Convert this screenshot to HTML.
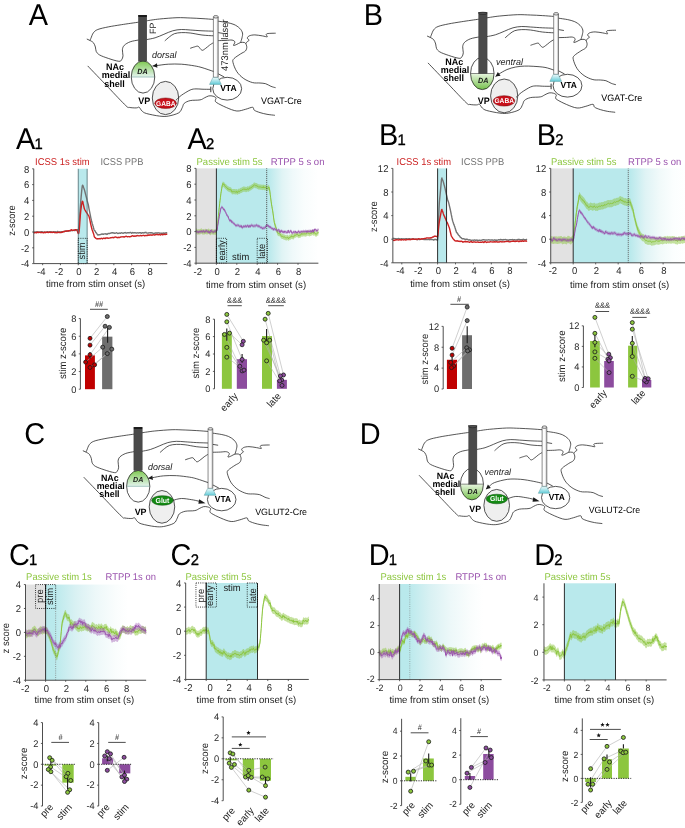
<!DOCTYPE html>
<html><head><meta charset="utf-8"><style>
html,body{margin:0;padding:0;background:#fff;}
svg{display:block;will-change:transform;}
text{font-family:"Liberation Sans", sans-serif;text-rendering:geometricPrecision;}
</style></head><body>
<svg width="685" height="828" viewBox="0 0 685 828" font-family='"Liberation Sans", sans-serif'>
<defs><g id="brainlines" fill="none" stroke="#1a1a1a" stroke-width="0.75"><path d="M86.8,39.0 L90.1,40.5"/><path d="M90.1,40.5 C90.2,40.1 90.4,39.6 90.9,38.3 C91.5,37.0 92.2,34.3 93.4,32.8 C94.6,31.3 95.3,30.5 97.8,29.5 C100.3,28.5 104.4,27.7 108.3,26.9 C112.2,26.1 116.4,25.5 121.4,24.7 C126.4,23.9 135.7,22.6 138.5,22.2"/><path d="M146.6,20.8 C148.8,20.5 154.4,19.5 159.5,19.0 C164.6,18.5 171.9,17.9 177.0,17.7 C182.1,17.5 186.0,17.9 190.2,18.0 C194.4,18.1 198.1,18.4 202.0,18.6 C205.9,18.8 211.5,19.3 213.4,19.4"/><path d="M218.2,21.2 C219.7,21.4 224.7,22.1 227.3,22.6 C229.9,23.2 231.9,23.6 234.0,24.5 C236.1,25.4 238.3,26.9 239.7,28.3 C241.1,29.7 242.1,31.4 242.5,33.0 C242.9,34.6 242.3,36.2 242.0,37.8 C241.7,39.4 240.8,41.7 240.6,42.5"/><path d="M90.1,40.5 C90.6,40.9 92.5,41.6 93.4,42.7 C94.3,43.8 94.9,45.5 95.4,47.0 C95.9,48.5 95.5,50.1 96.2,51.4 C96.9,52.7 97.5,53.7 99.5,54.9 C101.5,56.1 105.1,57.3 108.3,58.4 C111.5,59.5 116.6,61.1 118.8,61.3 C121.0,61.5 120.9,60.7 121.6,59.8 C122.3,58.9 122.9,57.5 123.0,55.8 C123.1,54.1 122.2,51.5 122.4,49.7 C122.6,48.0 123.0,46.6 124.3,45.3 C125.6,44.0 127.8,42.7 130.2,41.8 C132.6,40.9 137.1,40.3 138.5,40.0"/><path d="M146.6,39.6 C148.0,39.3 152.2,38.7 155.1,37.8 C158.0,36.9 161.0,35.5 163.9,34.3 C166.8,33.1 169.8,31.6 172.7,30.8 C175.6,30.0 178.5,29.6 181.4,29.5 C184.3,29.4 186.8,29.8 190.2,30.0 C193.6,30.2 198.1,30.6 202.0,30.8 C205.9,31.0 211.5,31.1 213.4,31.2"/><path d="M164.8,40.9 C165.6,40.2 167.9,38.0 169.5,36.8 C171.1,35.6 172.4,34.4 174.4,33.7 C176.4,33.0 178.8,32.7 181.4,32.6 C184.0,32.5 186.8,32.6 190.2,33.0 C193.6,33.4 198.1,34.5 202.0,35.0 C205.9,35.5 211.5,35.7 213.4,35.8"/><path d="M218.2,32.6 L223.6,33.5"/><path d="M190.2,48.3 C190.9,48.1 193.2,47.2 194.5,46.9 C195.8,46.5 197.1,45.9 198.0,46.2 C198.9,46.5 199.5,47.9 200.2,48.6 C200.9,49.3 201.5,50.3 202.3,50.3 C203.2,50.3 204.1,49.5 205.3,48.6 C206.5,47.8 208.2,46.2 209.5,45.2 C210.8,44.2 212.8,43.1 213.4,42.7"/><path d="M218.2,40.6 C219.5,40.6 223.7,40.5 226.0,40.4 C228.3,40.3 230.6,39.8 232.1,40.1 C233.6,40.4 234.7,41.1 234.9,42.0 C235.1,42.9 233.2,45.0 233.5,45.4 C233.8,45.8 235.6,44.9 236.8,44.4 C238.0,43.9 239.3,42.8 240.6,42.5 C241.9,42.2 243.5,42.3 244.4,42.5 C245.3,42.7 245.6,43.3 245.8,43.5"/><path d="M245.8,43.5 C246.1,43.2 246.7,42.2 247.3,41.6 C247.9,41.0 249.2,40.7 249.2,40.1 C249.2,39.5 247.3,38.9 247.3,38.2 C247.3,37.5 247.9,36.5 249.2,35.9 C250.4,35.3 252.6,34.9 254.8,34.9 C257.0,34.9 260.3,35.6 262.4,35.9 C264.5,36.2 266.6,37.0 267.2,36.8 C267.8,36.6 266.0,35.0 266.2,34.5 C266.4,34.0 266.5,33.7 268.1,33.5 C269.7,33.3 274.4,33.2 275.7,33.2"/><path d="M245.8,43.5 C246.0,44.1 246.9,46.0 246.8,47.3 C246.7,48.5 246.4,49.9 245.4,51.0 C244.4,52.1 242.5,52.6 240.6,53.9 C238.7,55.2 235.3,57.2 234.0,58.6 C232.7,60.0 232.5,60.3 233.0,62.5 C233.5,64.7 235.0,68.9 236.8,71.6 C238.6,74.3 241.2,76.8 243.8,78.6 C246.4,80.4 249.9,81.9 252.6,82.6 C255.3,83.3 257.8,82.8 260.0,83.0 C262.2,83.2 263.8,83.2 265.6,83.7 C267.4,84.2 269.2,85.6 270.9,86.3 C272.6,87.0 274.8,87.5 275.6,87.7"/><path d="M218.2,73.8 L224.3,77.0"/><path d="M87.7,65.9 C91.1,69.5 102.0,80.8 108.3,87.4 C114.6,94.0 122.3,102.3 125.8,105.6 C129.3,108.9 127.6,107.0 129.3,107.4 C131.1,107.8 134.7,108.0 136.3,107.9 C137.9,107.9 138.2,106.9 138.9,107.1 C139.6,107.3 140.2,108.6 140.7,109.3 C141.2,110.0 141.1,110.3 142.0,111.0 C142.9,111.7 143.5,112.7 146.4,113.5 C149.3,114.3 155.8,115.7 159.5,116.1 C163.2,116.5 165.1,116.6 168.3,116.1 C171.5,115.5 176.5,114.2 178.8,112.8 C181.1,111.4 181.4,109.1 182.3,107.5 C183.2,105.9 182.9,104.6 184.2,103.4 C185.5,102.2 187.6,101.2 190.2,100.6 C192.8,100.0 197.6,100.4 200.0,99.9 C202.4,99.5 202.9,98.6 204.4,97.9 C205.9,97.2 207.4,96.2 208.8,95.9 C210.2,95.6 211.9,95.9 213.1,96.2 C214.3,96.5 215.6,97.2 216.0,97.9 C216.4,98.6 215.2,99.7 215.3,100.5 C215.4,101.3 215.0,101.5 216.8,102.7 C218.6,103.9 223.0,106.1 226.3,107.5 C229.6,108.9 233.6,110.7 236.8,111.0 C240.0,111.3 242.9,109.9 245.5,109.3 C248.1,108.7 251.1,107.1 252.6,107.3 C254.1,107.5 253.1,109.3 254.3,110.2 C255.5,111.1 257.9,111.9 260.0,112.6 C262.1,113.3 264.5,113.8 267.0,114.3 C269.5,114.8 273.6,115.1 274.9,115.3"/></g><linearGradient id="cone" x1="0" y1="0" x2="0" y2="1"><stop offset="0" stop-color="#eefafb"/><stop offset="1" stop-color="#62ccd8"/></linearGradient><linearGradient id="lfib" x1="0" y1="0" x2="1" y2="0"><stop offset="0" stop-color="#ffffff"/><stop offset="0.62" stop-color="#fbfbfb"/><stop offset="0.8" stop-color="#d4d4d4"/><stop offset="1" stop-color="#c4c4c4"/></linearGradient><linearGradient id="gtop" x1="0" y1="0" x2="0" y2="1"><stop offset="0" stop-color="#7ec850"/><stop offset="1" stop-color="#e4f4ee"/></linearGradient><linearGradient id="gbot" x1="0" y1="0" x2="0" y2="1"><stop offset="0" stop-color="#e8f6e0"/><stop offset="1" stop-color="#74c04a"/></linearGradient><linearGradient id="gA2" x1="0" y1="0" x2="1" y2="0"><stop offset="0" stop-color="#b9e9ec" stop-opacity="1"/><stop offset="0.03" stop-color="#b9e9ec" stop-opacity="1"/><stop offset="0.3" stop-color="#e0f4f5" stop-opacity="1"/><stop offset="0.5" stop-color="#eff9fa" stop-opacity="1"/><stop offset="0.72" stop-color="#f9fdfd" stop-opacity="1"/><stop offset="1" stop-color="#ffffff" stop-opacity="1"/></linearGradient><linearGradient id="gB2" x1="0" y1="0" x2="1" y2="0"><stop offset="0" stop-color="#b9e9ec" stop-opacity="1"/><stop offset="0.03" stop-color="#b9e9ec" stop-opacity="1"/><stop offset="0.3" stop-color="#dff3f5" stop-opacity="1"/><stop offset="0.55" stop-color="#f1fafa" stop-opacity="1"/><stop offset="0.78" stop-color="#fbfefe" stop-opacity="1"/><stop offset="1" stop-color="#ffffff" stop-opacity="1"/></linearGradient><linearGradient id="gC1" x1="0" y1="0" x2="1" y2="0"><stop offset="0" stop-color="#b9e9ec" stop-opacity="1"/><stop offset="0.08" stop-color="#b9e9ec" stop-opacity="1"/><stop offset="0.3" stop-color="#d9f1f3" stop-opacity="1"/><stop offset="0.5" stop-color="#edf8f9" stop-opacity="1"/><stop offset="0.7" stop-color="#fafdfd" stop-opacity="1"/><stop offset="0.82" stop-color="#ffffff" stop-opacity="1"/></linearGradient><linearGradient id="gD1" x1="0" y1="0" x2="1" y2="0"><stop offset="0" stop-color="#b9e9ec" stop-opacity="1"/><stop offset="0.08" stop-color="#b9e9ec" stop-opacity="1"/><stop offset="0.3" stop-color="#d9f1f3" stop-opacity="1"/><stop offset="0.5" stop-color="#edf8f9" stop-opacity="1"/><stop offset="0.7" stop-color="#fafdfd" stop-opacity="1"/><stop offset="0.82" stop-color="#ffffff" stop-opacity="1"/></linearGradient></defs>
<rect width="685" height="828" fill="#fff"/>
<g transform="translate(0,0)">
<use href="#brainlines"/>
<clipPath id="nacclip0_0"><ellipse cx="143.0" cy="77.0" rx="11.75" ry="16.1"/></clipPath>
<ellipse cx="143.0" cy="77.0" rx="11.75" ry="16.1" fill="#fff"/>
<rect x="131.25" y="60.9" width="23.5" height="16.1" fill="url(#gtop)" clip-path="url(#nacclip0_0)"/>
<line x1="131.25" y1="77.0" x2="154.75" y2="77.0" stroke="#8fb8b0" stroke-width="0.8"/>
<ellipse cx="143.0" cy="77.0" rx="11.75" ry="16.1" fill="none" stroke="#1a1a1a" stroke-width="0.75"/>
<text x="142.5" y="73.6" font-size="7.2" font-weight="bold" font-style="italic" text-anchor="middle" fill="#1a1a1a" transform="translate(142.50 73.60) scale(1 1.038) translate(-142.50 -73.60)">DA</text>
<rect x="138.4" y="15.2" width="8.4" height="45.9" fill="#4a4a4a" stroke="#333" stroke-width="0.4"/>
<rect x="138.4" y="15.0" width="8.4" height="2.0" fill="#1a1a1a"/>
<ellipse cx="165.5" cy="98.0" rx="13.2" ry="16.6" fill="#efefef" stroke="#1a1a1a" stroke-width="0.75"/>
<ellipse cx="165.6" cy="103.2" rx="10.8" ry="5.2" fill="#c8101a" stroke="#6a0000" stroke-width="0.5"/>
<text x="165.79999999999998" y="105.7" font-size="6.6" font-weight="bold" text-anchor="middle" fill="#fff" transform="translate(165.80 105.70) scale(1 1.038) translate(-165.80 -105.70)">GABA</text>
<ellipse cx="227.2" cy="88.7" rx="14.45" ry="11.4" fill="#fff" stroke="#1a1a1a" stroke-width="0.75"/>
<text x="228.4" y="91.2" font-size="8.5" font-weight="bold" text-anchor="middle" transform="translate(228.40 91.20) scale(1 1.038) translate(-228.40 -91.20)">VTA</text>
<path d="M213.4,17 L213.4,77.3 L218.2,77.3 L218.2,17 Z" fill="url(#lfib)" stroke="#3a3a3a" stroke-width="0.6"/>
<ellipse cx="215.8" cy="16.8" rx="2.4" ry="1.3" fill="#ddd" stroke="#3a3a3a" stroke-width="0.6"/>
<path d="M212.9,77.5 L218.1,77.5 L221.3,84.4 L209.5,84.4 Z" fill="url(#cone)" stroke="#4a8a90" stroke-width="0.4"/>
<path d="M175.9,100.3 C176.8,99.5 179.0,97.0 181.4,95.3 C183.8,93.6 187.8,91.1 190.2,90.0 C192.6,88.9 194.0,89.0 196.0,88.9 C198.0,88.8 199.6,89.1 202.0,89.2 C204.4,89.3 209.1,89.3 210.5,89.3" fill="none" stroke="#1a1a1a" stroke-width="0.75"/>
<line x1="210.8" y1="86.6" x2="210.8" y2="92.2" stroke="#1a1a1a" stroke-width="0.9"/>
<path d="M152.6,65.9 C153.2,65.9 153.9,65.9 156.5,65.6 C159.1,65.3 164.2,64.4 168.3,64.2 C172.5,64.0 177.0,63.9 181.4,64.2 C185.8,64.5 191.2,65.3 194.6,65.9 C198.0,66.5 198.9,66.7 202.0,67.6 C205.1,68.5 211.5,70.8 213.4,71.4" fill="none" stroke="#1a1a1a" stroke-width="0.75"/>
<path d="M152.60,65.90 L157.36,67.84 L157.01,63.25 Z" fill="#1a1a1a"/>
<text x="115" y="70.3" font-size="9" font-weight="bold" text-anchor="middle" transform="translate(115.00 70.30) scale(1 1.038) translate(-115.00 -70.30)">NAc</text>
<text x="115.9" y="78.2" font-size="9" font-weight="bold" text-anchor="middle" transform="translate(115.90 78.20) scale(1 1.038) translate(-115.90 -78.20)">medial</text>
<text x="114.6" y="86.5" font-size="9" font-weight="bold" text-anchor="middle" transform="translate(114.60 86.50) scale(1 1.038) translate(-114.60 -86.50)">shell</text>
<text x="144.2" y="103.6" font-size="9" font-weight="bold" text-anchor="middle" transform="translate(144.20 103.60) scale(1 1.038) translate(-144.20 -103.60)">VP</text>
<text x="261" y="104.3" font-size="9" transform="translate(261.00 104.30) scale(1 1.038) translate(-261.00 -104.30)">VGAT-Cre</text>
<text x="152.1" y="58.4" font-size="9" font-style="italic" fill="#222" transform="translate(152.10 58.40) scale(1 1.038) translate(-152.10 -58.40)">dorsal</text>
<text x="156.2" y="33.9" font-size="8.8" fill="#222" transform="translate(156.20 33.90) rotate(-90) scale(1 1.038) translate(-156.20 -33.90)">FP</text>
<text x="228" y="70.9" font-size="9.3" fill="#222" textLength="51.5" lengthAdjust="spacingAndGlyphs" transform="translate(228.00 70.90) rotate(-90) scale(1 1.038) translate(-228.00 -70.90)">473nm laser</text>
</g>
<g transform="translate(340.3,-3)">
<use href="#brainlines"/>
<clipPath id="nacclip340_-3"><ellipse cx="142.0" cy="76.5" rx="11.75" ry="16.1"/></clipPath>
<ellipse cx="142.0" cy="76.5" rx="11.75" ry="16.1" fill="#fff"/>
<rect x="130.25" y="76.5" width="23.5" height="16.1" fill="url(#gbot)" clip-path="url(#nacclip340_-3)"/>
<line x1="130.25" y1="76.5" x2="153.75" y2="76.5" stroke="#3a3a3a" stroke-width="0.6"/>
<ellipse cx="142.0" cy="76.5" rx="11.75" ry="16.1" fill="none" stroke="#1a1a1a" stroke-width="0.75"/>
<text x="142.95" y="86.0" font-size="7.2" font-weight="bold" font-style="italic" text-anchor="middle" fill="#1a1a1a" transform="translate(142.95 86.00) scale(1 1.038) translate(-142.95 -86.00)">DA</text>
<rect x="138.4" y="15.2" width="8.4" height="61.3" fill="#4a4a4a" stroke="#333" stroke-width="0.4"/>
<ellipse cx="142.6" cy="16.3" rx="4.2" ry="1.1" fill="#555" stroke="#1a1a1a" stroke-width="0.6"/>
<ellipse cx="163.9" cy="98.9" rx="13.6" ry="16.9" fill="#efefef" stroke="#1a1a1a" stroke-width="0.75"/>
<ellipse cx="163.7" cy="103.9" rx="10.8" ry="5.2" fill="#c8101a" stroke="#6a0000" stroke-width="0.5"/>
<text x="163.89999999999998" y="106.4" font-size="6.6" font-weight="bold" text-anchor="middle" fill="#fff" transform="translate(163.90 106.40) scale(1 1.038) translate(-163.90 -106.40)">GABA</text>
<ellipse cx="227.2" cy="88.7" rx="14.45" ry="11.4" fill="#fff" stroke="#1a1a1a" stroke-width="0.75"/>
<text x="228.4" y="91.2" font-size="8.5" font-weight="bold" text-anchor="middle" transform="translate(228.40 91.20) scale(1 1.038) translate(-228.40 -91.20)">VTA</text>
<path d="M213.4,17 L213.4,77.3 L218.2,77.3 L218.2,17 Z" fill="url(#lfib)" stroke="#3a3a3a" stroke-width="0.6"/>
<ellipse cx="215.8" cy="16.8" rx="2.4" ry="1.3" fill="#ddd" stroke="#3a3a3a" stroke-width="0.6"/>
<path d="M212.9,77.5 L218.1,77.5 L221.3,84.4 L209.5,84.4 Z" fill="url(#cone)" stroke="#4a8a90" stroke-width="0.4"/>
<path d="M175.9,100.3 C176.8,99.5 179.0,97.0 181.4,95.3 C183.8,93.6 187.8,91.1 190.2,90.0 C192.6,88.9 194.0,89.0 196.0,88.9 C198.0,88.8 199.6,89.1 202.0,89.2 C204.4,89.3 209.1,89.3 210.5,89.3" fill="none" stroke="#1a1a1a" stroke-width="0.75"/>
<line x1="210.8" y1="86.6" x2="210.8" y2="92.2" stroke="#1a1a1a" stroke-width="0.9"/>
<path d="M155.2,79.6 C155.8,79.2 156.8,78.2 158.7,77.0 C160.6,75.8 163.8,73.8 166.6,72.6 C169.4,71.4 172.5,70.6 175.4,70.0 C178.3,69.4 181.2,69.2 184.1,69.1 C187.0,69.0 189.5,69.1 192.9,69.3 C196.3,69.5 201.3,69.8 204.7,70.4 C208.1,71.0 211.9,72.6 213.4,73.0" fill="none" stroke="#1a1a1a" stroke-width="0.75"/>
<path d="M155.20,79.60 L160.26,78.70 L157.52,75.01 Z" fill="#1a1a1a"/>
<text x="113.9" y="68.1" font-size="9" font-weight="bold" text-anchor="middle" transform="translate(113.90 68.10) scale(1 1.038) translate(-113.90 -68.10)">NAc</text>
<text x="114.80000000000001" y="76.0" font-size="9" font-weight="bold" text-anchor="middle" transform="translate(114.80 76.00) scale(1 1.038) translate(-114.80 -76.00)">medial</text>
<text x="113.5" y="84.3" font-size="9" font-weight="bold" text-anchor="middle" transform="translate(113.50 84.30) scale(1 1.038) translate(-113.50 -84.30)">shell</text>
<text x="143.45" y="107.0" font-size="9" font-weight="bold" text-anchor="middle" transform="translate(143.45 107.00) scale(1 1.038) translate(-143.45 -107.00)">VP</text>
<text x="261" y="104.3" font-size="9" transform="translate(261.00 104.30) scale(1 1.038) translate(-261.00 -104.30)">VGAT-Cre</text>
<text x="155.7" y="68.3" font-size="9" font-style="italic" fill="#222" transform="translate(155.70 68.30) scale(1 1.038) translate(-155.70 -68.30)">ventral</text>
</g>
<g transform="translate(-3.0,412.3) scale(0.989,0.984)">
<use href="#brainlines"/>
<clipPath id="nacclip-3_412"><ellipse cx="142.8" cy="75.2" rx="11.75" ry="16.1"/></clipPath>
<ellipse cx="142.8" cy="75.2" rx="11.75" ry="16.1" fill="#fff"/>
<rect x="131.05" y="59.1" width="23.5" height="16.1" fill="url(#gtop)" clip-path="url(#nacclip-3_412)"/>
<line x1="131.05" y1="75.2" x2="154.55" y2="75.2" stroke="#8fb8b0" stroke-width="0.8"/>
<ellipse cx="142.8" cy="75.2" rx="11.75" ry="16.1" fill="none" stroke="#1a1a1a" stroke-width="0.75"/>
<text x="142.8" y="71.3" font-size="7.2" font-weight="bold" font-style="italic" text-anchor="middle" fill="#1a1a1a" transform="translate(142.80 71.30) scale(1 1.038) translate(-142.80 -71.30)">DA</text>
<rect x="138.4" y="15.2" width="8.4" height="44.1" fill="#4a4a4a" stroke="#333" stroke-width="0.4"/>
<rect x="138.4" y="15.0" width="8.4" height="2.0" fill="#1a1a1a"/>
<ellipse cx="166.8" cy="96.1" rx="12.9" ry="16.6" fill="#efefef" stroke="#1a1a1a" stroke-width="0.75"/>
<ellipse cx="167.3" cy="89.6" rx="10.9" ry="4.9" fill="#138a13" stroke="#0a4a0a" stroke-width="0.5"/>
<text x="167.3" y="92.0" font-size="7.0" font-weight="bold" text-anchor="middle" fill="#fff" transform="translate(167.30 92.00) scale(1 1.038) translate(-167.30 -92.00)">Glut</text>
<ellipse cx="227.2" cy="88.7" rx="14.45" ry="11.4" fill="#fff" stroke="#1a1a1a" stroke-width="0.75"/>
<text x="228.4" y="91.2" font-size="8.5" font-weight="bold" text-anchor="middle" transform="translate(228.40 91.20) scale(1 1.038) translate(-228.40 -91.20)">VTA</text>
<path d="M213.4,17 L213.4,77.3 L218.2,77.3 L218.2,17 Z" fill="url(#lfib)" stroke="#3a3a3a" stroke-width="0.6"/>
<ellipse cx="215.8" cy="16.8" rx="2.4" ry="1.3" fill="#ddd" stroke="#3a3a3a" stroke-width="0.6"/>
<path d="M212.9,77.5 L218.1,77.5 L221.3,84.4 L209.5,84.4 Z" fill="url(#cone)" stroke="#4a8a90" stroke-width="0.4"/>
<path d="M178.1,89.4 C179.5,89.1 183.4,87.7 186.5,87.6 C189.6,87.5 194.0,88.4 196.8,88.8 C199.6,89.2 201.7,89.8 203.5,90.2 C205.3,90.7 206.8,91.3 207.5,91.5" fill="none" stroke="#1a1a1a" stroke-width="0.75"/>
<path d="M210.8,92.4 L204.4,88.3 L203.6,92.9 Z" fill="#1a1a1a"/>
<path d="M152.8,67.1 C153.5,67.0 154.4,66.9 157.0,66.5 C159.6,66.1 164.2,64.9 168.3,64.6 C172.4,64.2 177.0,64.2 181.4,64.4 C185.8,64.6 191.2,65.4 194.6,65.9 C198.0,66.4 198.9,66.7 202.0,67.6 C205.1,68.5 211.5,70.8 213.4,71.4" fill="none" stroke="#1a1a1a" stroke-width="0.75"/>
<path d="M152.80,67.10 L157.68,68.73 L157.03,64.17 Z" fill="#1a1a1a"/>
<text x="114.1" y="70.3" font-size="9" font-weight="bold" text-anchor="middle" transform="translate(114.10 70.30) scale(1 1.038) translate(-114.10 -70.30)">NAc</text>
<text x="115.0" y="78.2" font-size="9" font-weight="bold" text-anchor="middle" transform="translate(115.00 78.20) scale(1 1.038) translate(-115.00 -78.20)">medial</text>
<text x="113.69999999999999" y="86.5" font-size="9" font-weight="bold" text-anchor="middle" transform="translate(113.70 86.50) scale(1 1.038) translate(-113.70 -86.50)">shell</text>
<text x="145.2" y="103.9" font-size="9" font-weight="bold" text-anchor="middle" transform="translate(145.20 103.90) scale(1 1.038) translate(-145.20 -103.90)">VP</text>
<text x="261" y="104.3" font-size="9" transform="translate(261.00 104.30) scale(1 1.038) translate(-261.00 -104.30)">VGLUT2-Cre</text>
<text x="152.7" y="58.5" font-size="9" font-style="italic" fill="#222" transform="translate(152.70 58.50) scale(1 1.038) translate(-152.70 -58.50)">dorsal</text>
</g>
<g transform="translate(333.2,410.7) scale(0.979,0.979)">
<use href="#brainlines"/>
<clipPath id="nacclip333_410"><ellipse cx="141.7" cy="75.0" rx="11.75" ry="16.1"/></clipPath>
<ellipse cx="141.7" cy="75.0" rx="11.75" ry="16.1" fill="#fff"/>
<rect x="129.95" y="75.0" width="23.5" height="16.1" fill="url(#gbot)" clip-path="url(#nacclip333_410)"/>
<line x1="129.95" y1="75.0" x2="153.45" y2="75.0" stroke="#3a3a3a" stroke-width="0.6"/>
<ellipse cx="141.7" cy="75.0" rx="11.75" ry="16.1" fill="none" stroke="#1a1a1a" stroke-width="0.75"/>
<text x="142.5" y="84.8" font-size="7.2" font-weight="bold" font-style="italic" text-anchor="middle" fill="#1a1a1a" transform="translate(142.50 84.80) scale(1 1.038) translate(-142.50 -84.80)">DA</text>
<rect x="138.4" y="15.2" width="8.4" height="59.8" fill="#4a4a4a" stroke="#333" stroke-width="0.4"/>
<ellipse cx="142.6" cy="16.3" rx="4.2" ry="1.1" fill="#555" stroke="#1a1a1a" stroke-width="0.6"/>
<ellipse cx="167.0" cy="96.7" rx="13.1" ry="16.3" fill="#efefef" stroke="#1a1a1a" stroke-width="0.75"/>
<ellipse cx="167.1" cy="90.2" rx="10.9" ry="4.9" fill="#138a13" stroke="#0a4a0a" stroke-width="0.5"/>
<text x="167.1" y="92.60000000000001" font-size="7.0" font-weight="bold" text-anchor="middle" fill="#fff" transform="translate(167.10 92.60) scale(1 1.038) translate(-167.10 -92.60)">Glut</text>
<ellipse cx="227.2" cy="88.7" rx="14.45" ry="11.4" fill="#fff" stroke="#1a1a1a" stroke-width="0.75"/>
<text x="228.4" y="91.2" font-size="8.5" font-weight="bold" text-anchor="middle" transform="translate(228.40 91.20) scale(1 1.038) translate(-228.40 -91.20)">VTA</text>
<path d="M213.4,17 L213.4,77.3 L218.2,77.3 L218.2,17 Z" fill="url(#lfib)" stroke="#3a3a3a" stroke-width="0.6"/>
<ellipse cx="215.8" cy="16.8" rx="2.4" ry="1.3" fill="#ddd" stroke="#3a3a3a" stroke-width="0.6"/>
<path d="M212.9,77.5 L218.1,77.5 L221.3,84.4 L209.5,84.4 Z" fill="url(#cone)" stroke="#4a8a90" stroke-width="0.4"/>
<path d="M177.9,90.0 C179.3,89.6 183.3,87.8 186.5,87.6 C189.7,87.4 194.0,88.4 196.8,88.8 C199.6,89.2 201.7,89.8 203.5,90.2 C205.3,90.7 206.8,91.3 207.5,91.5" fill="none" stroke="#1a1a1a" stroke-width="0.75"/>
<path d="M210.8,92.4 L204.4,88.3 L203.6,92.9 Z" fill="#1a1a1a"/>
<path d="M156.0,80.2 C156.6,79.7 158.1,78.3 159.5,77.2 C160.9,76.1 161.5,74.7 164.6,73.5 C167.7,72.3 173.6,70.7 178.1,70.1 C182.6,69.5 187.0,69.8 191.5,70.1 C196.0,70.4 201.2,71.5 204.9,72.2 C208.6,72.9 212.0,73.8 213.4,74.1" fill="none" stroke="#1a1a1a" stroke-width="0.75"/>
<path d="M156.00,80.20 L160.99,78.95 L158.00,75.46 Z" fill="#1a1a1a"/>
<text x="114.7" y="70.2" font-size="9" font-weight="bold" text-anchor="middle" transform="translate(114.70 70.20) scale(1 1.038) translate(-114.70 -70.20)">NAc</text>
<text x="115.60000000000001" y="78.10000000000001" font-size="9" font-weight="bold" text-anchor="middle" transform="translate(115.60 78.10) scale(1 1.038) translate(-115.60 -78.10)">medial</text>
<text x="114.3" y="86.4" font-size="9" font-weight="bold" text-anchor="middle" transform="translate(114.30 86.40) scale(1 1.038) translate(-114.30 -86.40)">shell</text>
<text x="145.1" y="103.6" font-size="9" font-weight="bold" text-anchor="middle" transform="translate(145.10 103.60) scale(1 1.038) translate(-145.10 -103.60)">VP</text>
<text x="261" y="104.3" font-size="9" transform="translate(261.00 104.30) scale(1 1.038) translate(-261.00 -104.30)">VGLUT2-Cre</text>
<text x="154.6" y="66.1" font-size="9" font-style="italic" fill="#222" transform="translate(154.60 66.10) scale(1 1.038) translate(-154.60 -66.10)">ventral</text>
</g>
<text x="28.80" y="24.80" font-size="28.9" transform="translate(28.80 24.80) scale(1 1.038) translate(-28.80 -24.80)">A</text>
<text x="363.80" y="24.80" font-size="28.9" transform="translate(363.80 24.80) scale(1 1.038) translate(-363.80 -24.80)">B</text>
<text x="24.20" y="443.60" font-size="28.9" transform="translate(24.20 443.60) scale(1 1.038) translate(-24.20 -443.60)">C</text>
<text x="359.80" y="443.70" font-size="28.9" transform="translate(359.80 443.70) scale(1 1.038) translate(-359.80 -443.70)">D</text>
<text x="16.10" y="148.70" font-size="28.9" transform="translate(16.10 148.70) scale(1 1.038) translate(-16.10 -148.70)">A</text>
<text x="34.58" y="148.70" font-size="14.8" stroke="#000" stroke-width="0.35" transform="translate(34.58 148.70) scale(1 1.038) translate(-34.58 -148.70)">1</text>
<rect x="78.25" y="168.80" width="8.90" height="94.80" fill="#b9e9ec"/>
<polyline points="33.75,231.65 34.11,231.94 34.46,232.29 34.82,232.10 35.17,232.33 35.53,231.96 35.89,232.17 36.24,231.83 36.60,232.09 36.95,231.80 37.31,232.11 37.67,232.12 38.02,232.36 38.38,231.94 38.73,232.05 39.09,232.02 39.45,232.28 39.80,232.13 40.16,232.03 40.51,232.06 40.87,231.92 41.23,231.88 41.58,231.66 41.94,231.70 42.29,231.91 42.65,231.99 43.01,232.23 43.36,232.17 43.72,232.09 44.07,232.06 44.43,232.07 44.79,232.23 45.14,232.25 45.50,232.29 45.85,232.20 46.21,232.24 46.57,232.12 46.92,231.90 47.28,231.65 47.63,231.71 47.99,232.04 48.35,232.24 48.70,231.99 49.06,231.87 49.41,231.85 49.77,232.05 50.13,231.78 50.48,231.68 50.84,231.63 51.19,231.86 51.55,231.93 51.91,232.16 52.26,232.24 52.62,232.22 52.97,232.00 53.33,231.84 53.69,231.69 54.04,231.73 54.40,231.72 54.75,231.95 55.11,231.82 55.47,231.87 55.82,231.81 56.18,231.91 56.53,231.98 56.89,231.80 57.25,231.66 57.60,231.36 57.96,231.70 58.31,232.09 58.67,232.44 59.03,232.24 59.38,231.93 59.74,231.82 60.09,232.11 60.45,232.25 60.81,232.15 61.16,231.81 61.52,231.62 61.87,231.72 62.23,231.73 62.59,231.76 62.94,231.63 63.30,231.53 63.65,231.50 64.01,231.60 64.37,231.53 64.72,231.48 65.08,231.20 65.43,231.05 65.79,230.99 66.15,231.14 66.50,231.34 66.86,231.27 67.21,231.16 67.57,231.08 67.93,231.08 68.28,231.13 68.64,230.95 68.99,230.97 69.35,230.68 69.71,230.67 70.06,230.49 70.42,230.75 70.77,230.73 71.13,230.67 71.49,230.61 71.84,230.62 72.20,230.67 72.55,230.68 72.91,230.56 73.27,230.42 73.62,230.32 73.98,230.28 74.33,230.53 74.69,230.39 75.05,230.62 75.40,230.27 75.76,230.18 76.11,229.94 76.47,230.16 76.83,230.01 77.18,229.74 77.54,229.92 77.89,230.01 78.25,230.16 78.61,228.64 78.96,225.97 79.32,221.30 79.67,216.15 80.03,210.86 80.39,206.24 80.74,201.69 81.10,197.49 81.45,193.50 81.81,189.59 82.17,186.76 82.52,185.14 82.88,185.43 83.23,186.36 83.59,187.53 83.95,188.47 84.30,189.46 84.66,190.59 85.01,192.01 85.37,193.48 85.73,194.84 86.08,196.21 86.44,197.50 86.79,199.00 87.15,200.73 87.51,202.06 87.86,203.20 88.22,204.40 88.57,206.24 88.93,208.28 89.29,210.08 89.64,211.81 90.00,213.68 90.35,215.47 90.71,217.34 91.07,218.89 91.42,220.52 91.78,221.79 92.13,223.15 92.49,224.19 92.85,225.44 93.20,226.34 93.56,227.93 93.91,229.26 94.27,230.39 94.63,230.51 94.98,230.92 95.34,231.49 95.69,232.31 96.05,232.56 96.41,233.06 96.76,233.40 97.12,234.08 97.47,234.66 97.83,235.00 98.19,235.01 98.54,234.63 98.90,234.63 99.25,234.73 99.61,234.78 99.97,234.69 100.32,234.52 100.68,234.56 101.03,234.39 101.39,234.33 101.75,234.02 102.10,233.97 102.46,233.89 102.81,234.30 103.17,234.32 103.53,234.31 103.88,233.94 104.24,233.83 104.59,233.89 104.95,233.84 105.31,234.00 105.66,233.64 106.02,233.88 106.37,233.99 106.73,234.42 107.09,234.31 107.44,234.18 107.80,233.65 108.15,233.53 108.51,233.51 108.87,233.57 109.22,233.56 109.58,233.50 109.93,233.48 110.29,233.27 110.65,233.12 111.00,233.01 111.36,233.04 111.71,232.76 112.07,232.87 112.43,232.68 112.78,232.87 113.14,233.09 113.49,232.96 113.85,233.04 114.21,232.90 114.56,233.31 114.92,233.26 115.27,233.19 115.63,233.07 115.99,232.95 116.34,232.74 116.70,232.77 117.05,233.01 117.41,233.40 117.77,233.46 118.12,233.51 118.48,233.24 118.83,233.21 119.19,233.03 119.55,233.13 119.90,233.24 120.26,233.31 120.61,233.21 120.97,232.94 121.33,232.88 121.68,232.72 122.04,232.97 122.39,232.95 122.75,233.21 123.11,233.40 123.46,233.09 123.82,233.01 124.17,232.77 124.53,232.75 124.89,232.71 125.24,232.51 125.60,232.85 125.95,232.91 126.31,233.16 126.67,232.97 127.02,233.02 127.38,232.80 127.73,232.74 128.09,232.65 128.45,232.62 128.80,232.74 129.16,232.86 129.51,232.78 129.87,232.61 130.23,232.40 130.58,232.39 130.94,232.70 131.29,232.91 131.65,233.21 132.01,232.93 132.36,232.86 132.72,232.49 133.07,232.75 133.43,232.78 133.79,232.96 134.14,232.74 134.50,232.67 134.85,232.66 135.21,232.78 135.57,232.77 135.92,232.95 136.28,232.94 136.63,233.00 136.99,232.86 137.35,232.81 137.70,232.88 138.06,232.88 138.41,232.99 138.77,232.85 139.13,232.74 139.48,232.83 139.84,232.81 140.19,232.64 140.55,232.71 140.91,232.90 141.26,233.29 141.62,233.14 141.97,232.82 142.33,232.71 142.69,232.76 143.04,232.90 143.40,232.98 143.75,232.75 144.11,232.79 144.47,232.53 144.82,232.77 145.18,232.42 145.53,232.49 145.89,232.32 146.25,232.73 146.60,232.94 146.96,233.14 147.31,233.16 147.67,233.17 148.03,233.02 148.38,233.12 148.74,232.93 149.09,232.85 149.45,232.83 149.81,232.76 150.16,232.92 150.52,232.68 150.87,232.78 151.23,232.61 151.59,232.89 151.94,232.97 152.30,232.93 152.65,232.88 153.01,233.14 153.37,233.59 153.72,233.84 154.08,233.85 154.43,233.65 154.79,233.16 155.15,232.94 155.50,232.85 155.86,233.03 156.21,232.98 156.57,233.05 156.93,233.06 157.28,233.00 157.64,233.14 157.99,232.98 158.35,232.93 158.71,232.80 159.06,232.83 159.42,233.05 159.77,233.10 160.13,233.19 160.49,233.12 160.84,233.11 161.20,233.22 161.55,233.28 161.91,233.10 162.27,233.27 162.62,233.15 162.98,233.31 163.33,232.96 163.69,232.94 164.05,233.28 164.40,233.30 164.76,233.33 165.11,232.96 165.47,233.11 165.83,233.04 166.18,233.10 166.54,232.80 166.89,232.84 167.25,232.71" fill="none" stroke="#737373" stroke-width="1.4" stroke-linejoin="round"/>
<polyline points="33.75,232.51 34.11,232.74 34.46,232.47 34.82,232.70 35.17,232.53 35.53,232.68 35.89,232.60 36.24,232.63 36.60,232.82 36.95,232.58 37.31,232.14 37.67,232.02 38.02,232.23 38.38,232.47 38.73,232.55 39.09,232.41 39.45,232.32 39.80,232.34 40.16,232.34 40.51,232.61 40.87,232.53 41.23,232.50 41.58,232.51 41.94,232.54 42.29,232.60 42.65,232.55 43.01,232.67 43.36,232.82 43.72,232.76 44.07,232.64 44.43,232.16 44.79,232.46 45.14,232.41 45.50,232.65 45.85,232.15 46.21,232.10 46.57,232.26 46.92,232.44 47.28,232.43 47.63,232.36 47.99,232.26 48.35,232.58 48.70,232.31 49.06,232.22 49.41,232.02 49.77,232.17 50.13,232.35 50.48,232.42 50.84,232.49 51.19,232.36 51.55,232.30 51.91,232.36 52.26,232.50 52.62,232.40 52.97,232.18 53.33,232.25 53.69,232.24 54.04,232.38 54.40,232.54 54.75,232.67 55.11,232.71 55.47,232.47 55.82,232.37 56.18,232.63 56.53,232.61 56.89,232.75 57.25,232.67 57.60,232.60 57.96,232.42 58.31,232.32 58.67,232.27 59.03,232.42 59.38,232.33 59.74,232.58 60.09,232.32 60.45,232.66 60.81,232.48 61.16,232.53 61.52,232.38 61.87,232.33 62.23,232.36 62.59,231.92 62.94,231.66 63.30,231.63 63.65,231.86 64.01,231.77 64.37,231.49 64.72,231.30 65.08,231.37 65.43,231.41 65.79,231.21 66.15,231.16 66.50,230.96 66.86,231.19 67.21,231.02 67.57,231.08 67.93,230.81 68.28,230.73 68.64,231.02 68.99,230.77 69.35,230.81 69.71,230.58 70.06,230.61 70.42,230.63 70.77,230.07 71.13,229.82 71.49,229.66 71.84,230.02 72.20,230.27 72.55,230.31 72.91,230.23 73.27,230.23 73.62,230.23 73.98,230.15 74.33,230.07 74.69,230.05 75.05,230.10 75.40,229.66 75.76,229.72 76.11,229.70 76.47,229.95 76.83,230.08 77.18,230.62 77.54,231.72 77.89,232.78 78.25,233.37 78.61,233.60 78.96,232.18 79.32,229.46 79.67,224.68 80.03,219.41 80.39,214.62 80.74,210.88 81.10,208.23 81.45,205.61 81.81,203.53 82.17,201.69 82.52,201.32 82.88,201.96 83.23,203.74 83.59,205.32 83.95,207.02 84.30,208.59 84.66,209.52 85.01,210.24 85.37,210.44 85.73,211.38 86.08,211.87 86.44,212.46 86.79,212.78 87.15,213.32 87.51,213.89 87.86,214.73 88.22,215.19 88.57,215.70 88.93,216.22 89.29,217.58 89.64,218.96 90.00,220.71 90.35,222.39 90.71,224.04 91.07,225.59 91.42,227.09 91.78,228.58 92.13,229.69 92.49,230.72 92.85,231.89 93.20,232.67 93.56,233.82 93.91,234.90 94.27,236.61 94.63,237.26 94.98,237.64 95.34,237.70 95.69,238.13 96.05,238.46 96.41,238.72 96.76,238.91 97.12,238.93 97.47,238.73 97.83,238.58 98.19,238.76 98.54,238.83 98.90,238.73 99.25,238.55 99.61,238.78 99.97,238.90 100.32,238.90 100.68,238.59 101.03,238.39 101.39,238.30 101.75,238.50 102.10,238.69 102.46,238.91 102.81,238.49 103.17,238.34 103.53,238.08 103.88,238.14 104.24,238.18 104.59,238.37 104.95,238.53 105.31,238.47 105.66,238.09 106.02,237.88 106.37,237.97 106.73,238.05 107.09,238.03 107.44,238.00 107.80,238.06 108.15,238.37 108.51,238.15 108.87,238.15 109.22,238.05 109.58,238.15 109.93,238.04 110.29,237.91 110.65,237.74 111.00,237.67 111.36,237.67 111.71,237.73 112.07,237.49 112.43,237.34 112.78,237.38 113.14,237.63 113.49,237.80 113.85,237.51 114.21,237.44 114.56,237.10 114.92,237.10 115.27,237.07 115.63,237.06 115.99,237.13 116.34,237.24 116.70,237.48 117.05,237.53 117.41,237.75 117.77,237.35 118.12,237.49 118.48,237.14 118.83,237.53 119.19,237.55 119.55,237.52 119.90,237.36 120.26,237.09 120.61,236.98 120.97,236.99 121.33,236.90 121.68,236.88 122.04,236.81 122.39,236.87 122.75,236.84 123.11,236.76 123.46,236.68 123.82,237.04 124.17,237.01 124.53,236.96 124.89,236.63 125.24,236.57 125.60,236.34 125.95,236.29 126.31,236.22 126.67,236.56 127.02,236.65 127.38,236.78 127.73,236.77 128.09,236.64 128.45,236.67 128.80,236.53 129.16,236.69 129.51,236.76 129.87,236.80 130.23,236.73 130.58,236.57 130.94,236.53 131.29,236.41 131.65,236.16 132.01,235.88 132.36,235.71 132.72,235.87 133.07,235.82 133.43,236.09 133.79,236.29 134.14,236.42 134.50,236.19 134.85,235.92 135.21,235.92 135.57,236.11 135.92,236.22 136.28,236.04 136.63,235.66 136.99,235.58 137.35,235.46 137.70,235.71 138.06,235.67 138.41,235.87 138.77,235.87 139.13,235.84 139.48,235.88 139.84,235.76 140.19,235.57 140.55,235.45 140.91,235.53 141.26,235.71 141.62,235.75 141.97,235.60 142.33,235.60 142.69,235.55 143.04,235.42 143.40,235.38 143.75,235.32 144.11,235.62 144.47,235.73 144.82,235.76 145.18,235.64 145.53,235.54 145.89,235.62 146.25,235.59 146.60,235.39 146.96,235.54 147.31,235.48 147.67,235.09 148.03,234.87 148.38,235.05 148.74,235.37 149.09,235.30 149.45,234.85 149.81,234.89 150.16,235.04 150.52,235.02 150.87,234.93 151.23,235.06 151.59,235.13 151.94,235.24 152.30,234.84 152.65,234.97 153.01,234.82 153.37,234.92 153.72,234.78 154.08,234.87 154.43,234.94 154.79,234.99 155.15,234.89 155.50,234.76 155.86,234.54 156.21,234.55 156.57,234.51 156.93,234.43 157.28,234.46 157.64,234.45 157.99,234.79 158.35,234.78 158.71,234.62 159.06,234.48 159.42,234.28 159.77,234.62 160.13,234.83 160.49,234.96 160.84,234.99 161.20,234.43 161.55,234.29 161.91,234.26 162.27,234.62 162.62,234.84 162.98,234.61 163.33,234.58 163.69,234.36 164.05,234.21 164.40,234.21 164.76,234.47 165.11,234.58 165.47,234.55 165.83,234.23 166.18,234.31 166.54,234.16 166.89,234.25 167.25,234.18" fill="none" stroke="#cc2222" stroke-width="1.4" stroke-linejoin="round"/>
<line x1="78.25" y1="263.60" x2="78.25" y2="168.80" stroke="#4a6a70" stroke-width="0.8"/>
<line x1="87.15" y1="263.60" x2="87.15" y2="168.80" stroke="#4a6a70" stroke-width="0.8"/>
<rect x="78.25" y="238.32" width="8.90" height="25.28" fill="none" stroke="#000" stroke-width="0.85" stroke-dasharray="0.9,1.3"/>
<text x="85.20" y="259.50" font-size="9.4" fill="#1a1a1a" text-anchor="start" transform="translate(85.20 259.50) rotate(-90) scale(1 1.038) translate(-85.20 -259.50)">stim</text>
<path d="M33.75,168.80 L33.75,263.60 L167.25,263.60" fill="none" stroke="#3a3a3a" stroke-width="0.9"/>
<line x1="42.65" y1="263.60" x2="42.65" y2="265.20" stroke="#3a3a3a" stroke-width="0.8"/>
<line x1="60.45" y1="263.60" x2="60.45" y2="265.20" stroke="#3a3a3a" stroke-width="0.8"/>
<line x1="78.25" y1="263.60" x2="78.25" y2="265.20" stroke="#3a3a3a" stroke-width="0.8"/>
<line x1="96.05" y1="263.60" x2="96.05" y2="265.20" stroke="#3a3a3a" stroke-width="0.8"/>
<line x1="113.85" y1="263.60" x2="113.85" y2="265.20" stroke="#3a3a3a" stroke-width="0.8"/>
<line x1="131.65" y1="263.60" x2="131.65" y2="265.20" stroke="#3a3a3a" stroke-width="0.8"/>
<line x1="149.45" y1="263.60" x2="149.45" y2="265.20" stroke="#3a3a3a" stroke-width="0.8"/>
<line x1="32.15" y1="263.60" x2="33.75" y2="263.60" stroke="#3a3a3a" stroke-width="0.8"/>
<line x1="32.15" y1="247.80" x2="33.75" y2="247.80" stroke="#3a3a3a" stroke-width="0.8"/>
<line x1="32.15" y1="232.00" x2="33.75" y2="232.00" stroke="#3a3a3a" stroke-width="0.8"/>
<line x1="32.15" y1="216.20" x2="33.75" y2="216.20" stroke="#3a3a3a" stroke-width="0.8"/>
<line x1="32.15" y1="200.40" x2="33.75" y2="200.40" stroke="#3a3a3a" stroke-width="0.8"/>
<line x1="32.15" y1="184.60" x2="33.75" y2="184.60" stroke="#3a3a3a" stroke-width="0.8"/>
<line x1="32.15" y1="168.80" x2="33.75" y2="168.80" stroke="#3a3a3a" stroke-width="0.8"/>
<text x="41.25" y="274.90" font-size="9.5" text-anchor="middle" fill="#2a2a2a" transform="translate(41.25 274.90) scale(1 1.038) translate(-41.25 -274.90)">-4</text>
<text x="59.05" y="274.90" font-size="9.5" text-anchor="middle" fill="#2a2a2a" transform="translate(59.05 274.90) scale(1 1.038) translate(-59.05 -274.90)">-2</text>
<text x="78.95" y="274.90" font-size="9.5" text-anchor="middle" fill="#2a2a2a" transform="translate(78.95 274.90) scale(1 1.038) translate(-78.95 -274.90)">0</text>
<text x="96.75" y="274.90" font-size="9.5" text-anchor="middle" fill="#2a2a2a" transform="translate(96.75 274.90) scale(1 1.038) translate(-96.75 -274.90)">2</text>
<text x="114.55" y="274.90" font-size="9.5" text-anchor="middle" fill="#2a2a2a" transform="translate(114.55 274.90) scale(1 1.038) translate(-114.55 -274.90)">4</text>
<text x="132.35" y="274.90" font-size="9.5" text-anchor="middle" fill="#2a2a2a" transform="translate(132.35 274.90) scale(1 1.038) translate(-132.35 -274.90)">6</text>
<text x="150.15" y="274.90" font-size="9.5" text-anchor="middle" fill="#2a2a2a" transform="translate(150.15 274.90) scale(1 1.038) translate(-150.15 -274.90)">8</text>
<text x="29.35" y="267.42" font-size="9.5" text-anchor="end" fill="#2a2a2a" transform="translate(29.35 267.42) scale(1 1.038) translate(-29.35 -267.42)">-4</text>
<text x="29.35" y="251.62" font-size="9.5" text-anchor="end" fill="#2a2a2a" transform="translate(29.35 251.62) scale(1 1.038) translate(-29.35 -251.62)">-2</text>
<text x="29.35" y="235.82" font-size="9.5" text-anchor="end" fill="#2a2a2a" transform="translate(29.35 235.82) scale(1 1.038) translate(-29.35 -235.82)">0</text>
<text x="29.35" y="220.02" font-size="9.5" text-anchor="end" fill="#2a2a2a" transform="translate(29.35 220.02) scale(1 1.038) translate(-29.35 -220.02)">2</text>
<text x="29.35" y="204.22" font-size="9.5" text-anchor="end" fill="#2a2a2a" transform="translate(29.35 204.22) scale(1 1.038) translate(-29.35 -204.22)">4</text>
<text x="29.35" y="188.42" font-size="9.5" text-anchor="end" fill="#2a2a2a" transform="translate(29.35 188.42) scale(1 1.038) translate(-29.35 -188.42)">6</text>
<text x="29.35" y="172.62" font-size="9.5" text-anchor="end" fill="#2a2a2a" transform="translate(29.35 172.62) scale(1 1.038) translate(-29.35 -172.62)">8</text>
<text x="35.10" y="164.70" font-size="9.5" fill="#cc2222" textLength="54.6" lengthAdjust="spacingAndGlyphs" transform="translate(35.10 164.70) scale(1 1.038) translate(-35.10 -164.70)">ICSS 1s stim</text>
<text x="100.50" y="164.70" font-size="9.5" fill="#737373" textLength="42.9" lengthAdjust="spacingAndGlyphs" transform="translate(100.50 164.70) scale(1 1.038) translate(-100.50 -164.70)">ICSS PPB</text>
<text x="15.00" y="220.60" font-size="9.5" text-anchor="middle" fill="#1a1a1a" textLength="30.4" lengthAdjust="spacingAndGlyphs" transform="translate(15.00 220.60) rotate(-90) scale(1 1.038) translate(-15.00 -220.60)">z-score</text>
<text x="95.65" y="287.40" font-size="9.5" text-anchor="middle" fill="#1a1a1a" textLength="99.3" lengthAdjust="spacingAndGlyphs" transform="translate(95.65 287.40) scale(1 1.038) translate(-95.65 -287.40)">time from stim onset (s)</text>
<text x="187.40" y="149.40" font-size="28.9" transform="translate(187.40 149.40) scale(1 1.038) translate(-187.40 -149.40)">A</text>
<text x="205.88" y="149.40" font-size="14.8" stroke="#000" stroke-width="0.35" transform="translate(205.88 149.40) scale(1 1.038) translate(-205.88 -149.40)">2</text>
<rect x="196.00" y="168.40" width="20.40" height="94.80" fill="#e2e2e2"/>
<rect x="216.40" y="168.40" width="50.29" height="94.80" fill="#b9e9ec"/>
<rect x="266.69" y="168.40" width="51.71" height="94.80" fill="url(#gA2)"/>
<polygon points="196.00,227.88 196.41,228.24 196.82,228.88 197.22,229.39 197.63,229.53 198.04,229.37 198.45,229.20 198.86,229.21 199.26,229.22 199.67,229.35 200.08,229.32 200.49,229.05 200.90,228.53 201.30,228.27 201.71,228.52 202.12,228.94 202.53,229.40 202.94,229.42 203.34,229.32 203.75,229.34 204.16,229.44 204.57,229.28 204.98,228.80 205.38,228.73 205.79,229.09 206.20,229.30 206.61,229.15 207.02,229.06 207.42,229.17 207.83,229.16 208.24,228.73 208.65,228.52 209.06,228.81 209.46,229.30 209.87,229.77 210.28,229.94 210.69,230.00 211.10,229.61 211.50,229.09 211.91,229.07 212.32,229.20 212.73,229.28 213.14,229.32 213.54,229.48 213.95,229.66 214.36,229.58 214.77,229.41 215.18,229.53 215.58,229.63 215.99,229.28 216.40,228.43 216.81,226.88 217.22,224.50 217.62,220.97 218.03,216.92 218.44,212.83 218.85,208.87 219.26,204.90 219.66,201.22 220.07,197.84 220.48,194.43 220.89,191.38 221.30,188.47 221.70,186.01 222.11,183.72 222.52,182.04 222.93,181.49 223.34,181.64 223.74,181.93 224.15,182.25 224.56,182.72 224.97,183.45 225.38,183.90 225.78,184.12 226.19,184.49 226.60,184.84 227.01,185.23 227.42,185.70 227.82,186.05 228.23,186.36 228.64,186.55 229.05,186.65 229.46,186.88 229.86,187.03 230.27,187.17 230.68,187.21 231.09,187.43 231.50,188.23 231.90,188.99 232.31,189.22 232.72,189.04 233.13,188.90 233.54,188.92 233.94,188.95 234.35,189.00 234.76,189.00 235.17,189.14 235.58,189.34 235.98,189.33 236.39,189.09 236.80,189.11 237.21,189.51 237.62,189.72 238.02,189.27 238.43,188.73 238.84,188.62 239.25,188.77 239.66,188.73 240.06,188.35 240.47,188.01 240.88,187.87 241.29,187.84 241.70,187.57 242.10,187.27 242.51,187.05 242.92,186.81 243.33,186.59 243.74,186.56 244.14,186.61 244.55,186.64 244.96,186.58 245.37,186.63 245.78,186.96 246.18,187.06 246.59,186.91 247.00,186.54 247.41,186.29 247.82,186.35 248.22,186.49 248.63,186.57 249.04,186.27 249.45,185.72 249.86,185.44 250.26,185.39 250.67,185.34 251.08,185.08 251.49,184.64 251.90,184.20 252.30,183.95 252.71,183.90 253.12,183.65 253.53,183.10 253.94,182.54 254.34,182.45 254.75,182.61 255.16,182.77 255.57,182.93 255.98,182.98 256.38,183.10 256.79,183.31 257.20,183.50 257.61,183.81 258.02,184.04 258.42,184.19 258.83,184.25 259.24,184.24 259.65,184.41 260.06,184.53 260.46,184.44 260.87,184.38 261.28,184.49 261.69,184.66 262.10,184.92 262.50,184.71 262.91,184.43 263.32,184.48 263.73,184.70 264.14,185.01 264.54,184.96 264.95,184.85 265.36,184.91 265.77,185.01 266.18,185.31 266.58,185.47 266.99,185.57 267.40,185.78 267.81,185.80 268.22,185.39 268.62,184.86 269.03,185.02 269.44,186.39 269.85,188.95 270.26,192.04 270.66,195.32 271.07,198.43 271.48,201.32 271.89,203.87 272.30,206.12 272.70,208.58 273.11,211.33 273.52,214.40 273.93,217.31 274.34,219.64 274.74,221.33 275.15,222.74 275.56,223.96 275.97,225.01 276.38,226.18 276.78,227.70 277.19,229.28 277.60,230.19 278.01,230.57 278.42,230.76 278.82,230.94 279.23,231.05 279.64,231.15 280.05,231.52 280.46,232.08 280.86,232.73 281.27,233.31 281.68,233.53 282.09,233.71 282.50,233.72 282.90,233.91 283.31,234.23 283.72,234.33 284.13,234.45 284.54,234.46 284.94,234.66 285.35,234.94 285.76,235.13 286.17,235.31 286.58,235.17 286.98,234.99 287.39,234.77 287.80,235.06 288.21,235.57 288.62,235.64 289.02,235.40 289.43,234.86 289.84,234.61 290.25,234.47 290.66,234.43 291.06,234.13 291.47,233.69 291.88,233.52 292.29,233.80 292.70,234.08 293.10,234.16 293.51,234.20 293.92,233.78 294.33,233.10 294.74,232.60 295.14,232.54 295.55,232.49 295.96,232.27 296.37,232.04 296.78,231.91 297.18,231.94 297.59,231.94 298.00,232.31 298.41,232.73 298.82,232.92 299.22,232.85 299.63,232.56 300.04,232.54 300.45,232.55 300.86,232.11 301.26,231.55 301.67,231.25 302.08,231.28 302.49,231.47 302.90,231.40 303.30,231.33 303.71,231.15 304.12,231.13 304.53,231.28 304.94,231.34 305.34,231.42 305.75,231.28 306.16,231.29 306.57,231.01 306.98,230.68 307.38,230.49 307.79,230.41 308.20,230.49 308.61,230.72 309.02,231.00 309.42,231.18 309.83,231.09 310.24,230.84 310.65,230.70 311.06,230.68 311.46,230.58 311.87,230.14 312.28,229.86 312.69,229.99 313.10,230.44 313.50,230.50 313.91,230.09 314.32,230.03 314.73,230.42 315.14,230.99 315.54,231.32 315.95,231.42 316.36,231.36 316.77,231.19 317.18,230.81 317.58,230.36 317.99,230.27 318.40,230.32 318.40,235.54 317.99,235.49 317.58,235.58 317.18,236.02 316.77,236.40 316.36,236.57 315.95,236.63 315.54,236.53 315.14,236.20 314.73,235.64 314.32,235.25 313.91,235.30 313.50,235.71 313.10,235.66 312.69,235.21 312.28,235.07 311.87,235.36 311.46,235.79 311.06,235.89 310.65,235.92 310.24,236.06 309.83,236.31 309.42,236.39 309.02,236.22 308.61,235.93 308.20,235.71 307.79,235.63 307.38,235.70 306.98,235.89 306.57,236.22 306.16,236.51 305.75,236.50 305.34,236.63 304.94,236.56 304.53,236.50 304.12,236.35 303.71,236.36 303.30,236.54 302.90,236.61 302.49,236.69 302.08,236.49 301.67,236.47 301.26,236.76 300.86,237.32 300.45,237.76 300.04,237.76 299.63,237.77 299.22,238.06 298.82,238.13 298.41,237.94 298.00,237.52 297.59,237.15 297.18,237.15 296.78,237.12 296.37,237.26 295.96,237.49 295.55,237.70 295.14,237.76 294.74,237.82 294.33,238.32 293.92,238.99 293.51,239.42 293.10,239.38 292.70,239.30 292.29,239.02 291.88,238.74 291.47,238.90 291.06,239.34 290.66,239.64 290.25,239.69 289.84,239.82 289.43,240.08 289.02,240.61 288.62,240.85 288.21,240.78 287.80,240.27 287.39,239.99 286.98,240.20 286.58,240.39 286.17,240.53 285.76,240.35 285.35,240.16 284.94,239.88 284.54,239.67 284.13,239.67 283.72,239.54 283.31,239.44 282.90,239.12 282.50,238.93 282.09,238.92 281.68,238.75 281.27,238.52 280.86,237.94 280.46,237.30 280.05,236.73 279.64,236.36 279.23,236.26 278.82,236.15 278.42,235.97 278.01,235.79 277.60,235.40 277.19,234.49 276.78,232.92 276.38,231.40 275.97,230.22 275.56,229.17 275.15,227.95 274.74,226.54 274.34,224.85 273.93,222.52 273.52,219.61 273.11,216.55 272.70,213.79 272.30,211.33 271.89,209.09 271.48,206.53 271.07,203.64 270.66,200.53 270.26,197.25 269.85,194.16 269.44,191.61 269.03,190.24 268.62,190.08 268.22,190.60 267.81,191.01 267.40,191.00 266.99,190.79 266.58,190.68 266.18,190.53 265.77,190.22 265.36,190.13 264.95,190.07 264.54,190.17 264.14,190.23 263.73,189.91 263.32,189.69 262.91,189.64 262.50,189.93 262.10,190.13 261.69,189.87 261.28,189.70 260.87,189.59 260.46,189.66 260.06,189.75 259.65,189.62 259.24,189.46 258.83,189.46 258.42,189.41 258.02,189.25 257.61,189.03 257.20,188.72 256.79,188.52 256.38,188.31 255.98,188.20 255.57,188.14 255.16,187.98 254.75,187.82 254.34,187.66 253.94,187.75 253.53,188.31 253.12,188.87 252.71,189.11 252.30,189.16 251.90,189.42 251.49,189.85 251.08,190.30 250.67,190.55 250.26,190.60 249.86,190.65 249.45,190.93 249.04,191.48 248.63,191.78 248.22,191.70 247.82,191.56 247.41,191.50 247.00,191.75 246.59,192.12 246.18,192.27 245.78,192.17 245.37,191.84 244.96,191.79 244.55,191.85 244.14,191.82 243.74,191.77 243.33,191.80 242.92,192.03 242.51,192.26 242.10,192.49 241.70,192.78 241.29,193.06 240.88,193.09 240.47,193.23 240.06,193.57 239.66,193.94 239.25,193.98 238.84,193.83 238.43,193.94 238.02,194.49 237.62,194.93 237.21,194.73 236.80,194.32 236.39,194.30 235.98,194.54 235.58,194.55 235.17,194.36 234.76,194.22 234.35,194.21 233.94,194.17 233.54,194.13 233.13,194.11 232.72,194.26 232.31,194.43 231.90,194.21 231.50,193.44 231.09,192.65 230.68,192.42 230.27,192.38 229.86,192.24 229.46,192.09 229.05,191.86 228.64,191.77 228.23,191.57 227.82,191.27 227.42,190.91 227.01,190.44 226.60,190.05 226.19,189.71 225.78,189.33 225.38,189.11 224.97,188.66 224.56,187.94 224.15,187.46 223.74,187.15 223.34,186.86 222.93,186.71 222.52,187.25 222.11,188.93 221.70,191.22 221.30,193.69 220.89,196.59 220.48,199.64 220.07,203.06 219.66,206.43 219.26,210.11 218.85,214.09 218.44,218.05 218.03,222.14 217.62,226.18 217.22,229.72 216.81,232.09 216.40,233.64 215.99,234.50 215.58,234.84 215.18,234.74 214.77,234.62 214.36,234.80 213.95,234.87 213.54,234.70 213.14,234.54 212.73,234.50 212.32,234.41 211.91,234.29 211.50,234.31 211.10,234.82 210.69,235.22 210.28,235.15 209.87,234.98 209.46,234.51 209.06,234.02 208.65,233.74 208.24,233.94 207.83,234.37 207.42,234.38 207.02,234.27 206.61,234.37 206.20,234.52 205.79,234.30 205.38,233.94 204.98,234.02 204.57,234.49 204.16,234.66 203.75,234.56 203.34,234.54 202.94,234.63 202.53,234.61 202.12,234.15 201.71,233.73 201.30,233.48 200.90,233.74 200.49,234.26 200.08,234.53 199.67,234.56 199.26,234.43 198.86,234.42 198.45,234.42 198.04,234.59 197.63,234.74 197.22,234.61 196.82,234.09 196.41,233.46 196.00,233.10" fill="rgba(140,198,62,0.5)" stroke="none"/>
<polyline points="196.00,230.33 196.41,230.81 196.82,231.41 197.22,232.23 197.63,232.36 198.04,231.82 198.45,231.76 198.86,231.85 199.26,231.84 199.67,231.79 200.08,232.24 200.49,231.75 200.90,230.97 201.30,230.68 201.71,230.97 202.12,231.73 202.53,231.94 202.94,232.34 203.34,231.80 203.75,231.64 204.16,232.41 204.57,232.09 204.98,231.14 205.38,230.99 205.79,231.88 206.20,232.22 206.61,231.63 207.02,231.43 207.42,231.93 207.83,231.96 208.24,231.42 208.65,230.63 209.06,231.34 209.46,232.26 209.87,232.11 210.28,232.75 210.69,232.79 211.10,232.29 211.50,231.56 211.91,231.25 212.32,232.22 212.73,231.95 213.14,231.50 213.54,232.35 213.95,232.43 214.36,232.02 214.77,232.12 215.18,231.90 215.58,232.39 215.99,232.42 216.40,230.86 216.81,229.83 217.22,227.76 217.62,223.74 218.03,219.22 218.44,215.63 218.85,211.47 219.26,207.35 219.66,203.69 220.07,200.43 220.48,197.23 220.89,193.45 221.30,191.28 221.70,188.50 222.11,186.05 222.52,184.41 222.93,183.46 223.34,184.43 223.74,184.86 224.15,184.33 224.56,185.38 224.97,186.28 225.38,186.50 225.78,186.73 226.19,186.95 226.60,187.62 227.01,187.76 227.42,188.11 227.82,189.04 228.23,188.83 228.64,189.02 229.05,189.63 229.46,189.12 229.86,189.70 230.27,190.07 230.68,189.56 231.09,189.81 231.50,190.75 231.90,191.94 232.31,192.11 232.72,191.43 233.13,191.41 233.54,191.68 233.94,191.50 234.35,191.50 234.76,191.82 235.17,191.51 235.58,191.92 235.98,192.41 236.39,191.47 236.80,191.20 237.21,192.48 237.62,192.69 238.02,191.81 238.43,191.13 238.84,191.07 239.25,191.48 239.66,191.58 240.06,190.94 240.47,190.36 240.88,190.56 241.29,190.52 241.70,190.27 242.10,189.73 242.51,189.63 242.92,189.61 243.33,189.01 243.74,188.96 244.14,189.51 244.55,189.16 244.96,189.06 245.37,189.34 245.78,189.31 246.18,190.04 246.59,189.64 247.00,188.87 247.41,188.93 247.82,188.89 248.22,189.04 248.63,189.35 249.04,189.13 249.45,188.14 249.86,187.70 250.26,188.30 250.67,187.98 251.08,187.56 251.49,187.52 251.90,186.64 252.30,186.26 252.71,186.76 253.12,186.49 253.53,185.53 253.94,185.09 254.34,184.82 254.75,185.25 255.16,185.57 255.57,185.30 255.98,185.74 256.38,185.73 256.79,185.64 257.20,186.38 257.61,186.31 258.02,186.57 258.42,187.06 258.83,186.76 259.24,186.74 259.65,187.05 260.06,187.26 260.46,187.10 260.87,186.78 261.28,187.06 261.69,187.44 262.10,187.30 262.50,187.83 262.91,186.83 263.32,186.45 263.73,187.97 264.14,187.49 264.54,187.39 264.95,187.81 265.36,187.17 265.77,187.58 266.18,188.09 266.58,188.10 266.99,188.04 267.40,188.41 267.81,188.72 268.22,188.09 268.62,187.17 269.03,187.15 269.44,188.57 269.85,191.28 270.26,194.82 270.66,197.84 271.07,201.11 271.48,204.15 271.89,206.51 272.30,208.78 272.70,210.89 273.11,213.89 273.52,217.03 273.93,220.09 274.34,222.63 274.74,224.01 275.15,225.16 275.56,226.87 275.97,227.67 276.38,228.31 276.78,230.40 277.19,232.23 277.60,233.03 278.01,233.13 278.42,233.37 278.82,233.60 279.23,233.66 279.64,233.70 280.05,233.91 280.46,234.78 280.86,235.39 281.27,235.83 281.68,236.53 282.09,236.06 282.50,236.36 282.90,236.57 283.31,236.63 283.72,237.31 284.13,236.86 284.54,237.01 284.94,237.32 285.35,237.48 285.76,237.85 286.17,237.89 286.58,238.02 286.98,237.44 287.39,237.33 287.80,237.37 288.21,238.30 288.62,238.86 289.02,237.58 289.43,237.57 289.84,237.26 290.25,236.81 290.66,237.18 291.06,237.13 291.47,235.91 291.88,235.85 292.29,236.63 292.70,236.75 293.10,236.69 293.51,236.87 293.92,236.87 294.33,235.42 294.74,234.84 295.14,235.37 295.55,235.24 295.96,234.67 296.37,234.73 296.78,234.55 297.18,234.26 297.59,234.84 298.00,234.54 298.41,235.36 298.82,236.11 299.22,235.10 299.63,235.15 300.04,235.23 300.45,235.06 300.86,235.17 301.26,233.91 301.67,233.38 302.08,234.29 302.49,233.98 302.90,233.97 303.30,234.05 303.71,233.77 304.12,233.44 304.53,234.00 304.94,234.23 305.34,233.62 305.75,234.23 306.16,233.82 306.57,233.65 306.98,233.38 307.38,232.82 307.79,233.08 308.20,233.17 308.61,233.06 309.02,233.74 309.42,234.03 309.83,233.58 310.24,233.50 310.65,233.28 311.06,233.15 311.46,233.42 311.87,232.98 312.28,231.85 312.69,232.57 313.10,233.39 313.50,233.20 313.91,232.74 314.32,232.15 314.73,233.02 315.14,233.91 315.54,233.85 315.95,234.01 316.36,234.21 316.77,233.68 317.18,233.50 317.58,233.08 317.99,232.34 318.40,233.23" fill="none" stroke="#8cc63e" stroke-width="1.0" stroke-linejoin="round"/>
<polygon points="196.00,229.90 196.41,230.00 196.82,230.06 197.22,230.10 197.63,230.34 198.04,230.65 198.45,230.70 198.86,230.23 199.26,230.01 199.67,230.09 200.08,230.15 200.49,229.97 200.90,229.76 201.30,229.98 201.71,230.16 202.12,230.32 202.53,230.04 202.94,229.55 203.34,229.39 203.75,229.69 204.16,230.19 204.57,230.28 204.98,230.30 205.38,229.99 205.79,229.61 206.20,229.12 206.61,229.19 207.02,229.52 207.42,229.80 207.83,230.21 208.24,230.31 208.65,230.26 209.06,230.31 209.46,230.84 209.87,230.97 210.28,230.15 210.69,229.13 211.10,228.98 211.50,229.36 211.91,229.89 212.32,230.09 212.73,230.31 213.14,230.47 213.54,230.39 213.95,230.15 214.36,229.86 214.77,229.69 215.18,229.64 215.58,229.59 215.99,229.32 216.40,229.28 216.81,228.83 217.22,227.53 217.62,225.21 218.03,222.28 218.44,219.76 218.85,217.34 219.26,215.00 219.66,212.87 220.07,210.58 220.48,208.60 220.89,206.96 221.30,206.00 221.70,205.62 222.11,205.71 222.52,206.07 222.93,206.63 223.34,207.32 223.74,207.75 224.15,208.08 224.56,208.50 224.97,209.29 225.38,210.27 225.78,211.04 226.19,211.82 226.60,212.82 227.01,213.66 227.42,214.21 227.82,214.63 228.23,215.43 228.64,216.54 229.05,217.74 229.46,218.61 229.86,219.19 230.27,219.07 230.68,218.80 231.09,219.27 231.50,219.94 231.90,220.47 232.31,220.57 232.72,220.83 233.13,221.29 233.54,221.70 233.94,222.06 234.35,222.30 234.76,222.68 235.17,223.23 235.58,223.90 235.98,224.16 236.39,224.00 236.80,223.70 237.21,223.50 237.62,223.69 238.02,223.78 238.43,223.87 238.84,224.07 239.25,224.45 239.66,224.81 240.06,224.91 240.47,224.68 240.88,224.36 241.29,224.63 241.70,225.35 242.10,226.13 242.51,226.07 242.92,225.39 243.33,224.90 243.74,224.73 244.14,224.95 244.55,225.00 244.96,224.62 245.37,224.40 245.78,224.61 246.18,224.96 246.59,224.92 247.00,224.41 247.41,224.00 247.82,224.07 248.22,224.61 248.63,224.96 249.04,224.84 249.45,224.61 249.86,224.77 250.26,224.81 250.67,224.28 251.08,223.76 251.49,223.51 251.90,223.62 252.30,223.91 252.71,224.34 253.12,224.62 253.53,224.54 253.94,224.45 254.34,224.37 254.75,224.34 255.16,224.37 255.57,224.26 255.98,223.99 256.38,223.55 256.79,223.50 257.20,223.89 257.61,224.53 258.02,224.84 258.42,224.61 258.83,224.53 259.24,224.70 259.65,225.16 260.06,225.51 260.46,225.65 260.87,225.88 261.28,225.84 261.69,226.06 262.10,226.49 262.50,226.77 262.91,226.86 263.32,226.53 263.73,226.44 264.14,226.36 264.54,226.33 264.95,226.27 265.36,225.84 265.77,225.06 266.18,224.16 266.58,223.66 266.99,223.68 267.40,223.72 267.81,223.75 268.22,224.07 268.62,224.75 269.03,225.39 269.44,225.31 269.85,225.21 270.26,225.40 270.66,225.94 271.07,226.34 271.48,226.53 271.89,226.91 272.30,226.99 272.70,227.14 273.11,227.49 273.52,227.79 273.93,227.66 274.34,227.24 274.74,227.38 275.15,227.79 275.56,228.10 275.97,228.08 276.38,228.14 276.78,228.50 277.19,228.98 277.60,229.26 278.01,228.97 278.42,228.45 278.82,228.36 279.23,229.02 279.64,230.07 280.05,230.30 280.46,229.88 280.86,229.55 281.27,229.37 281.68,229.50 282.09,229.68 282.50,230.21 282.90,230.70 283.31,230.64 283.72,230.26 284.13,230.15 284.54,230.28 284.94,230.49 285.35,230.40 285.76,230.23 286.17,230.56 286.58,230.84 286.98,231.14 287.39,230.85 287.80,229.98 288.21,229.44 288.62,229.80 289.02,230.48 289.43,230.72 289.84,230.33 290.25,229.77 290.66,229.38 291.06,229.46 291.47,230.29 291.88,231.14 292.29,231.46 292.70,231.38 293.10,231.04 293.51,230.60 293.92,230.32 294.33,230.40 294.74,230.63 295.14,230.38 295.55,230.37 295.96,230.65 296.37,230.95 296.78,231.00 297.18,230.88 297.59,230.87 298.00,230.36 298.41,229.86 298.82,229.86 299.22,230.41 299.63,230.76 300.04,230.67 300.45,230.51 300.86,230.32 301.26,230.18 301.67,230.06 302.08,230.22 302.49,230.20 302.90,229.98 303.30,229.83 303.71,229.81 304.12,229.91 304.53,229.92 304.94,229.99 305.34,229.84 305.75,229.55 306.16,229.73 306.57,230.15 306.98,230.24 307.38,229.88 307.79,229.64 308.20,229.67 308.61,229.80 309.02,229.84 309.42,229.80 309.83,229.53 310.24,229.37 310.65,229.81 311.06,229.97 311.46,229.81 311.87,229.56 312.28,229.20 312.69,228.98 313.10,229.24 313.50,229.49 313.91,229.17 314.32,228.51 314.73,228.08 315.14,228.23 315.54,228.20 315.95,228.44 316.36,228.89 316.77,229.02 317.18,228.99 317.58,228.58 317.99,228.22 318.40,228.05 318.40,231.21 317.99,231.38 317.58,231.74 317.18,232.15 316.77,232.18 316.36,232.05 315.95,231.60 315.54,231.36 315.14,231.39 314.73,231.24 314.32,231.67 313.91,232.33 313.50,232.65 313.10,232.40 312.69,232.14 312.28,232.36 311.87,232.72 311.46,232.97 311.06,233.13 310.65,232.97 310.24,232.53 309.83,232.69 309.42,232.96 309.02,233.00 308.61,232.96 308.20,232.83 307.79,232.80 307.38,233.04 306.98,233.40 306.57,233.31 306.16,232.89 305.75,232.71 305.34,233.00 304.94,233.15 304.53,233.08 304.12,233.07 303.71,232.97 303.30,232.99 302.90,233.14 302.49,233.36 302.08,233.38 301.67,233.22 301.26,233.34 300.86,233.48 300.45,233.67 300.04,233.83 299.63,233.92 299.22,233.57 298.82,233.02 298.41,233.02 298.00,233.52 297.59,234.03 297.18,234.04 296.78,234.16 296.37,234.11 295.96,233.81 295.55,233.53 295.14,233.54 294.74,233.79 294.33,233.56 293.92,233.48 293.51,233.76 293.10,234.20 292.70,234.54 292.29,234.62 291.88,234.30 291.47,233.45 291.06,232.62 290.66,232.54 290.25,232.93 289.84,233.49 289.43,233.88 289.02,233.64 288.62,232.96 288.21,232.60 287.80,233.14 287.39,234.01 286.98,234.30 286.58,234.00 286.17,233.72 285.76,233.39 285.35,233.56 284.94,233.65 284.54,233.44 284.13,233.31 283.72,233.42 283.31,233.80 282.90,233.86 282.50,233.37 282.09,232.84 281.68,232.66 281.27,232.53 280.86,232.71 280.46,233.04 280.05,233.46 279.64,233.23 279.23,232.18 278.82,231.52 278.42,231.61 278.01,232.13 277.60,232.42 277.19,232.14 276.78,231.66 276.38,231.30 275.97,231.24 275.56,231.26 275.15,230.95 274.74,230.54 274.34,230.40 273.93,230.82 273.52,230.95 273.11,230.65 272.70,230.30 272.30,230.15 271.89,230.07 271.48,229.69 271.07,229.50 270.66,229.10 270.26,228.56 269.85,228.37 269.44,228.47 269.03,228.55 268.62,227.91 268.22,227.23 267.81,226.91 267.40,226.88 266.99,226.84 266.58,226.82 266.18,227.32 265.77,228.22 265.36,229.00 264.95,229.43 264.54,229.49 264.14,229.52 263.73,229.60 263.32,229.69 262.91,230.02 262.50,229.93 262.10,229.65 261.69,229.22 261.28,229.00 260.87,229.04 260.46,228.81 260.06,228.67 259.65,228.32 259.24,227.86 258.83,227.69 258.42,227.77 258.02,228.00 257.61,227.69 257.20,227.05 256.79,226.66 256.38,226.71 255.98,227.15 255.57,227.42 255.16,227.53 254.75,227.50 254.34,227.53 253.94,227.61 253.53,227.70 253.12,227.78 252.71,227.50 252.30,227.07 251.90,226.78 251.49,226.67 251.08,226.92 250.67,227.44 250.26,227.97 249.86,227.93 249.45,227.77 249.04,228.00 248.63,228.12 248.22,227.77 247.82,227.23 247.41,227.16 247.00,227.57 246.59,228.08 246.18,228.12 245.78,227.77 245.37,227.56 244.96,227.78 244.55,228.16 244.14,228.11 243.74,227.89 243.33,228.06 242.92,228.55 242.51,229.23 242.10,229.29 241.70,228.51 241.29,227.79 240.88,227.52 240.47,227.84 240.06,228.07 239.66,227.97 239.25,227.61 238.84,227.23 238.43,227.03 238.02,226.94 237.62,226.85 237.21,226.66 236.80,226.86 236.39,227.16 235.98,227.32 235.58,227.06 235.17,226.39 234.76,225.84 234.35,225.46 233.94,225.22 233.54,224.86 233.13,224.45 232.72,223.99 232.31,223.73 231.90,223.63 231.50,223.10 231.09,222.43 230.68,221.96 230.27,222.23 229.86,222.35 229.46,221.77 229.05,220.90 228.64,219.70 228.23,218.59 227.82,217.79 227.42,217.37 227.01,216.82 226.60,215.98 226.19,214.98 225.78,214.20 225.38,213.43 224.97,212.45 224.56,211.66 224.15,211.24 223.74,210.91 223.34,210.48 222.93,209.79 222.52,209.23 222.11,208.87 221.70,208.78 221.30,209.16 220.89,210.12 220.48,211.76 220.07,213.74 219.66,216.03 219.26,218.16 218.85,220.50 218.44,222.92 218.03,225.44 217.62,228.37 217.22,230.69 216.81,231.99 216.40,232.44 215.99,232.48 215.58,232.75 215.18,232.80 214.77,232.85 214.36,233.02 213.95,233.31 213.54,233.55 213.14,233.63 212.73,233.47 212.32,233.25 211.91,233.05 211.50,232.52 211.10,232.14 210.69,232.29 210.28,233.31 209.87,234.13 209.46,234.00 209.06,233.47 208.65,233.42 208.24,233.47 207.83,233.37 207.42,232.96 207.02,232.68 206.61,232.35 206.20,232.28 205.79,232.77 205.38,233.15 204.98,233.46 204.57,233.44 204.16,233.35 203.75,232.85 203.34,232.55 202.94,232.71 202.53,233.20 202.12,233.48 201.71,233.32 201.30,233.14 200.90,232.92 200.49,233.13 200.08,233.31 199.67,233.25 199.26,233.17 198.86,233.39 198.45,233.86 198.04,233.81 197.63,233.50 197.22,233.26 196.82,233.22 196.41,233.16 196.00,233.06" fill="rgba(154,82,173,0.42)" stroke="none"/>
<polyline points="196.00,231.55 196.41,231.34 196.82,231.84 197.22,231.74 197.63,231.47 198.04,232.55 198.45,232.66 198.86,231.62 199.26,231.16 199.67,231.99 200.08,231.85 200.49,231.35 200.90,231.44 201.30,231.24 201.71,231.99 202.12,231.98 202.53,231.72 202.94,231.15 203.34,230.52 203.75,231.24 204.16,232.04 204.57,232.04 204.98,231.50 205.38,232.10 205.79,231.12 206.20,230.36 206.61,230.61 207.02,231.33 207.42,231.35 207.83,231.47 208.24,232.55 208.65,231.65 209.06,231.32 209.46,232.69 209.87,233.24 210.28,231.73 210.69,230.21 211.10,230.18 211.50,231.30 211.91,231.35 212.32,231.76 212.73,231.90 213.14,232.00 213.54,232.24 213.95,231.67 214.36,231.28 214.77,231.36 215.18,231.17 215.58,231.12 215.99,231.22 216.40,230.36 216.81,230.99 217.22,229.89 217.62,226.45 218.03,224.01 218.44,221.12 218.85,218.90 219.26,216.73 219.66,214.10 220.07,212.52 220.48,209.88 220.89,208.15 221.30,207.59 221.70,207.00 222.11,207.01 222.52,207.84 222.93,208.10 223.34,208.68 223.74,209.93 224.15,209.40 224.56,209.64 224.97,211.19 225.38,211.79 225.78,212.58 226.19,213.51 226.60,214.12 227.01,215.57 227.42,216.02 227.82,215.79 228.23,216.81 228.64,218.42 229.05,219.15 229.46,220.40 229.86,221.03 230.27,220.88 230.68,220.04 231.09,220.21 231.50,222.31 231.90,222.04 232.31,221.80 232.72,222.60 233.13,222.84 233.54,223.17 233.94,223.85 234.35,223.90 234.76,223.89 235.17,224.98 235.58,225.57 235.98,225.88 236.39,225.77 236.80,225.08 237.21,225.00 237.62,225.16 238.02,225.63 238.43,225.28 238.84,225.42 239.25,226.26 239.66,226.42 240.06,226.50 240.47,226.56 240.88,225.73 241.29,225.52 241.70,227.38 242.10,227.89 242.51,227.85 242.92,227.22 243.33,225.83 243.74,226.40 244.14,226.69 244.55,226.51 244.96,226.54 245.37,225.55 245.78,225.84 246.18,227.18 246.59,226.61 247.00,225.71 247.41,225.66 247.82,225.35 248.22,225.93 248.63,227.28 249.04,226.40 249.45,225.59 249.86,226.59 250.26,226.88 250.67,225.71 251.08,225.00 251.49,225.33 251.90,224.94 252.30,225.34 252.71,226.21 253.12,226.22 253.53,226.17 253.94,225.95 254.34,225.97 254.75,225.94 255.16,225.86 255.57,226.04 255.98,225.63 256.38,225.04 256.79,224.73 257.20,225.47 257.61,226.22 258.02,226.64 258.42,226.38 258.83,225.54 259.24,226.42 259.65,226.90 260.06,226.90 260.46,227.46 260.87,227.34 261.28,227.57 261.69,227.35 262.10,227.99 262.50,228.87 262.91,228.21 263.32,228.24 263.73,227.87 264.14,227.96 264.54,227.97 264.95,227.80 265.36,227.76 265.77,226.71 266.18,225.46 266.58,225.05 266.99,225.20 267.40,225.54 267.81,225.17 268.22,225.27 268.62,226.51 269.03,227.21 269.44,227.19 269.85,226.28 270.26,226.90 270.66,227.78 271.07,227.90 271.48,228.09 271.89,228.35 272.30,229.04 272.70,228.31 273.11,228.81 273.52,230.11 273.93,229.19 274.34,228.43 274.74,228.84 275.15,229.61 275.56,229.65 275.97,229.79 276.38,229.56 276.78,229.82 277.19,230.86 277.60,231.01 278.01,230.65 278.42,230.00 278.82,229.44 279.23,230.37 279.64,231.98 280.05,232.60 280.46,231.05 280.86,230.73 281.27,231.60 281.68,230.53 282.09,231.10 282.50,232.14 282.90,232.12 283.31,232.58 283.72,231.96 284.13,230.97 284.54,232.27 284.94,232.34 285.35,231.60 285.76,232.01 286.17,231.83 286.58,232.57 286.98,232.85 287.39,232.73 287.80,231.71 288.21,230.23 288.62,231.13 289.02,232.76 289.43,232.28 289.84,231.85 290.25,231.60 290.66,230.61 291.06,230.68 291.47,231.83 291.88,233.11 292.29,233.23 292.70,232.77 293.10,232.87 293.51,232.23 293.92,231.45 294.33,232.01 294.74,232.48 295.14,232.13 295.55,231.26 295.96,232.45 296.37,232.97 296.78,232.17 297.18,232.61 297.59,232.60 298.00,232.15 298.41,231.08 298.82,231.09 299.22,232.15 299.63,232.73 300.04,232.13 300.45,231.88 300.86,232.27 301.26,231.55 301.67,231.44 302.08,231.94 302.49,232.02 302.90,231.38 303.30,231.28 303.71,231.56 304.12,231.33 304.53,231.57 304.94,231.59 305.34,231.54 305.75,231.13 306.16,230.74 306.57,232.07 306.98,232.38 307.38,231.01 307.79,230.98 308.20,231.68 308.61,231.09 309.02,231.37 309.42,231.79 309.83,230.97 310.24,230.57 310.65,231.32 311.06,232.28 311.46,231.06 311.87,230.81 312.28,231.54 312.69,229.99 313.10,230.14 313.50,232.31 313.91,230.75 314.32,229.20 314.73,230.32 315.14,229.46 315.54,229.64 315.95,230.25 316.36,230.18 316.77,230.97 317.18,230.65 317.58,230.08 317.99,229.74 318.40,229.57" fill="none" stroke="#9a52ad" stroke-width="1.0" stroke-linejoin="round"/>
<line x1="216.40" y1="263.20" x2="216.40" y2="168.40" stroke="#1a1a1a" stroke-width="0.9"/>
<line x1="266.69" y1="263.20" x2="266.69" y2="168.40" stroke="#1a1a1a" stroke-width="0.8" stroke-dasharray="1,1"/>
<rect x="216.40" y="238.31" width="10.20" height="24.88" fill="none" stroke="#000" stroke-width="0.85" stroke-dasharray="0.9,1.3"/>
<rect x="257.20" y="238.31" width="10.20" height="24.88" fill="none" stroke="#000" stroke-width="0.85" stroke-dasharray="0.9,1.3"/>
<text x="225.30" y="260.60" font-size="9.4" fill="#1a1a1a" text-anchor="start" transform="translate(225.30 260.60) rotate(-90) scale(1 1.038) translate(-225.30 -260.60)">early</text>
<text x="265.00" y="258.80" font-size="9.4" fill="#1a1a1a" text-anchor="start" transform="translate(265.00 258.80) rotate(-90) scale(1 1.038) translate(-265.00 -258.80)">late</text>
<text x="232.00" y="260.40" font-size="9.4" fill="#1a1a1a" transform="translate(232.00 260.40) scale(1 1.038) translate(-232.00 -260.40)">stim</text>
<path d="M196.00,168.40 L196.00,263.20 L318.40,263.20" fill="none" stroke="#3a3a3a" stroke-width="0.9"/>
<line x1="196.00" y1="263.20" x2="196.00" y2="264.80" stroke="#3a3a3a" stroke-width="0.8"/>
<line x1="216.40" y1="263.20" x2="216.40" y2="264.80" stroke="#3a3a3a" stroke-width="0.8"/>
<line x1="236.80" y1="263.20" x2="236.80" y2="264.80" stroke="#3a3a3a" stroke-width="0.8"/>
<line x1="257.20" y1="263.20" x2="257.20" y2="264.80" stroke="#3a3a3a" stroke-width="0.8"/>
<line x1="277.60" y1="263.20" x2="277.60" y2="264.80" stroke="#3a3a3a" stroke-width="0.8"/>
<line x1="298.00" y1="263.20" x2="298.00" y2="264.80" stroke="#3a3a3a" stroke-width="0.8"/>
<line x1="194.40" y1="263.20" x2="196.00" y2="263.20" stroke="#3a3a3a" stroke-width="0.8"/>
<line x1="194.40" y1="247.40" x2="196.00" y2="247.40" stroke="#3a3a3a" stroke-width="0.8"/>
<line x1="194.40" y1="231.60" x2="196.00" y2="231.60" stroke="#3a3a3a" stroke-width="0.8"/>
<line x1="194.40" y1="215.80" x2="196.00" y2="215.80" stroke="#3a3a3a" stroke-width="0.8"/>
<line x1="194.40" y1="200.00" x2="196.00" y2="200.00" stroke="#3a3a3a" stroke-width="0.8"/>
<line x1="194.40" y1="184.20" x2="196.00" y2="184.20" stroke="#3a3a3a" stroke-width="0.8"/>
<line x1="194.40" y1="168.40" x2="196.00" y2="168.40" stroke="#3a3a3a" stroke-width="0.8"/>
<text x="197.80" y="274.50" font-size="9.5" text-anchor="middle" fill="#2a2a2a" transform="translate(197.80 274.50) scale(1 1.038) translate(-197.80 -274.50)">-2</text>
<text x="217.10" y="274.50" font-size="9.5" text-anchor="middle" fill="#2a2a2a" transform="translate(217.10 274.50) scale(1 1.038) translate(-217.10 -274.50)">0</text>
<text x="237.50" y="274.50" font-size="9.5" text-anchor="middle" fill="#2a2a2a" transform="translate(237.50 274.50) scale(1 1.038) translate(-237.50 -274.50)">2</text>
<text x="257.90" y="274.50" font-size="9.5" text-anchor="middle" fill="#2a2a2a" transform="translate(257.90 274.50) scale(1 1.038) translate(-257.90 -274.50)">4</text>
<text x="278.30" y="274.50" font-size="9.5" text-anchor="middle" fill="#2a2a2a" transform="translate(278.30 274.50) scale(1 1.038) translate(-278.30 -274.50)">6</text>
<text x="298.70" y="274.50" font-size="9.5" text-anchor="middle" fill="#2a2a2a" transform="translate(298.70 274.50) scale(1 1.038) translate(-298.70 -274.50)">8</text>
<text x="191.60" y="267.02" font-size="9.5" text-anchor="end" fill="#2a2a2a" transform="translate(191.60 267.02) scale(1 1.038) translate(-191.60 -267.02)">-4</text>
<text x="191.60" y="251.22" font-size="9.5" text-anchor="end" fill="#2a2a2a" transform="translate(191.60 251.22) scale(1 1.038) translate(-191.60 -251.22)">-2</text>
<text x="191.60" y="235.42" font-size="9.5" text-anchor="end" fill="#2a2a2a" transform="translate(191.60 235.42) scale(1 1.038) translate(-191.60 -235.42)">0</text>
<text x="191.60" y="219.62" font-size="9.5" text-anchor="end" fill="#2a2a2a" transform="translate(191.60 219.62) scale(1 1.038) translate(-191.60 -219.62)">2</text>
<text x="191.60" y="203.82" font-size="9.5" text-anchor="end" fill="#2a2a2a" transform="translate(191.60 203.82) scale(1 1.038) translate(-191.60 -203.82)">4</text>
<text x="191.60" y="188.02" font-size="9.5" text-anchor="end" fill="#2a2a2a" transform="translate(191.60 188.02) scale(1 1.038) translate(-191.60 -188.02)">6</text>
<text x="191.60" y="172.22" font-size="9.5" text-anchor="end" fill="#2a2a2a" transform="translate(191.60 172.22) scale(1 1.038) translate(-191.60 -172.22)">8</text>
<text x="196.50" y="165.30" font-size="9.5" fill="#8cc63e" textLength="66.1" lengthAdjust="spacingAndGlyphs" transform="translate(196.50 165.30) scale(1 1.038) translate(-196.50 -165.30)">Passive stim 5s</text>
<text x="270.70" y="165.30" font-size="9.5" fill="#9a52ad" textLength="53.8" lengthAdjust="spacingAndGlyphs" transform="translate(270.70 165.30) scale(1 1.038) translate(-270.70 -165.30)">RTPP 5 s on</text>
<text x="256.00" y="287.50" font-size="9.5" text-anchor="middle" fill="#1a1a1a" textLength="100.2" lengthAdjust="spacingAndGlyphs" transform="translate(256.00 287.50) scale(1 1.038) translate(-256.00 -287.50)">time from stim onset (s)</text>
<text x="379.00" y="145.00" font-size="28.9" transform="translate(379.00 145.00) scale(1 1.038) translate(-379.00 -145.00)">B</text>
<text x="397.48" y="145.00" font-size="14.8" stroke="#000" stroke-width="0.35" transform="translate(397.48 145.00) scale(1 1.038) translate(-397.48 -145.00)">1</text>
<rect x="437.60" y="168.40" width="8.95" height="94.40" fill="#b9e9ec"/>
<polyline points="392.85,238.54 393.21,238.31 393.57,238.41 393.92,238.36 394.28,238.47 394.64,238.56 395.00,238.65 395.36,238.83 395.71,238.77 396.07,238.85 396.43,238.90 396.79,238.92 397.15,238.71 397.50,238.90 397.86,238.95 398.22,238.89 398.58,238.48 398.94,238.59 399.29,238.66 399.65,239.00 400.01,238.93 400.37,239.12 400.73,239.07 401.08,238.86 401.44,238.68 401.80,238.63 402.16,238.80 402.52,238.90 402.87,238.92 403.23,238.80 403.59,238.88 403.95,238.88 404.31,238.99 404.66,238.94 405.02,238.91 405.38,238.89 405.74,238.73 406.10,238.78 406.45,238.63 406.81,238.84 407.17,238.89 407.53,239.07 407.89,239.00 408.24,238.93 408.60,238.79 408.96,238.71 409.32,238.69 409.68,238.90 410.03,239.05 410.39,238.95 410.75,238.90 411.11,239.05 411.47,239.31 411.82,239.41 412.18,239.13 412.54,239.07 412.90,238.74 413.26,238.81 413.61,238.79 413.97,239.12 414.33,239.09 414.69,239.15 415.05,239.20 415.40,239.26 415.76,239.24 416.12,239.01 416.48,239.10 416.84,239.44 417.19,239.50 417.55,239.72 417.91,239.21 418.27,239.10 418.63,238.94 418.98,239.27 419.34,239.66 419.70,239.51 420.06,239.41 420.42,239.32 420.77,239.46 421.13,239.20 421.49,239.10 421.85,238.99 422.21,239.16 422.56,239.09 422.92,239.06 423.28,239.25 423.64,239.40 424.00,239.63 424.35,239.64 424.71,239.48 425.07,239.46 425.43,239.40 425.79,239.62 426.14,239.64 426.50,239.55 426.86,239.53 427.22,239.53 427.58,239.57 427.93,239.47 428.29,239.33 428.65,239.38 429.01,239.65 429.37,239.68 429.72,239.65 430.08,239.33 430.44,239.52 430.80,239.29 431.16,239.56 431.51,239.38 431.87,239.67 432.23,239.58 432.59,239.57 432.95,239.61 433.30,239.83 433.66,240.06 434.02,239.97 434.38,239.43 434.74,239.47 435.09,239.53 435.45,239.62 435.81,239.37 436.17,239.41 436.53,239.75 436.88,240.04 437.24,240.08 437.60,239.95 437.96,235.53 438.32,226.69 438.67,217.66 439.03,208.49 439.39,202.05 439.75,198.42 440.11,194.76 440.46,190.85 440.82,186.90 441.18,182.86 441.54,179.17 441.90,177.93 442.25,179.03 442.61,179.93 442.97,180.87 443.33,181.92 443.69,183.22 444.04,184.61 444.40,185.81 444.76,187.21 445.12,188.63 445.48,190.44 445.83,192.18 446.19,193.61 446.55,195.05 446.91,196.63 447.27,198.30 447.62,199.67 447.98,200.68 448.34,201.66 448.70,202.90 449.06,204.32 449.41,205.84 449.77,207.44 450.13,208.96 450.49,210.67 450.85,212.28 451.20,214.15 451.56,215.85 451.92,217.68 452.28,219.29 452.64,220.77 452.99,221.90 453.35,222.97 453.71,224.08 454.07,224.84 454.43,225.90 454.78,226.83 455.14,228.05 455.50,229.17 455.86,230.57 456.22,231.50 456.57,232.49 456.93,232.69 457.29,233.34 457.65,233.70 458.01,234.27 458.36,234.75 458.72,235.19 459.08,235.54 459.44,235.91 459.80,236.47 460.15,237.03 460.51,237.38 460.87,237.53 461.23,237.80 461.59,238.19 461.94,238.64 462.30,238.68 462.66,238.77 463.02,238.74 463.38,238.79 463.73,238.78 464.09,238.75 464.45,239.05 464.81,239.25 465.17,239.56 465.52,239.46 465.88,239.44 466.24,239.19 466.60,239.24 466.96,239.34 467.31,239.26 467.67,239.46 468.03,239.63 468.39,240.01 468.75,239.88 469.10,239.82 469.46,239.86 469.82,240.11 470.18,239.95 470.54,240.03 470.89,240.08 471.25,240.32 471.61,240.40 471.97,240.33 472.33,240.16 472.68,240.12 473.04,240.09 473.40,240.29 473.76,240.25 474.12,240.15 474.47,240.04 474.83,240.05 475.19,240.26 475.55,240.33 475.91,240.19 476.26,240.08 476.62,240.07 476.98,240.38 477.34,240.26 477.70,240.41 478.05,240.35 478.41,240.50 478.77,240.32 479.13,240.16 479.49,240.20 479.84,240.24 480.20,240.31 480.56,240.43 480.92,240.42 481.28,240.43 481.63,240.16 481.99,240.14 482.35,239.95 482.71,239.91 483.07,239.78 483.42,239.75 483.78,239.75 484.14,239.87 484.50,239.85 484.86,240.03 485.21,240.02 485.57,240.07 485.93,239.99 486.29,239.90 486.65,240.09 487.00,240.12 487.36,240.13 487.72,239.95 488.08,239.74 488.44,239.81 488.79,239.85 489.15,239.92 489.51,239.85 489.87,240.04 490.23,240.17 490.58,240.05 490.94,240.04 491.30,239.90 491.66,240.12 492.02,239.85 492.37,240.01 492.73,239.95 493.09,240.30 493.45,240.21 493.81,240.09 494.16,240.02 494.52,239.87 494.88,240.08 495.24,239.90 495.60,240.37 495.95,240.15 496.31,240.25 496.67,239.98 497.03,240.25 497.39,240.26 497.74,240.06 498.10,239.97 498.46,239.74 498.82,239.89 499.18,239.79 499.53,239.95 499.89,239.87 500.25,239.60 500.61,239.46 500.97,239.45 501.32,239.81 501.68,239.76 502.04,239.66 502.40,239.80 502.76,240.08 503.11,239.99 503.47,239.73 503.83,239.55 504.19,239.73 504.55,239.64 504.90,239.56 505.26,239.65 505.62,239.53 505.98,239.62 506.34,239.69 506.69,240.00 507.05,240.01 507.41,239.95 507.77,239.90 508.13,239.85 508.48,240.19 508.84,240.25 509.20,240.17 509.56,239.72 509.92,239.70 510.27,239.88 510.63,239.81 510.99,239.75 511.35,239.74 511.71,239.65 512.06,239.66 512.42,239.52 512.78,239.74 513.14,239.68 513.50,239.87 513.85,239.96 514.21,239.81 514.57,239.83 514.93,239.70 515.29,239.98 515.64,239.87 516.00,239.91 516.36,239.95 516.72,239.79 517.08,239.80 517.43,239.46 517.79,239.70 518.15,239.57 518.51,239.43 518.87,239.29 519.22,239.47 519.58,239.69 519.94,239.69 520.30,239.64 520.66,239.71 521.01,239.79 521.37,239.71 521.73,239.74 522.09,239.77 522.45,239.72 522.80,239.69 523.16,239.27 523.52,239.39 523.88,239.45 524.24,239.82 524.59,239.75 524.95,239.74 525.31,239.82 525.67,239.67 526.03,239.73 526.38,239.40 526.74,239.57 527.10,239.40" fill="none" stroke="#737373" stroke-width="1.4" stroke-linejoin="round"/>
<polyline points="392.85,240.19 393.21,240.12 393.57,240.17 393.92,240.54 394.28,240.44 394.64,240.19 395.00,240.06 395.36,239.96 395.71,240.13 396.07,239.62 396.43,239.73 396.79,239.70 397.15,239.85 397.50,239.89 397.86,239.82 398.22,239.95 398.58,239.96 398.94,239.89 399.29,239.79 399.65,239.71 400.01,239.56 400.37,239.80 400.73,239.88 401.08,239.98 401.44,239.94 401.80,239.69 402.16,239.69 402.52,239.55 402.87,239.66 403.23,239.80 403.59,239.94 403.95,239.88 404.31,239.69 404.66,239.48 405.02,239.57 405.38,239.92 405.74,240.02 406.10,240.05 406.45,239.76 406.81,239.48 407.17,239.47 407.53,239.58 407.89,239.61 408.24,239.55 408.60,239.61 408.96,239.56 409.32,239.63 409.68,239.52 410.03,239.77 410.39,239.61 410.75,239.40 411.11,239.31 411.47,239.29 411.82,239.46 412.18,239.12 412.54,238.98 412.90,238.98 413.26,239.18 413.61,239.23 413.97,239.09 414.33,239.23 414.69,239.34 415.05,239.29 415.40,239.14 415.76,239.20 416.12,239.22 416.48,239.38 416.84,239.51 417.19,239.53 417.55,239.28 417.91,238.96 418.27,238.80 418.63,238.69 418.98,238.68 419.34,238.92 419.70,239.11 420.06,239.31 420.42,239.22 420.77,239.21 421.13,238.98 421.49,238.80 421.85,238.99 422.21,238.87 422.56,239.01 422.92,238.62 423.28,238.64 423.64,238.65 424.00,238.59 424.35,238.64 424.71,238.41 425.07,238.53 425.43,238.45 425.79,238.45 426.14,238.11 426.50,237.92 426.86,237.89 427.22,237.87 427.58,237.89 427.93,237.88 428.29,238.14 428.65,238.07 429.01,237.97 429.37,237.89 429.72,238.09 430.08,238.07 430.44,237.92 430.80,237.69 431.16,237.71 431.51,237.74 431.87,237.63 432.23,237.23 432.59,236.96 432.95,236.98 433.30,236.94 433.66,236.89 434.02,236.30 434.38,236.29 434.74,236.12 435.09,236.25 435.45,236.09 435.81,236.12 436.17,236.28 436.53,236.48 436.88,236.70 437.24,236.89 437.60,236.30 437.96,233.88 438.32,230.65 438.67,227.30 439.03,224.02 439.39,221.38 439.75,219.37 440.11,217.45 440.46,215.51 440.82,213.63 441.18,211.73 441.54,209.85 441.90,209.37 442.25,210.50 442.61,211.37 442.97,212.44 443.33,213.64 443.69,214.62 444.04,215.68 444.40,216.08 444.76,217.14 445.12,217.88 445.48,218.77 445.83,219.60 446.19,220.55 446.55,221.50 446.91,222.11 447.27,222.72 447.62,223.40 447.98,224.38 448.34,225.32 448.70,226.23 449.06,227.07 449.41,228.16 449.77,229.44 450.13,231.04 450.49,232.51 450.85,234.05 451.20,235.47 451.56,236.37 451.92,236.95 452.28,237.46 452.64,238.04 452.99,238.62 453.35,239.08 453.71,239.39 454.07,239.75 454.43,240.23 454.78,240.67 455.14,240.84 455.50,240.87 455.86,241.06 456.22,240.97 456.57,241.03 456.93,240.82 457.29,240.83 457.65,240.82 458.01,241.07 458.36,241.38 458.72,241.37 459.08,241.20 459.44,241.27 459.80,241.53 460.15,241.55 460.51,241.43 460.87,241.13 461.23,241.25 461.59,241.19 461.94,241.47 462.30,241.59 462.66,241.89 463.02,242.21 463.38,242.04 463.73,241.78 464.09,241.54 464.45,241.56 464.81,241.84 465.17,241.60 465.52,241.68 465.88,241.32 466.24,241.72 466.60,241.62 466.96,241.72 467.31,241.50 467.67,241.78 468.03,241.86 468.39,241.88 468.75,241.86 469.10,242.08 469.46,242.25 469.82,242.25 470.18,241.97 470.54,241.71 470.89,241.46 471.25,241.55 471.61,241.88 471.97,242.17 472.33,242.38 472.68,242.25 473.04,242.02 473.40,241.91 473.76,241.95 474.12,242.06 474.47,241.96 474.83,241.81 475.19,242.00 475.55,242.20 475.91,242.38 476.26,242.19 476.62,242.08 476.98,242.15 477.34,242.03 477.70,242.13 478.05,242.04 478.41,242.29 478.77,242.33 479.13,242.33 479.49,242.33 479.84,242.21 480.20,242.18 480.56,242.27 480.92,242.42 481.28,242.34 481.63,242.31 481.99,242.09 482.35,242.16 482.71,241.81 483.07,241.94 483.42,242.18 483.78,242.52 484.14,242.36 484.50,241.93 484.86,241.68 485.21,241.73 485.57,241.75 485.93,242.07 486.29,242.20 486.65,242.49 487.00,242.29 487.36,242.05 487.72,241.93 488.08,241.94 488.44,242.13 488.79,242.17 489.15,242.20 489.51,241.95 489.87,241.84 490.23,241.78 490.58,241.83 490.94,241.80 491.30,241.93 491.66,241.84 492.02,241.92 492.37,241.83 492.73,242.03 493.09,241.93 493.45,241.95 493.81,241.89 494.16,241.75 494.52,241.80 494.88,242.06 495.24,242.10 495.60,241.96 495.95,241.66 496.31,241.71 496.67,241.78 497.03,241.83 497.39,242.10 497.74,242.06 498.10,242.06 498.46,241.99 498.82,242.05 499.18,242.07 499.53,241.88 499.89,241.81 500.25,241.62 500.61,241.56 500.97,241.44 501.32,241.80 501.68,241.92 502.04,241.99 502.40,241.81 502.76,241.73 503.11,241.81 503.47,241.85 503.83,241.88 504.19,241.79 504.55,241.71 504.90,241.70 505.26,241.59 505.62,241.48 505.98,241.37 506.34,241.40 506.69,241.44 507.05,241.56 507.41,241.41 507.77,241.39 508.13,241.25 508.48,241.53 508.84,241.70 509.20,241.92 509.56,241.88 509.92,241.84 510.27,241.59 510.63,241.59 510.99,241.49 511.35,241.39 511.71,241.37 512.06,241.36 512.42,241.22 512.78,241.12 513.14,241.04 513.50,241.40 513.85,241.29 514.21,241.15 514.57,241.37 514.93,241.51 515.29,241.61 515.64,241.25 516.00,241.39 516.36,241.41 516.72,241.26 517.08,240.97 517.43,241.07 517.79,241.22 518.15,241.43 518.51,241.21 518.87,241.58 519.22,241.37 519.58,241.43 519.94,240.95 520.30,241.18 520.66,241.23 521.01,241.47 521.37,241.27 521.73,241.20 522.09,240.83 522.45,240.78 522.80,241.06 523.16,241.24 523.52,241.30 523.88,240.91 524.24,240.86 524.59,240.95 524.95,241.10 525.31,241.04 525.67,241.02 526.03,240.96 526.38,241.20 526.74,240.97 527.10,240.85" fill="none" stroke="#cc2222" stroke-width="1.4" stroke-linejoin="round"/>
<line x1="437.60" y1="262.80" x2="437.60" y2="168.40" stroke="#1a1a1a" stroke-width="0.9"/>
<line x1="446.55" y1="262.80" x2="446.55" y2="168.40" stroke="#1a1a1a" stroke-width="0.9"/>
<path d="M392.85,168.40 L392.85,262.80 L527.10,262.80" fill="none" stroke="#3a3a3a" stroke-width="0.9"/>
<line x1="401.80" y1="262.80" x2="401.80" y2="264.40" stroke="#3a3a3a" stroke-width="0.8"/>
<line x1="419.70" y1="262.80" x2="419.70" y2="264.40" stroke="#3a3a3a" stroke-width="0.8"/>
<line x1="437.60" y1="262.80" x2="437.60" y2="264.40" stroke="#3a3a3a" stroke-width="0.8"/>
<line x1="455.50" y1="262.80" x2="455.50" y2="264.40" stroke="#3a3a3a" stroke-width="0.8"/>
<line x1="473.40" y1="262.80" x2="473.40" y2="264.40" stroke="#3a3a3a" stroke-width="0.8"/>
<line x1="491.30" y1="262.80" x2="491.30" y2="264.40" stroke="#3a3a3a" stroke-width="0.8"/>
<line x1="509.20" y1="262.80" x2="509.20" y2="264.40" stroke="#3a3a3a" stroke-width="0.8"/>
<line x1="391.25" y1="262.80" x2="392.85" y2="262.80" stroke="#3a3a3a" stroke-width="0.8"/>
<line x1="391.25" y1="239.20" x2="392.85" y2="239.20" stroke="#3a3a3a" stroke-width="0.8"/>
<line x1="391.25" y1="215.60" x2="392.85" y2="215.60" stroke="#3a3a3a" stroke-width="0.8"/>
<line x1="391.25" y1="192.00" x2="392.85" y2="192.00" stroke="#3a3a3a" stroke-width="0.8"/>
<line x1="391.25" y1="168.40" x2="392.85" y2="168.40" stroke="#3a3a3a" stroke-width="0.8"/>
<text x="400.40" y="274.10" font-size="9.5" text-anchor="middle" fill="#2a2a2a" transform="translate(400.40 274.10) scale(1 1.038) translate(-400.40 -274.10)">-4</text>
<text x="418.30" y="274.10" font-size="9.5" text-anchor="middle" fill="#2a2a2a" transform="translate(418.30 274.10) scale(1 1.038) translate(-418.30 -274.10)">-2</text>
<text x="438.30" y="274.10" font-size="9.5" text-anchor="middle" fill="#2a2a2a" transform="translate(438.30 274.10) scale(1 1.038) translate(-438.30 -274.10)">0</text>
<text x="456.20" y="274.10" font-size="9.5" text-anchor="middle" fill="#2a2a2a" transform="translate(456.20 274.10) scale(1 1.038) translate(-456.20 -274.10)">2</text>
<text x="474.10" y="274.10" font-size="9.5" text-anchor="middle" fill="#2a2a2a" transform="translate(474.10 274.10) scale(1 1.038) translate(-474.10 -274.10)">4</text>
<text x="492.00" y="274.10" font-size="9.5" text-anchor="middle" fill="#2a2a2a" transform="translate(492.00 274.10) scale(1 1.038) translate(-492.00 -274.10)">6</text>
<text x="509.90" y="274.10" font-size="9.5" text-anchor="middle" fill="#2a2a2a" transform="translate(509.90 274.10) scale(1 1.038) translate(-509.90 -274.10)">8</text>
<text x="388.45" y="266.62" font-size="9.5" text-anchor="end" fill="#2a2a2a" transform="translate(388.45 266.62) scale(1 1.038) translate(-388.45 -266.62)">-4</text>
<text x="388.45" y="243.02" font-size="9.5" text-anchor="end" fill="#2a2a2a" transform="translate(388.45 243.02) scale(1 1.038) translate(-388.45 -243.02)">0</text>
<text x="388.45" y="219.42" font-size="9.5" text-anchor="end" fill="#2a2a2a" transform="translate(388.45 219.42) scale(1 1.038) translate(-388.45 -219.42)">4</text>
<text x="388.45" y="195.82" font-size="9.5" text-anchor="end" fill="#2a2a2a" transform="translate(388.45 195.82) scale(1 1.038) translate(-388.45 -195.82)">8</text>
<text x="388.45" y="172.22" font-size="9.5" text-anchor="end" fill="#2a2a2a" transform="translate(388.45 172.22) scale(1 1.038) translate(-388.45 -172.22)">12</text>
<text x="396.60" y="164.70" font-size="9.5" fill="#cc2222" textLength="54.4" lengthAdjust="spacingAndGlyphs" transform="translate(396.60 164.70) scale(1 1.038) translate(-396.60 -164.70)">ICSS 1s stim</text>
<text x="461.10" y="164.70" font-size="9.5" fill="#737373" textLength="43.2" lengthAdjust="spacingAndGlyphs" transform="translate(461.10 164.70) scale(1 1.038) translate(-461.10 -164.70)">ICSS PPB</text>
<text x="377.10" y="216.70" font-size="9.5" text-anchor="middle" fill="#1a1a1a" textLength="30.6" lengthAdjust="spacingAndGlyphs" transform="translate(377.10 216.70) rotate(-90) scale(1 1.038) translate(-377.10 -216.70)">z-score</text>
<text x="460.10" y="286.80" font-size="9.5" text-anchor="middle" fill="#1a1a1a" textLength="99.8" lengthAdjust="spacingAndGlyphs" transform="translate(460.10 286.80) scale(1 1.038) translate(-460.10 -286.80)">time from stim onset (s)</text>
<text x="536.80" y="144.70" font-size="28.9" transform="translate(536.80 144.70) scale(1 1.038) translate(-536.80 -144.70)">B</text>
<text x="555.28" y="144.70" font-size="14.8" stroke="#000" stroke-width="0.35" transform="translate(555.28 144.70) scale(1 1.038) translate(-555.28 -144.70)">2</text>
<rect x="550.72" y="168.40" width="22.48" height="94.40" fill="#e2e2e2"/>
<rect x="573.20" y="168.40" width="55.08" height="94.40" fill="#b9e9ec"/>
<rect x="628.28" y="168.40" width="57.32" height="94.40" fill="url(#gB2)"/>
<polygon points="550.72,235.43 551.17,235.88 551.62,236.22 552.07,236.41 552.52,236.45 552.97,236.51 553.42,236.67 553.87,236.66 554.32,236.47 554.77,236.27 555.22,236.27 555.67,236.43 556.12,236.39 556.56,236.36 557.01,236.60 557.46,236.73 557.91,236.59 558.36,236.35 558.81,236.39 559.26,236.45 559.71,236.29 560.16,236.17 560.61,235.99 561.06,235.97 561.51,236.12 561.96,236.53 562.41,237.08 562.86,237.05 563.31,236.76 563.76,236.58 564.21,236.39 564.66,236.53 565.11,236.53 565.56,236.75 566.01,237.00 566.46,237.09 566.91,236.88 567.36,236.18 567.80,235.79 568.25,235.76 568.70,236.06 569.15,236.18 569.60,236.27 570.05,236.63 570.50,237.09 570.95,237.24 571.40,236.64 571.85,235.93 572.30,235.79 572.75,235.60 573.20,234.31 573.65,231.57 574.10,228.03 574.55,224.26 575.00,220.35 575.45,216.60 575.90,212.88 576.35,209.34 576.80,206.00 577.25,203.07 577.70,200.72 578.15,198.42 578.60,195.67 579.04,193.14 579.49,192.06 579.94,192.62 580.39,193.73 580.84,194.43 581.29,195.04 581.74,195.43 582.19,195.82 582.64,196.34 583.09,196.85 583.54,197.24 583.99,197.61 584.44,198.31 584.89,199.06 585.34,199.68 585.79,200.46 586.24,201.25 586.69,201.66 587.14,201.80 587.59,202.26 588.04,203.01 588.49,203.52 588.94,203.66 589.39,203.41 589.84,202.98 590.28,202.62 590.73,202.59 591.18,202.78 591.63,202.96 592.08,203.12 592.53,203.35 592.98,203.51 593.43,203.24 593.88,202.78 594.33,202.64 594.78,202.99 595.23,203.52 595.68,203.64 596.13,203.45 596.58,203.42 597.03,203.47 597.48,203.57 597.93,203.33 598.38,202.98 598.83,202.64 599.28,202.47 599.73,202.61 600.18,202.69 600.63,202.54 601.08,202.13 601.52,202.07 601.97,202.22 602.42,202.26 602.87,202.09 603.32,201.96 603.77,201.72 604.22,201.37 604.67,201.26 605.12,201.28 605.57,201.21 606.02,200.92 606.47,200.68 606.92,200.49 607.37,200.26 607.82,200.05 608.27,199.91 608.72,199.90 609.17,200.03 609.62,200.13 610.07,199.98 610.52,199.82 610.97,199.91 611.42,199.93 611.87,199.82 612.32,199.72 612.76,199.55 613.21,199.29 613.66,198.78 614.11,198.45 614.56,198.46 615.01,198.56 615.46,198.61 615.91,198.36 616.36,198.06 616.81,197.84 617.26,197.81 617.71,197.71 618.16,197.64 618.61,197.51 619.06,197.12 619.51,196.55 619.96,195.90 620.41,195.97 620.86,196.43 621.31,196.75 621.76,196.73 622.21,196.84 622.66,197.35 623.11,197.56 623.56,197.74 624.00,197.98 624.45,198.17 624.90,198.20 625.35,198.09 625.80,198.33 626.25,198.61 626.70,198.79 627.15,198.80 627.60,198.57 628.05,198.27 628.50,198.20 628.95,198.34 629.40,198.34 629.85,198.33 630.30,198.85 630.75,200.03 631.20,201.47 631.65,202.73 632.10,203.90 632.55,205.08 633.00,206.38 633.45,208.37 633.90,210.88 634.35,213.18 634.80,214.99 635.24,216.58 635.69,218.37 636.14,220.32 636.59,221.92 637.04,223.31 637.49,224.74 637.94,225.93 638.39,227.09 638.84,228.05 639.29,229.01 639.74,229.98 640.19,230.92 640.64,231.84 641.09,232.49 641.54,233.06 641.99,233.59 642.44,233.91 642.89,233.87 643.34,233.95 643.79,234.37 644.24,234.99 644.69,235.69 645.14,236.32 645.59,236.63 646.04,236.80 646.48,236.87 646.93,237.07 647.38,237.34 647.83,237.53 648.28,237.64 648.73,237.56 649.18,237.50 649.63,237.36 650.08,237.33 650.53,237.58 650.98,238.06 651.43,238.46 651.88,238.40 652.33,238.29 652.78,238.23 653.23,238.17 653.68,238.02 654.13,237.93 654.58,237.89 655.03,237.76 655.48,237.55 655.93,237.34 656.38,237.13 656.83,237.02 657.28,237.23 657.72,237.46 658.17,237.46 658.62,237.53 659.07,237.50 659.52,237.29 659.97,236.89 660.42,236.80 660.87,236.86 661.32,236.80 661.77,236.75 662.22,236.87 662.67,237.07 663.12,236.96 663.57,236.76 664.02,236.48 664.47,236.34 664.92,236.16 665.37,236.13 665.82,236.36 666.27,236.60 666.72,236.59 667.17,236.19 667.62,235.83 668.07,236.02 668.52,236.40 668.96,236.43 669.41,236.14 669.86,236.02 670.31,236.27 670.76,236.47 671.21,236.40 671.66,236.30 672.11,236.12 672.56,235.91 673.01,236.01 673.46,236.19 673.91,236.23 674.36,236.16 674.81,236.26 675.26,236.76 675.71,236.97 676.16,236.82 676.61,236.82 677.06,237.11 677.51,237.38 677.96,237.00 678.41,236.46 678.86,236.18 679.31,236.32 679.76,236.69 680.20,236.78 680.65,236.55 681.10,236.20 681.55,236.00 682.00,236.13 682.45,236.34 682.90,236.42 683.35,236.12 683.80,235.74 684.25,235.61 684.70,235.82 685.15,236.07 685.60,236.31 685.60,243.62 685.15,243.39 684.70,243.14 684.25,242.93 683.80,243.06 683.35,243.44 682.90,243.74 682.45,243.66 682.00,243.44 681.55,243.32 681.10,243.52 680.65,243.86 680.20,244.10 679.76,244.00 679.31,243.63 678.86,243.50 678.41,243.78 677.96,244.31 677.51,244.70 677.06,244.43 676.61,244.13 676.16,244.13 675.71,244.29 675.26,244.08 674.81,243.58 674.36,243.47 673.91,243.54 673.46,243.50 673.01,243.32 672.56,243.22 672.11,243.43 671.66,243.62 671.21,243.72 670.76,243.78 670.31,243.58 669.86,243.34 669.41,243.45 668.96,243.74 668.52,243.72 668.07,243.33 667.62,243.15 667.17,243.51 666.72,243.90 666.27,243.92 665.82,243.67 665.37,243.44 664.92,243.47 664.47,243.66 664.02,243.80 663.57,244.07 663.12,244.28 662.67,244.38 662.22,244.19 661.77,244.07 661.32,244.11 660.87,244.18 660.42,244.11 659.97,244.21 659.52,244.61 659.07,244.82 658.62,244.84 658.17,244.78 657.72,244.78 657.28,244.55 656.83,244.33 656.38,244.44 655.93,244.66 655.48,244.87 655.03,245.07 654.58,245.20 654.13,245.25 653.68,245.34 653.23,245.49 652.78,245.55 652.33,245.61 651.88,245.72 651.43,245.77 650.98,245.37 650.53,244.89 650.08,244.65 649.63,244.68 649.18,244.82 648.73,244.87 648.28,244.96 647.83,244.85 647.38,244.66 646.93,244.38 646.48,244.19 646.04,244.12 645.59,243.94 645.14,243.63 644.69,243.00 644.24,242.30 643.79,241.69 643.34,241.27 642.89,241.18 642.44,241.22 641.99,240.91 641.54,240.37 641.09,239.81 640.64,239.16 640.19,238.23 639.74,237.30 639.29,236.32 638.84,235.36 638.39,234.40 637.94,233.24 637.49,232.06 637.04,230.63 636.59,229.23 636.14,227.64 635.69,225.68 635.24,223.89 634.80,222.31 634.35,220.50 633.90,218.19 633.45,215.68 633.00,213.69 632.55,212.40 632.10,211.22 631.65,210.04 631.20,208.78 630.75,207.34 630.30,206.17 629.85,205.65 629.40,205.66 628.95,205.65 628.50,205.51 628.05,205.59 627.60,205.88 627.15,206.12 626.70,206.10 626.25,205.92 625.80,205.65 625.35,205.41 624.90,205.51 624.45,205.48 624.00,205.29 623.56,205.05 623.11,204.88 622.66,204.67 622.21,204.16 621.76,204.04 621.31,204.07 620.86,203.75 620.41,203.29 619.96,203.22 619.51,203.87 619.06,204.44 618.61,204.83 618.16,204.96 617.71,205.03 617.26,205.13 616.81,205.15 616.36,205.38 615.91,205.68 615.46,205.93 615.01,205.88 614.56,205.77 614.11,205.77 613.66,206.10 613.21,206.61 612.76,206.86 612.32,207.03 611.87,207.14 611.42,207.24 610.97,207.22 610.52,207.13 610.07,207.29 609.62,207.45 609.17,207.34 608.72,207.22 608.27,207.23 607.82,207.36 607.37,207.57 606.92,207.80 606.47,208.00 606.02,208.24 605.57,208.53 605.12,208.59 604.67,208.57 604.22,208.69 603.77,209.03 603.32,209.27 602.87,209.41 602.42,209.57 601.97,209.54 601.52,209.39 601.08,209.45 600.63,209.86 600.18,210.01 599.73,209.92 599.28,209.78 598.83,209.96 598.38,210.29 597.93,210.65 597.48,210.89 597.03,210.79 596.58,210.74 596.13,210.77 595.68,210.96 595.23,210.84 594.78,210.31 594.33,209.95 593.88,210.10 593.43,210.56 592.98,210.83 592.53,210.66 592.08,210.43 591.63,210.28 591.18,210.10 590.73,209.91 590.28,209.93 589.84,210.30 589.39,210.72 588.94,210.97 588.49,210.84 588.04,210.33 587.59,209.57 587.14,209.11 586.69,208.97 586.24,208.56 585.79,207.77 585.34,207.00 584.89,206.38 584.44,205.63 583.99,204.93 583.54,204.55 583.09,204.16 582.64,203.66 582.19,203.13 581.74,202.75 581.29,202.36 580.84,201.74 580.39,201.05 579.94,199.94 579.49,199.38 579.04,200.45 578.60,202.98 578.15,205.74 577.70,208.04 577.25,210.39 576.80,213.32 576.35,216.65 575.90,220.20 575.45,223.91 575.00,227.67 574.55,231.58 574.10,235.34 573.65,238.89 573.20,241.63 572.75,242.92 572.30,243.11 571.85,243.24 571.40,243.96 570.95,244.56 570.50,244.41 570.05,243.95 569.60,243.58 569.15,243.50 568.70,243.38 568.25,243.07 567.80,243.10 567.36,243.49 566.91,244.20 566.46,244.41 566.01,244.32 565.56,244.06 565.11,243.84 564.66,243.85 564.21,243.71 563.76,243.89 563.31,244.07 562.86,244.37 562.41,244.40 561.96,243.85 561.51,243.43 561.06,243.28 560.61,243.30 560.16,243.48 559.71,243.60 559.26,243.77 558.81,243.70 558.36,243.66 557.91,243.91 557.46,244.05 557.01,243.91 556.56,243.68 556.12,243.71 555.67,243.74 555.22,243.59 554.77,243.58 554.32,243.79 553.87,243.98 553.42,243.98 552.97,243.82 552.52,243.77 552.07,243.73 551.62,243.54 551.17,243.19 550.72,242.74" fill="rgba(140,198,62,0.5)" stroke="none"/>
<polyline points="550.72,238.83 551.17,239.59 551.62,240.18 552.07,239.87 552.52,240.16 552.97,240.30 553.42,240.03 553.87,240.65 554.32,240.29 554.77,239.45 555.22,240.03 555.67,240.31 556.12,239.91 556.56,239.94 557.01,240.20 557.46,240.63 557.91,240.34 558.36,239.79 558.81,239.88 559.26,240.47 559.71,239.98 560.16,239.39 560.61,240.11 561.06,239.44 561.51,239.32 561.96,240.56 562.41,240.68 562.86,240.98 563.31,240.46 563.76,239.80 564.21,240.44 564.66,239.91 565.11,240.23 565.56,240.42 566.01,240.57 566.46,240.99 566.91,240.69 567.36,239.93 567.80,238.88 568.25,239.52 568.70,239.84 569.15,239.79 569.60,239.89 570.05,240.09 570.50,240.90 570.95,241.27 571.40,240.53 571.85,239.09 572.30,239.13 572.75,240.12 573.20,238.53 573.65,235.26 574.10,231.90 574.55,227.89 575.00,223.97 575.45,220.17 575.90,216.62 576.35,212.84 576.80,209.53 577.25,206.62 577.70,204.05 578.15,202.48 578.60,199.72 579.04,195.78 579.49,194.89 579.94,196.49 580.39,197.47 580.84,198.21 581.29,198.58 581.74,199.32 582.19,199.37 582.64,199.74 583.09,200.90 583.54,200.88 583.99,200.91 584.44,202.03 584.89,202.97 585.34,203.17 585.79,203.88 586.24,205.30 586.69,205.53 587.14,205.11 587.59,205.73 588.04,206.90 588.49,207.38 588.94,207.26 589.39,207.30 589.84,206.63 590.28,205.99 590.73,206.21 591.18,206.55 591.63,206.55 592.08,206.75 592.53,207.02 592.98,207.25 593.43,207.24 593.88,206.21 594.33,205.88 594.78,206.80 595.23,207.27 595.68,207.46 596.13,207.16 596.58,206.71 597.03,207.36 597.48,207.32 597.93,207.02 598.38,206.63 598.83,206.26 599.28,206.02 599.73,206.10 600.18,206.68 600.63,206.27 601.08,205.66 601.52,205.43 601.97,206.11 602.42,206.11 602.87,205.53 603.32,205.61 603.77,205.71 604.22,204.80 604.67,204.58 605.12,205.36 605.57,204.86 606.02,204.38 606.47,204.50 606.92,204.13 607.37,203.80 607.82,203.81 608.27,203.50 608.72,203.39 609.17,203.80 609.62,203.88 610.07,203.69 610.52,203.34 610.97,203.39 611.42,203.96 611.87,203.40 612.32,203.08 612.76,203.65 613.21,202.89 613.66,202.31 614.11,202.11 614.56,201.90 615.01,202.32 615.46,202.43 615.91,202.06 616.36,201.57 616.81,201.53 617.26,201.38 617.71,201.49 618.16,201.23 618.61,201.18 619.06,201.10 619.51,200.07 619.96,199.47 620.41,199.14 620.86,200.29 621.31,200.85 621.76,200.09 622.21,200.22 622.66,201.20 623.11,201.61 623.56,200.84 624.00,201.73 624.45,202.33 624.90,201.41 625.35,201.82 625.80,202.01 626.25,202.14 626.70,202.64 627.15,202.55 627.60,202.19 628.05,201.94 628.50,201.67 628.95,201.97 629.40,202.35 629.85,201.68 630.30,201.93 630.75,203.91 631.20,205.21 631.65,206.25 632.10,207.69 632.55,208.75 633.00,209.79 633.45,211.56 633.90,214.72 634.35,217.32 634.80,218.47 635.24,220.15 635.69,222.08 636.14,223.85 636.59,226.01 637.04,226.87 637.49,228.04 637.94,230.29 638.39,230.42 638.84,231.52 639.29,233.17 639.74,233.31 640.19,234.44 640.64,235.97 641.09,236.08 641.54,236.41 641.99,237.66 642.44,237.69 642.89,237.35 643.34,237.53 643.79,237.94 644.24,238.62 644.69,239.38 645.14,240.04 645.59,240.51 646.04,240.31 646.48,240.56 646.93,240.71 647.38,240.91 647.83,241.39 648.28,241.27 648.73,241.23 649.18,241.14 649.63,241.11 650.08,240.81 650.53,241.05 650.98,241.85 651.43,242.24 651.88,242.26 652.33,241.68 652.78,241.90 653.23,242.09 653.68,241.50 654.13,241.45 654.58,241.82 655.03,241.36 655.48,241.07 655.93,241.20 656.38,240.74 656.83,240.41 657.28,240.87 657.72,241.39 658.17,241.09 658.62,240.88 659.07,241.58 659.52,241.01 659.97,240.26 660.42,240.38 660.87,240.73 661.32,240.46 661.77,240.18 662.22,240.60 662.67,240.81 663.12,240.76 663.57,240.28 664.02,240.21 664.47,239.94 664.92,239.85 665.37,239.66 665.82,239.85 666.27,240.54 666.72,240.39 667.17,239.81 667.62,239.36 668.07,239.30 668.52,240.36 668.96,240.52 669.41,239.38 669.86,239.49 670.31,240.19 670.76,240.10 671.21,240.09 671.66,239.98 672.11,239.80 672.56,239.54 673.01,239.36 673.46,240.11 673.91,240.07 674.36,239.48 674.81,239.90 675.26,240.38 675.71,240.99 676.16,240.52 676.61,239.91 677.06,240.99 677.51,241.40 677.96,240.73 678.41,239.84 678.86,239.79 679.31,239.89 679.76,240.25 680.20,240.89 680.65,240.19 681.10,239.54 681.55,239.86 682.00,239.58 682.45,239.91 682.90,240.51 683.35,239.81 683.80,239.01 684.25,239.37 684.70,239.43 685.15,239.64 685.60,240.12" fill="none" stroke="#8cc63e" stroke-width="1.0" stroke-linejoin="round"/>
<polygon points="550.72,237.63 551.17,237.78 551.62,238.27 552.07,238.95 552.52,238.82 552.97,237.80 553.42,236.76 553.87,236.37 554.32,236.71 554.77,237.29 555.22,237.61 555.67,237.75 556.12,237.97 556.56,238.23 557.01,238.51 557.46,238.26 557.91,238.04 558.36,237.93 558.81,237.98 559.26,237.92 559.71,237.78 560.16,237.86 560.61,237.99 561.06,238.27 561.51,238.47 561.96,238.50 562.41,238.11 562.86,237.64 563.31,237.73 563.76,237.86 564.21,237.89 564.66,237.85 565.11,237.93 565.56,238.09 566.01,238.16 566.46,238.21 566.91,238.33 567.36,238.48 567.80,238.61 568.25,238.70 568.70,238.60 569.15,238.45 569.60,238.24 570.05,238.15 570.50,238.13 570.95,237.86 571.40,237.49 571.85,237.84 572.30,238.43 572.75,238.73 573.20,238.20 573.65,236.67 574.10,234.70 574.55,231.94 575.00,229.17 575.45,226.79 575.90,224.93 576.35,223.19 576.80,220.74 577.25,218.00 577.70,215.33 578.15,212.99 578.60,210.77 579.04,209.24 579.49,208.79 579.94,209.16 580.39,210.20 580.84,210.82 581.29,211.21 581.74,211.61 582.19,212.18 582.64,212.99 583.09,213.61 583.54,214.37 583.99,215.29 584.44,215.90 584.89,216.35 585.34,216.91 585.79,217.53 586.24,218.23 586.69,218.90 587.14,219.67 587.59,220.45 588.04,220.91 588.49,221.24 588.94,221.59 589.39,222.16 589.84,222.88 590.28,223.61 590.73,224.05 591.18,224.46 591.63,225.27 592.08,226.03 592.53,226.08 592.98,225.54 593.43,225.46 593.88,225.81 594.33,226.34 594.78,226.81 595.23,227.25 595.68,227.57 596.13,227.66 596.58,228.00 597.03,228.40 597.48,228.46 597.93,228.59 598.38,228.96 598.83,229.18 599.28,228.78 599.73,228.58 600.18,229.04 600.63,229.46 601.08,229.53 601.52,229.61 601.97,229.95 602.42,230.17 602.87,230.31 603.32,230.63 603.77,231.05 604.22,231.45 604.67,231.50 605.12,230.90 605.57,230.17 606.02,230.05 606.47,230.46 606.92,230.73 607.37,231.06 607.82,231.56 608.27,231.77 608.72,231.56 609.17,231.47 609.62,231.83 610.07,231.96 610.52,231.83 610.97,231.53 611.42,231.29 611.87,231.34 612.32,231.52 612.76,231.83 613.21,231.74 613.66,231.53 614.11,231.33 614.56,231.13 615.01,231.22 615.46,231.60 615.91,232.13 616.36,232.44 616.81,232.46 617.26,232.68 617.71,232.85 618.16,232.82 618.61,232.57 619.06,232.48 619.51,232.75 619.96,232.90 620.41,232.80 620.86,232.88 621.31,233.08 621.76,232.94 622.21,232.66 622.66,232.53 623.11,232.58 623.56,232.05 624.00,231.35 624.45,231.15 624.90,231.52 625.35,231.85 625.80,231.84 626.25,231.98 626.70,232.17 627.15,232.18 627.60,232.11 628.05,232.09 628.50,232.09 628.95,231.89 629.40,231.80 629.85,231.83 630.30,231.80 630.75,231.92 631.20,232.60 631.65,233.43 632.10,233.65 632.55,233.47 633.00,233.29 633.45,233.13 633.90,232.85 634.35,232.59 634.80,232.91 635.24,233.53 635.69,233.73 636.14,233.75 636.59,233.50 637.04,233.68 637.49,234.11 637.94,234.23 638.39,234.48 638.84,234.46 639.29,234.70 639.74,234.99 640.19,235.00 640.64,234.98 641.09,234.63 641.54,234.47 641.99,234.57 642.44,234.89 642.89,235.12 643.34,235.40 643.79,235.50 644.24,235.31 644.69,234.83 645.14,234.24 645.59,234.40 646.04,234.78 646.48,235.24 646.93,235.46 647.38,235.35 647.83,235.20 648.28,234.94 648.73,234.97 649.18,235.17 649.63,235.47 650.08,235.81 650.53,235.87 650.98,235.87 651.43,235.92 651.88,235.95 652.33,235.82 652.78,235.75 653.23,235.89 653.68,235.82 654.13,235.71 654.58,236.04 655.03,236.51 655.48,236.71 655.93,236.59 656.38,236.58 656.83,236.73 657.28,236.75 657.72,236.66 658.17,236.64 658.62,236.58 659.07,236.34 659.52,236.12 659.97,236.17 660.42,236.31 660.87,236.50 661.32,236.89 661.77,237.38 662.22,237.52 662.67,237.17 663.12,236.91 663.57,237.14 664.02,237.38 664.47,237.24 664.92,237.04 665.37,237.04 665.82,237.43 666.27,237.66 666.72,237.81 667.17,237.73 667.62,237.55 668.07,237.56 668.52,237.62 668.96,237.75 669.41,237.76 669.86,237.86 670.31,237.58 670.76,237.34 671.21,237.45 671.66,237.61 672.11,237.65 672.56,237.30 673.01,237.12 673.46,237.15 673.91,237.23 674.36,237.11 674.81,236.97 675.26,237.00 675.71,237.05 676.16,236.99 676.61,237.09 677.06,237.27 677.51,237.13 677.96,237.03 678.41,237.22 678.86,237.24 679.31,237.02 679.76,237.18 680.20,237.65 680.65,237.80 681.10,237.29 681.55,236.90 682.00,236.64 682.45,236.53 682.90,236.59 683.35,236.61 683.80,236.63 684.25,236.89 684.70,237.28 685.15,237.29 685.60,236.83 685.60,240.37 685.15,240.83 684.70,240.82 684.25,240.43 683.80,240.17 683.35,240.15 682.90,240.13 682.45,240.07 682.00,240.18 681.55,240.44 681.10,240.83 680.65,241.34 680.20,241.19 679.76,240.72 679.31,240.56 678.86,240.78 678.41,240.76 677.96,240.57 677.51,240.67 677.06,240.81 676.61,240.63 676.16,240.53 675.71,240.59 675.26,240.54 674.81,240.51 674.36,240.65 673.91,240.77 673.46,240.69 673.01,240.66 672.56,240.84 672.11,241.19 671.66,241.15 671.21,240.99 670.76,240.88 670.31,241.12 669.86,241.40 669.41,241.30 668.96,241.29 668.52,241.16 668.07,241.10 667.62,241.09 667.17,241.27 666.72,241.35 666.27,241.20 665.82,240.97 665.37,240.58 664.92,240.58 664.47,240.78 664.02,240.92 663.57,240.68 663.12,240.45 662.67,240.71 662.22,241.06 661.77,240.92 661.32,240.43 660.87,240.04 660.42,239.85 659.97,239.71 659.52,239.66 659.07,239.88 658.62,240.12 658.17,240.18 657.72,240.20 657.28,240.29 656.83,240.27 656.38,240.12 655.93,240.13 655.48,240.25 655.03,240.05 654.58,239.58 654.13,239.25 653.68,239.36 653.23,239.43 652.78,239.29 652.33,239.36 651.88,239.49 651.43,239.46 650.98,239.41 650.53,239.41 650.08,239.35 649.63,239.01 649.18,238.71 648.73,238.51 648.28,238.48 647.83,238.74 647.38,238.89 646.93,239.00 646.48,238.78 646.04,238.32 645.59,237.94 645.14,237.78 644.69,238.37 644.24,238.85 643.79,239.04 643.34,238.94 642.89,238.66 642.44,238.43 641.99,238.11 641.54,238.01 641.09,238.17 640.64,238.52 640.19,238.54 639.74,238.53 639.29,238.24 638.84,238.00 638.39,238.02 637.94,237.77 637.49,237.65 637.04,237.22 636.59,237.04 636.14,237.29 635.69,237.27 635.24,237.07 634.80,236.45 634.35,236.13 633.90,236.39 633.45,236.67 633.00,236.83 632.55,237.01 632.10,237.19 631.65,236.97 631.20,236.14 630.75,235.46 630.30,235.34 629.85,235.37 629.40,235.34 628.95,235.43 628.50,235.63 628.05,235.63 627.60,235.65 627.15,235.72 626.70,235.71 626.25,235.52 625.80,235.38 625.35,235.39 624.90,235.06 624.45,234.69 624.00,234.89 623.56,235.59 623.11,236.12 622.66,236.07 622.21,236.20 621.76,236.48 621.31,236.62 620.86,236.42 620.41,236.34 619.96,236.44 619.51,236.29 619.06,236.02 618.61,236.11 618.16,236.36 617.71,236.39 617.26,236.22 616.81,236.00 616.36,235.98 615.91,235.67 615.46,235.14 615.01,234.76 614.56,234.67 614.11,234.87 613.66,235.07 613.21,235.28 612.76,235.37 612.32,235.06 611.87,234.88 611.42,234.83 610.97,235.07 610.52,235.37 610.07,235.50 609.62,235.37 609.17,235.01 608.72,235.10 608.27,235.31 607.82,235.10 607.37,234.60 606.92,234.27 606.47,234.00 606.02,233.59 605.57,233.71 605.12,234.44 604.67,235.04 604.22,234.99 603.77,234.59 603.32,234.17 602.87,233.85 602.42,233.71 601.97,233.49 601.52,233.15 601.08,233.07 600.63,233.00 600.18,232.58 599.73,232.12 599.28,232.32 598.83,232.72 598.38,232.50 597.93,232.13 597.48,232.00 597.03,231.94 596.58,231.54 596.13,231.20 595.68,231.11 595.23,230.79 594.78,230.35 594.33,229.88 593.88,229.35 593.43,229.00 592.98,229.08 592.53,229.62 592.08,229.57 591.63,228.81 591.18,228.00 590.73,227.59 590.28,227.15 589.84,226.42 589.39,225.70 588.94,225.13 588.49,224.78 588.04,224.45 587.59,223.99 587.14,223.21 586.69,222.44 586.24,221.77 585.79,221.07 585.34,220.45 584.89,219.89 584.44,219.44 583.99,218.83 583.54,217.91 583.09,217.15 582.64,216.53 582.19,215.72 581.74,215.15 581.29,214.75 580.84,214.36 580.39,213.74 579.94,212.70 579.49,212.33 579.04,212.78 578.60,214.31 578.15,216.53 577.70,218.87 577.25,221.54 576.80,224.28 576.35,226.73 575.90,228.47 575.45,230.33 575.00,232.71 574.55,235.48 574.10,238.24 573.65,240.21 573.20,241.74 572.75,242.27 572.30,241.97 571.85,241.38 571.40,241.03 570.95,241.40 570.50,241.67 570.05,241.69 569.60,241.78 569.15,241.99 568.70,242.14 568.25,242.24 567.80,242.15 567.36,242.02 566.91,241.87 566.46,241.75 566.01,241.70 565.56,241.63 565.11,241.47 564.66,241.39 564.21,241.43 563.76,241.40 563.31,241.27 562.86,241.18 562.41,241.65 561.96,242.04 561.51,242.01 561.06,241.81 560.61,241.53 560.16,241.40 559.71,241.32 559.26,241.46 558.81,241.52 558.36,241.47 557.91,241.58 557.46,241.80 557.01,242.05 556.56,241.77 556.12,241.51 555.67,241.29 555.22,241.15 554.77,240.83 554.32,240.25 553.87,239.91 553.42,240.30 552.97,241.34 552.52,242.36 552.07,242.49 551.62,241.81 551.17,241.32 550.72,241.17" fill="rgba(154,82,173,0.42)" stroke="none"/>
<polyline points="550.72,239.54 551.17,239.13 551.62,239.98 552.07,241.01 552.52,241.16 552.97,239.60 553.42,237.95 553.87,238.04 554.32,238.44 554.77,238.95 555.22,239.78 555.67,239.40 556.12,239.38 556.56,240.46 557.01,240.16 557.46,240.22 557.91,239.71 558.36,239.49 558.81,239.88 559.26,239.88 559.71,239.31 560.16,239.48 560.61,240.12 561.06,239.70 561.51,240.31 561.96,240.70 562.41,239.80 562.86,239.13 563.31,239.29 563.76,240.06 564.21,239.54 564.66,239.36 565.11,239.95 565.56,239.80 566.01,239.84 566.46,240.15 566.91,239.94 567.36,240.20 567.80,240.61 568.25,240.31 568.70,240.50 569.15,240.30 569.60,239.87 570.05,239.88 570.50,240.01 570.95,239.82 571.40,239.06 571.85,238.88 572.30,240.89 572.75,240.84 573.20,239.77 573.65,239.30 574.10,236.25 574.55,233.84 575.00,231.03 575.45,227.95 575.90,226.70 576.35,225.44 576.80,222.75 577.25,219.34 577.70,217.22 578.15,214.73 578.60,212.33 579.04,210.55 579.49,210.14 579.94,211.00 580.39,211.65 580.84,213.27 581.29,212.85 581.74,212.82 582.19,214.48 582.64,214.56 583.09,215.24 583.54,216.34 583.99,216.83 584.44,218.01 584.89,218.18 585.34,218.17 585.79,219.67 586.24,220.06 586.69,220.28 587.14,221.67 587.59,222.38 588.04,222.60 588.49,223.06 588.94,223.36 589.39,223.66 589.84,224.77 590.28,225.51 590.73,225.85 591.18,226.10 591.63,226.73 592.08,228.29 592.53,228.37 592.98,226.87 593.43,226.67 593.88,228.14 594.33,227.94 594.78,228.26 595.23,229.53 595.68,229.27 596.13,229.23 596.58,229.79 597.03,230.28 597.48,230.44 597.93,229.98 598.38,230.67 598.83,231.55 599.28,230.62 599.73,229.47 600.18,230.95 600.63,232.00 601.08,230.74 601.52,231.17 601.97,232.25 602.42,231.76 602.87,231.80 603.32,232.67 603.77,232.73 604.22,233.06 604.67,233.87 605.12,232.88 605.57,231.25 606.02,231.69 606.47,232.53 606.92,232.47 607.37,232.52 607.82,233.50 608.27,233.98 608.72,233.14 609.17,232.86 609.62,233.73 610.07,234.22 610.52,233.24 610.97,233.33 611.42,233.31 611.87,232.54 612.32,233.48 612.76,233.87 613.21,233.44 613.66,233.22 614.11,233.23 614.56,232.85 615.01,232.63 615.46,233.49 615.91,234.00 616.36,234.22 616.81,234.42 617.26,234.07 617.71,234.88 618.16,234.91 618.61,233.99 619.06,234.13 619.51,234.65 619.96,234.79 620.41,234.56 620.86,234.35 621.31,235.04 621.76,235.15 622.21,233.95 622.66,234.18 623.11,234.76 623.56,234.09 624.00,232.61 624.45,232.66 624.90,233.48 625.35,233.72 625.80,233.67 626.25,233.44 626.70,234.15 627.15,234.24 627.60,233.47 628.05,233.92 628.50,234.19 628.95,233.47 629.40,233.31 629.85,233.93 630.30,233.57 630.75,233.22 631.20,234.27 631.65,235.60 632.10,235.72 632.55,234.94 633.00,235.06 633.45,235.19 633.90,234.45 634.35,234.21 634.80,234.42 635.24,235.42 635.69,236.06 636.14,235.03 636.59,235.47 637.04,235.31 637.49,235.58 637.94,236.74 638.39,235.67 638.84,236.35 639.29,236.69 639.74,236.36 640.19,237.22 640.64,236.73 641.09,236.32 641.54,236.15 641.99,236.24 642.44,236.64 642.89,237.11 643.34,236.91 643.79,237.50 644.24,237.40 644.69,236.33 645.14,236.07 645.59,235.62 646.04,236.82 646.48,237.21 646.93,236.99 647.38,237.49 647.83,236.89 648.28,236.53 648.73,236.71 649.18,236.98 649.63,237.13 650.08,237.61 650.53,238.00 650.98,237.33 651.43,237.60 651.88,238.16 652.33,237.41 652.78,237.22 653.23,237.92 653.68,237.84 654.13,237.01 654.58,237.60 655.03,238.82 655.48,238.42 655.93,238.20 656.38,238.45 656.83,238.38 657.28,238.66 657.72,238.50 658.17,238.11 658.62,238.61 659.07,238.33 659.52,237.39 659.97,237.94 660.42,238.48 660.87,237.83 661.32,238.50 661.77,239.63 662.22,239.31 662.67,238.94 663.12,238.59 663.57,238.53 664.02,239.60 664.47,239.32 664.92,238.11 665.37,239.00 665.82,239.33 666.27,239.26 666.72,239.71 667.17,239.79 667.62,239.02 668.07,239.14 668.52,239.82 668.96,239.21 669.41,239.53 669.86,239.85 670.31,239.51 670.76,238.68 671.21,239.14 671.66,239.82 672.11,239.18 672.56,239.27 673.01,238.77 673.46,238.64 673.91,239.36 674.36,239.00 674.81,238.27 675.26,238.94 675.71,239.09 676.16,238.42 676.61,238.77 677.06,239.37 677.51,238.97 677.96,238.35 678.41,239.08 678.86,239.54 679.31,238.40 679.76,238.45 680.20,240.00 680.65,239.83 681.10,238.89 681.55,238.45 682.00,238.66 682.45,238.12 682.90,238.13 683.35,238.84 683.80,238.17 684.25,238.20 684.70,239.63 685.15,239.34 685.60,238.22" fill="none" stroke="#9a52ad" stroke-width="1.0" stroke-linejoin="round"/>
<line x1="573.20" y1="262.80" x2="573.20" y2="168.40" stroke="#1a1a1a" stroke-width="0.9"/>
<line x1="628.28" y1="262.80" x2="628.28" y2="168.40" stroke="#1a1a1a" stroke-width="0.7" stroke-dasharray="1,1"/>
<path d="M550.72,168.40 L550.72,262.80 L685.00,262.80" fill="none" stroke="#3a3a3a" stroke-width="0.9"/>
<line x1="550.72" y1="262.80" x2="550.72" y2="264.40" stroke="#3a3a3a" stroke-width="0.8"/>
<line x1="573.20" y1="262.80" x2="573.20" y2="264.40" stroke="#3a3a3a" stroke-width="0.8"/>
<line x1="595.68" y1="262.80" x2="595.68" y2="264.40" stroke="#3a3a3a" stroke-width="0.8"/>
<line x1="618.16" y1="262.80" x2="618.16" y2="264.40" stroke="#3a3a3a" stroke-width="0.8"/>
<line x1="640.64" y1="262.80" x2="640.64" y2="264.40" stroke="#3a3a3a" stroke-width="0.8"/>
<line x1="663.12" y1="262.80" x2="663.12" y2="264.40" stroke="#3a3a3a" stroke-width="0.8"/>
<line x1="549.12" y1="262.80" x2="550.72" y2="262.80" stroke="#3a3a3a" stroke-width="0.8"/>
<line x1="549.12" y1="239.20" x2="550.72" y2="239.20" stroke="#3a3a3a" stroke-width="0.8"/>
<line x1="549.12" y1="215.60" x2="550.72" y2="215.60" stroke="#3a3a3a" stroke-width="0.8"/>
<line x1="549.12" y1="192.00" x2="550.72" y2="192.00" stroke="#3a3a3a" stroke-width="0.8"/>
<line x1="549.12" y1="168.40" x2="550.72" y2="168.40" stroke="#3a3a3a" stroke-width="0.8"/>
<text x="552.92" y="274.10" font-size="9.5" text-anchor="middle" fill="#2a2a2a" transform="translate(552.92 274.10) scale(1 1.038) translate(-552.92 -274.10)">-2</text>
<text x="574.60" y="274.10" font-size="9.5" text-anchor="middle" fill="#2a2a2a" transform="translate(574.60 274.10) scale(1 1.038) translate(-574.60 -274.10)">0</text>
<text x="596.38" y="274.10" font-size="9.5" text-anchor="middle" fill="#2a2a2a" transform="translate(596.38 274.10) scale(1 1.038) translate(-596.38 -274.10)">2</text>
<text x="618.86" y="274.10" font-size="9.5" text-anchor="middle" fill="#2a2a2a" transform="translate(618.86 274.10) scale(1 1.038) translate(-618.86 -274.10)">4</text>
<text x="641.34" y="274.10" font-size="9.5" text-anchor="middle" fill="#2a2a2a" transform="translate(641.34 274.10) scale(1 1.038) translate(-641.34 -274.10)">6</text>
<text x="663.82" y="274.10" font-size="9.5" text-anchor="middle" fill="#2a2a2a" transform="translate(663.82 274.10) scale(1 1.038) translate(-663.82 -274.10)">8</text>
<text x="546.32" y="266.62" font-size="9.5" text-anchor="end" fill="#2a2a2a" transform="translate(546.32 266.62) scale(1 1.038) translate(-546.32 -266.62)">-4</text>
<text x="546.32" y="243.02" font-size="9.5" text-anchor="end" fill="#2a2a2a" transform="translate(546.32 243.02) scale(1 1.038) translate(-546.32 -243.02)">0</text>
<text x="546.32" y="219.42" font-size="9.5" text-anchor="end" fill="#2a2a2a" transform="translate(546.32 219.42) scale(1 1.038) translate(-546.32 -219.42)">4</text>
<text x="546.32" y="195.82" font-size="9.5" text-anchor="end" fill="#2a2a2a" transform="translate(546.32 195.82) scale(1 1.038) translate(-546.32 -195.82)">8</text>
<text x="546.32" y="172.22" font-size="9.5" text-anchor="end" fill="#2a2a2a" transform="translate(546.32 172.22) scale(1 1.038) translate(-546.32 -172.22)">12</text>
<text x="550.90" y="164.70" font-size="9.5" fill="#8cc63e" textLength="65.6" lengthAdjust="spacingAndGlyphs" transform="translate(550.90 164.70) scale(1 1.038) translate(-550.90 -164.70)">Passive stim 5s</text>
<text x="628.00" y="164.70" font-size="9.5" fill="#9a52ad" textLength="53.2" lengthAdjust="spacingAndGlyphs" transform="translate(628.00 164.70) scale(1 1.038) translate(-628.00 -164.70)">RTPP 5 s on</text>
<text x="619.65" y="287.70" font-size="9.5" text-anchor="middle" fill="#1a1a1a" textLength="99.3" lengthAdjust="spacingAndGlyphs" transform="translate(619.65 287.70) scale(1 1.038) translate(-619.65 -287.70)">time from stim onset (s)</text>
<rect x="85.00" y="355.38" width="9.90" height="33.82" fill="#c00000"/>
<rect x="102.10" y="336.66" width="10.30" height="52.54" fill="#6e6e6e"/>
<line x1="90.00" y1="338.34" x2="107.30" y2="316.53" stroke="#b0b0b0" stroke-width="0.6"/>
<line x1="90.00" y1="345.14" x2="105.10" y2="326.24" stroke="#b0b0b0" stroke-width="0.6"/>
<line x1="90.00" y1="354.76" x2="109.40" y2="327.39" stroke="#b0b0b0" stroke-width="0.6"/>
<line x1="85.60" y1="362.09" x2="102.70" y2="347.17" stroke="#b0b0b0" stroke-width="0.6"/>
<line x1="90.00" y1="367.48" x2="107.30" y2="353.62" stroke="#b0b0b0" stroke-width="0.6"/>
<line x1="94.60" y1="364.83" x2="111.80" y2="349.11" stroke="#b0b0b0" stroke-width="0.6"/>
<line x1="90.00" y1="358.74" x2="90.00" y2="352.11" stroke="#1a1a1a" stroke-width="1.1"/>
<line x1="107.60" y1="342.67" x2="107.60" y2="327.39" stroke="#1a1a1a" stroke-width="1.1"/>
<circle cx="90.00" cy="338.34" r="2.0" fill="#c00000" stroke="#1a1a1a" stroke-width="0.8"/>
<circle cx="90.00" cy="345.14" r="2.0" fill="#c00000" stroke="#1a1a1a" stroke-width="0.8"/>
<circle cx="90.00" cy="354.76" r="2.0" fill="#c00000" stroke="#1a1a1a" stroke-width="0.8"/>
<circle cx="85.60" cy="362.09" r="2.0" fill="#c00000" stroke="#1a1a1a" stroke-width="0.8"/>
<circle cx="90.00" cy="367.48" r="2.0" fill="#c00000" stroke="#1a1a1a" stroke-width="0.8"/>
<circle cx="94.60" cy="364.83" r="2.0" fill="#c00000" stroke="#1a1a1a" stroke-width="0.8"/>
<circle cx="107.30" cy="316.53" r="2.0" fill="#6e6e6e" stroke="#1a1a1a" stroke-width="0.8"/>
<circle cx="105.10" cy="326.24" r="2.0" fill="#6e6e6e" stroke="#1a1a1a" stroke-width="0.8"/>
<circle cx="109.40" cy="327.39" r="2.0" fill="#6e6e6e" stroke="#1a1a1a" stroke-width="0.8"/>
<circle cx="102.70" cy="347.17" r="2.0" fill="#6e6e6e" stroke="#1a1a1a" stroke-width="0.8"/>
<circle cx="107.30" cy="353.62" r="2.0" fill="#6e6e6e" stroke="#1a1a1a" stroke-width="0.8"/>
<circle cx="111.80" cy="349.11" r="2.0" fill="#6e6e6e" stroke="#1a1a1a" stroke-width="0.8"/>
<line x1="80.40" y1="318.56" x2="80.40" y2="389.20" stroke="#3a3a3a" stroke-width="0.9"/>
<line x1="78.80" y1="389.20" x2="80.40" y2="389.20" stroke="#3a3a3a" stroke-width="0.8"/>
<text x="76.40" y="392.55" font-size="9.3" text-anchor="end" fill="#2a2a2a" transform="translate(76.40 392.55) scale(1 1.038) translate(-76.40 -392.55)">0</text>
<line x1="78.80" y1="371.54" x2="80.40" y2="371.54" stroke="#3a3a3a" stroke-width="0.8"/>
<text x="76.40" y="374.89" font-size="9.3" text-anchor="end" fill="#2a2a2a" transform="translate(76.40 374.89) scale(1 1.038) translate(-76.40 -374.89)">2</text>
<line x1="78.80" y1="353.88" x2="80.40" y2="353.88" stroke="#3a3a3a" stroke-width="0.8"/>
<text x="76.40" y="357.23" font-size="9.3" text-anchor="end" fill="#2a2a2a" transform="translate(76.40 357.23) scale(1 1.038) translate(-76.40 -357.23)">4</text>
<line x1="78.80" y1="336.22" x2="80.40" y2="336.22" stroke="#3a3a3a" stroke-width="0.8"/>
<text x="76.40" y="339.57" font-size="9.3" text-anchor="end" fill="#2a2a2a" transform="translate(76.40 339.57) scale(1 1.038) translate(-76.40 -339.57)">6</text>
<line x1="78.80" y1="318.56" x2="80.40" y2="318.56" stroke="#3a3a3a" stroke-width="0.8"/>
<text x="76.40" y="321.91" font-size="9.3" text-anchor="end" fill="#2a2a2a" transform="translate(76.40 321.91) scale(1 1.038) translate(-76.40 -321.91)">8</text>
<line x1="90.00" y1="309.30" x2="107.80" y2="309.30" stroke="#3a3a3a" stroke-width="0.9"/>
<text x="98.90" y="306.60" font-size="8.2" font-style="italic" text-anchor="middle" fill="#1a1a1a" textLength="8.0" lengthAdjust="spacingAndGlyphs" transform="translate(98.90 306.60) scale(1 1.038) translate(-98.90 -306.60)">##</text>
<text x="65.90" y="353.30" font-size="9.5" text-anchor="middle" fill="#1a1a1a" textLength="51.4" lengthAdjust="spacingAndGlyphs" transform="translate(65.90 353.30) rotate(-90) scale(1 1.038) translate(-65.90 -353.30)">stim z-score</text>
<rect x="221.90" y="333.12" width="9.90" height="55.68" fill="#8cc63e"/>
<rect x="236.80" y="359.22" width="10.20" height="29.58" fill="#8c4c9e"/>
<rect x="262.00" y="336.08" width="10.00" height="52.72" fill="#8cc63e"/>
<rect x="276.90" y="379.84" width="10.00" height="8.96" fill="#8c4c9e"/>
<line x1="226.80" y1="314.42" x2="243.30" y2="341.30" stroke="#b0b0b0" stroke-width="0.6"/>
<line x1="226.80" y1="321.81" x2="242.10" y2="359.39" stroke="#b0b0b0" stroke-width="0.6"/>
<line x1="224.50" y1="334.43" x2="239.80" y2="366.27" stroke="#b0b0b0" stroke-width="0.6"/>
<line x1="229.50" y1="333.12" x2="242.10" y2="344.78" stroke="#b0b0b0" stroke-width="0.6"/>
<line x1="226.80" y1="347.39" x2="242.10" y2="370.88" stroke="#b0b0b0" stroke-width="0.6"/>
<line x1="226.80" y1="357.13" x2="244.00" y2="370.10" stroke="#b0b0b0" stroke-width="0.6"/>
<line x1="268.20" y1="313.37" x2="283.50" y2="374.97" stroke="#b0b0b0" stroke-width="0.6"/>
<line x1="265.10" y1="319.20" x2="280.40" y2="375.92" stroke="#b0b0b0" stroke-width="0.6"/>
<line x1="263.60" y1="340.17" x2="281.70" y2="380.01" stroke="#b0b0b0" stroke-width="0.6"/>
<line x1="269.70" y1="340.17" x2="279.70" y2="380.80" stroke="#b0b0b0" stroke-width="0.6"/>
<line x1="266.60" y1="342.78" x2="282.00" y2="385.41" stroke="#b0b0b0" stroke-width="0.6"/>
<line x1="266.60" y1="360.87" x2="282.00" y2="385.41" stroke="#b0b0b0" stroke-width="0.6"/>
<line x1="226.80" y1="340.69" x2="226.80" y2="328.42" stroke="#1a1a1a" stroke-width="1.1"/>
<line x1="242.10" y1="362.70" x2="242.10" y2="354.00" stroke="#1a1a1a" stroke-width="1.1"/>
<line x1="266.60" y1="340.95" x2="266.60" y2="329.12" stroke="#1a1a1a" stroke-width="1.1"/>
<line x1="282.00" y1="381.84" x2="282.00" y2="377.93" stroke="#1a1a1a" stroke-width="1.1"/>
<circle cx="226.80" cy="314.42" r="2.0" fill="#8cc63e" stroke="#1a1a1a" stroke-width="0.8"/>
<circle cx="226.80" cy="321.81" r="2.0" fill="#8cc63e" stroke="#1a1a1a" stroke-width="0.8"/>
<circle cx="224.50" cy="334.43" r="2.0" fill="#8cc63e" stroke="#1a1a1a" stroke-width="0.8"/>
<circle cx="229.50" cy="333.12" r="2.0" fill="#8cc63e" stroke="#1a1a1a" stroke-width="0.8"/>
<circle cx="226.80" cy="347.39" r="2.0" fill="#8cc63e" stroke="#1a1a1a" stroke-width="0.8"/>
<circle cx="226.80" cy="357.13" r="2.0" fill="#8cc63e" stroke="#1a1a1a" stroke-width="0.8"/>
<circle cx="243.30" cy="341.30" r="2.0" fill="#8c4c9e" stroke="#1a1a1a" stroke-width="0.8"/>
<circle cx="242.10" cy="344.78" r="2.0" fill="#8c4c9e" stroke="#1a1a1a" stroke-width="0.8"/>
<circle cx="242.10" cy="359.39" r="2.0" fill="#8c4c9e" stroke="#1a1a1a" stroke-width="0.8"/>
<circle cx="239.80" cy="366.27" r="2.0" fill="#8c4c9e" stroke="#1a1a1a" stroke-width="0.8"/>
<circle cx="242.10" cy="370.88" r="2.0" fill="#8c4c9e" stroke="#1a1a1a" stroke-width="0.8"/>
<circle cx="244.00" cy="370.10" r="2.0" fill="#8c4c9e" stroke="#1a1a1a" stroke-width="0.8"/>
<circle cx="268.20" cy="313.37" r="2.0" fill="#8cc63e" stroke="#1a1a1a" stroke-width="0.8"/>
<circle cx="265.10" cy="319.20" r="2.0" fill="#8cc63e" stroke="#1a1a1a" stroke-width="0.8"/>
<circle cx="263.60" cy="340.17" r="2.0" fill="#8cc63e" stroke="#1a1a1a" stroke-width="0.8"/>
<circle cx="269.70" cy="340.17" r="2.0" fill="#8cc63e" stroke="#1a1a1a" stroke-width="0.8"/>
<circle cx="266.60" cy="342.78" r="2.0" fill="#8cc63e" stroke="#1a1a1a" stroke-width="0.8"/>
<circle cx="266.60" cy="360.87" r="2.0" fill="#8cc63e" stroke="#1a1a1a" stroke-width="0.8"/>
<circle cx="283.50" cy="374.97" r="2.0" fill="#8c4c9e" stroke="#1a1a1a" stroke-width="0.8"/>
<circle cx="280.40" cy="375.92" r="2.0" fill="#8c4c9e" stroke="#1a1a1a" stroke-width="0.8"/>
<circle cx="281.70" cy="380.01" r="2.0" fill="#8c4c9e" stroke="#1a1a1a" stroke-width="0.8"/>
<circle cx="279.70" cy="380.80" r="2.0" fill="#8c4c9e" stroke="#1a1a1a" stroke-width="0.8"/>
<circle cx="282.00" cy="385.41" r="2.0" fill="#8c4c9e" stroke="#1a1a1a" stroke-width="0.8"/>
<line x1="214.50" y1="319.20" x2="214.50" y2="388.80" stroke="#3a3a3a" stroke-width="0.9"/>
<line x1="212.90" y1="388.80" x2="214.50" y2="388.80" stroke="#3a3a3a" stroke-width="0.8"/>
<text x="210.50" y="392.15" font-size="9.3" text-anchor="end" fill="#2a2a2a" transform="translate(210.50 392.15) scale(1 1.038) translate(-210.50 -392.15)">0</text>
<line x1="212.90" y1="371.40" x2="214.50" y2="371.40" stroke="#3a3a3a" stroke-width="0.8"/>
<text x="210.50" y="374.75" font-size="9.3" text-anchor="end" fill="#2a2a2a" transform="translate(210.50 374.75) scale(1 1.038) translate(-210.50 -374.75)">2</text>
<line x1="212.90" y1="354.00" x2="214.50" y2="354.00" stroke="#3a3a3a" stroke-width="0.8"/>
<text x="210.50" y="357.35" font-size="9.3" text-anchor="end" fill="#2a2a2a" transform="translate(210.50 357.35) scale(1 1.038) translate(-210.50 -357.35)">4</text>
<line x1="212.90" y1="336.60" x2="214.50" y2="336.60" stroke="#3a3a3a" stroke-width="0.8"/>
<text x="210.50" y="339.95" font-size="9.3" text-anchor="end" fill="#2a2a2a" transform="translate(210.50 339.95) scale(1 1.038) translate(-210.50 -339.95)">6</text>
<line x1="212.90" y1="319.20" x2="214.50" y2="319.20" stroke="#3a3a3a" stroke-width="0.8"/>
<text x="210.50" y="322.55" font-size="9.3" text-anchor="end" fill="#2a2a2a" transform="translate(210.50 322.55) scale(1 1.038) translate(-210.50 -322.55)">8</text>
<line x1="227.60" y1="305.70" x2="241.80" y2="305.70" stroke="#3a3a3a" stroke-width="0.9"/>
<text x="234.70" y="302.80" font-size="7.6" text-anchor="middle" fill="#1a1a1a" transform="translate(234.70 302.80) scale(1 1.038) translate(-234.70 -302.80)">&amp;&amp;&amp;</text>
<line x1="268.20" y1="305.70" x2="283.80" y2="305.70" stroke="#3a3a3a" stroke-width="0.9"/>
<text x="275.90" y="302.80" font-size="7.6" text-anchor="middle" fill="#1a1a1a" transform="translate(275.90 302.80) scale(1 1.038) translate(-275.90 -302.80)">&amp;&amp;&amp;&amp;</text>
<text x="238.50" y="396.50" font-size="9.6" text-anchor="end" fill="#1a1a1a" transform="translate(238.50 396.50) rotate(-48) scale(1 1.038) translate(-238.50 -396.50)">early</text>
<text x="281.50" y="396.50" font-size="9.6" text-anchor="end" fill="#1a1a1a" transform="translate(281.50 396.50) rotate(-48) scale(1 1.038) translate(-281.50 -396.50)">late</text>
<text x="199.30" y="353.10" font-size="9.5" text-anchor="middle" fill="#1a1a1a" textLength="50.8" lengthAdjust="spacingAndGlyphs" transform="translate(199.30 353.10) rotate(-90) scale(1 1.038) translate(-199.30 -353.10)">stim z-score</text>
<rect x="446.90" y="359.77" width="10.10" height="29.23" fill="#c00000"/>
<rect x="462.10" y="335.23" width="9.90" height="53.77" fill="#6e6e6e"/>
<line x1="452.10" y1="348.28" x2="467.20" y2="307.05" stroke="#b0b0b0" stroke-width="0.6"/>
<line x1="452.10" y1="355.07" x2="467.20" y2="320.62" stroke="#b0b0b0" stroke-width="0.6"/>
<line x1="450.70" y1="362.38" x2="466.70" y2="347.76" stroke="#b0b0b0" stroke-width="0.6"/>
<line x1="453.60" y1="366.03" x2="469.50" y2="349.85" stroke="#b0b0b0" stroke-width="0.6"/>
<line x1="451.50" y1="367.60" x2="467.60" y2="350.89" stroke="#b0b0b0" stroke-width="0.6"/>
<line x1="452.10" y1="362.90" x2="452.10" y2="356.64" stroke="#1a1a1a" stroke-width="1.1"/>
<line x1="467.20" y1="343.32" x2="467.20" y2="326.36" stroke="#1a1a1a" stroke-width="1.1"/>
<circle cx="452.10" cy="348.28" r="2.0" fill="#c00000" stroke="#1a1a1a" stroke-width="0.8"/>
<circle cx="452.10" cy="355.07" r="2.0" fill="#c00000" stroke="#1a1a1a" stroke-width="0.8"/>
<circle cx="450.70" cy="362.38" r="2.0" fill="#c00000" stroke="#1a1a1a" stroke-width="0.8"/>
<circle cx="453.60" cy="366.03" r="2.0" fill="#c00000" stroke="#1a1a1a" stroke-width="0.8"/>
<circle cx="451.50" cy="367.60" r="2.0" fill="#c00000" stroke="#1a1a1a" stroke-width="0.8"/>
<circle cx="467.20" cy="307.05" r="2.0" fill="#6e6e6e" stroke="#1a1a1a" stroke-width="0.8"/>
<circle cx="467.20" cy="320.62" r="2.0" fill="#6e6e6e" stroke="#1a1a1a" stroke-width="0.8"/>
<circle cx="466.70" cy="347.76" r="2.0" fill="#6e6e6e" stroke="#1a1a1a" stroke-width="0.8"/>
<circle cx="469.50" cy="349.85" r="2.0" fill="#6e6e6e" stroke="#1a1a1a" stroke-width="0.8"/>
<circle cx="467.60" cy="350.89" r="2.0" fill="#6e6e6e" stroke="#1a1a1a" stroke-width="0.8"/>
<line x1="443.20" y1="326.36" x2="443.20" y2="389.00" stroke="#3a3a3a" stroke-width="0.9"/>
<line x1="441.60" y1="389.00" x2="443.20" y2="389.00" stroke="#3a3a3a" stroke-width="0.8"/>
<text x="439.20" y="392.35" font-size="9.3" text-anchor="end" fill="#2a2a2a" transform="translate(439.20 392.35) scale(1 1.038) translate(-439.20 -392.35)">0</text>
<line x1="441.60" y1="368.12" x2="443.20" y2="368.12" stroke="#3a3a3a" stroke-width="0.8"/>
<text x="439.20" y="371.47" font-size="9.3" text-anchor="end" fill="#2a2a2a" transform="translate(439.20 371.47) scale(1 1.038) translate(-439.20 -371.47)">4</text>
<line x1="441.60" y1="347.24" x2="443.20" y2="347.24" stroke="#3a3a3a" stroke-width="0.8"/>
<text x="439.20" y="350.59" font-size="9.3" text-anchor="end" fill="#2a2a2a" transform="translate(439.20 350.59) scale(1 1.038) translate(-439.20 -350.59)">8</text>
<line x1="441.60" y1="326.36" x2="443.20" y2="326.36" stroke="#3a3a3a" stroke-width="0.8"/>
<text x="439.20" y="329.71" font-size="9.3" text-anchor="end" fill="#2a2a2a" transform="translate(439.20 329.71) scale(1 1.038) translate(-439.20 -329.71)">12</text>
<line x1="450.40" y1="304.30" x2="468.80" y2="304.30" stroke="#3a3a3a" stroke-width="0.9"/>
<text x="459.00" y="302.20" font-size="8.2" font-style="italic" text-anchor="middle" fill="#1a1a1a" textLength="4.0" lengthAdjust="spacingAndGlyphs" transform="translate(459.00 302.20) scale(1 1.038) translate(-459.00 -302.20)">#</text>
<text x="428.20" y="359.20" font-size="9.5" text-anchor="middle" fill="#1a1a1a" textLength="50.7" lengthAdjust="spacingAndGlyphs" transform="translate(428.20 359.20) rotate(-90) scale(1 1.038) translate(-428.20 -359.20)">stim z-score</text>
<rect x="590.10" y="340.98" width="9.70" height="46.52" fill="#8cc63e"/>
<rect x="604.20" y="360.98" width="9.60" height="26.52" fill="#8c4c9e"/>
<rect x="628.10" y="345.71" width="9.20" height="41.79" fill="#8cc63e"/>
<rect x="642.00" y="380.00" width="9.30" height="7.50" fill="#8c4c9e"/>
<line x1="594.90" y1="317.39" x2="608.80" y2="354.19" stroke="#b0b0b0" stroke-width="0.6"/>
<line x1="594.90" y1="333.32" x2="609.10" y2="360.82" stroke="#b0b0b0" stroke-width="0.6"/>
<line x1="594.90" y1="342.42" x2="610.40" y2="357.69" stroke="#b0b0b0" stroke-width="0.6"/>
<line x1="594.90" y1="351.88" x2="607.90" y2="359.28" stroke="#b0b0b0" stroke-width="0.6"/>
<line x1="594.90" y1="358.30" x2="609.10" y2="372.59" stroke="#b0b0b0" stroke-width="0.6"/>
<line x1="632.30" y1="322.58" x2="645.10" y2="378.40" stroke="#b0b0b0" stroke-width="0.6"/>
<line x1="632.30" y1="329.21" x2="648.20" y2="378.76" stroke="#b0b0b0" stroke-width="0.6"/>
<line x1="632.30" y1="343.19" x2="646.30" y2="381.90" stroke="#b0b0b0" stroke-width="0.6"/>
<line x1="632.30" y1="356.51" x2="644.50" y2="380.30" stroke="#b0b0b0" stroke-width="0.6"/>
<line x1="632.30" y1="376.29" x2="646.30" y2="381.90" stroke="#b0b0b0" stroke-width="0.6"/>
<line x1="594.90" y1="347.20" x2="594.90" y2="333.32" stroke="#1a1a1a" stroke-width="1.1"/>
<line x1="608.80" y1="363.34" x2="608.80" y2="358.20" stroke="#1a1a1a" stroke-width="1.1"/>
<line x1="632.30" y1="356.51" x2="632.30" y2="336.10" stroke="#1a1a1a" stroke-width="1.1"/>
<line x1="646.50" y1="381.59" x2="646.50" y2="378.50" stroke="#1a1a1a" stroke-width="1.1"/>
<circle cx="594.90" cy="317.39" r="2.0" fill="#8cc63e" stroke="#1a1a1a" stroke-width="0.8"/>
<circle cx="594.90" cy="333.32" r="2.0" fill="#8cc63e" stroke="#1a1a1a" stroke-width="0.8"/>
<circle cx="594.90" cy="342.42" r="2.0" fill="#8cc63e" stroke="#1a1a1a" stroke-width="0.8"/>
<circle cx="594.90" cy="351.88" r="2.0" fill="#8cc63e" stroke="#1a1a1a" stroke-width="0.8"/>
<circle cx="594.90" cy="358.30" r="2.0" fill="#8cc63e" stroke="#1a1a1a" stroke-width="0.8"/>
<circle cx="608.80" cy="354.19" r="2.0" fill="#8c4c9e" stroke="#1a1a1a" stroke-width="0.8"/>
<circle cx="610.40" cy="357.69" r="2.0" fill="#8c4c9e" stroke="#1a1a1a" stroke-width="0.8"/>
<circle cx="607.90" cy="359.28" r="2.0" fill="#8c4c9e" stroke="#1a1a1a" stroke-width="0.8"/>
<circle cx="609.10" cy="360.82" r="2.0" fill="#8c4c9e" stroke="#1a1a1a" stroke-width="0.8"/>
<circle cx="609.10" cy="372.59" r="2.0" fill="#8c4c9e" stroke="#1a1a1a" stroke-width="0.8"/>
<circle cx="632.30" cy="322.58" r="2.0" fill="#8cc63e" stroke="#1a1a1a" stroke-width="0.8"/>
<circle cx="632.30" cy="329.21" r="2.0" fill="#8cc63e" stroke="#1a1a1a" stroke-width="0.8"/>
<circle cx="632.30" cy="343.19" r="2.0" fill="#8cc63e" stroke="#1a1a1a" stroke-width="0.8"/>
<circle cx="632.30" cy="356.51" r="2.0" fill="#8cc63e" stroke="#1a1a1a" stroke-width="0.8"/>
<circle cx="632.30" cy="376.29" r="2.0" fill="#8cc63e" stroke="#1a1a1a" stroke-width="0.8"/>
<circle cx="645.10" cy="378.40" r="2.0" fill="#8c4c9e" stroke="#1a1a1a" stroke-width="0.8"/>
<circle cx="648.20" cy="378.76" r="2.0" fill="#8c4c9e" stroke="#1a1a1a" stroke-width="0.8"/>
<circle cx="646.30" cy="381.90" r="2.0" fill="#8c4c9e" stroke="#1a1a1a" stroke-width="0.8"/>
<circle cx="644.50" cy="380.30" r="2.0" fill="#8c4c9e" stroke="#1a1a1a" stroke-width="0.8"/>
<line x1="583.40" y1="325.82" x2="583.40" y2="387.50" stroke="#3a3a3a" stroke-width="0.9"/>
<line x1="581.80" y1="387.50" x2="583.40" y2="387.50" stroke="#3a3a3a" stroke-width="0.8"/>
<text x="579.40" y="390.85" font-size="9.3" text-anchor="end" fill="#2a2a2a" transform="translate(579.40 390.85) scale(1 1.038) translate(-579.40 -390.85)">0</text>
<line x1="581.80" y1="366.94" x2="583.40" y2="366.94" stroke="#3a3a3a" stroke-width="0.8"/>
<text x="579.40" y="370.29" font-size="9.3" text-anchor="end" fill="#2a2a2a" transform="translate(579.40 370.29) scale(1 1.038) translate(-579.40 -370.29)">4</text>
<line x1="581.80" y1="346.38" x2="583.40" y2="346.38" stroke="#3a3a3a" stroke-width="0.8"/>
<text x="579.40" y="349.73" font-size="9.3" text-anchor="end" fill="#2a2a2a" transform="translate(579.40 349.73) scale(1 1.038) translate(-579.40 -349.73)">8</text>
<line x1="581.80" y1="325.82" x2="583.40" y2="325.82" stroke="#3a3a3a" stroke-width="0.8"/>
<text x="579.40" y="329.17" font-size="9.3" text-anchor="end" fill="#2a2a2a" transform="translate(579.40 329.17) scale(1 1.038) translate(-579.40 -329.17)">12</text>
<line x1="595.50" y1="311.50" x2="609.10" y2="311.50" stroke="#3a3a3a" stroke-width="0.9"/>
<text x="602.60" y="308.20" font-size="7.6" text-anchor="middle" fill="#1a1a1a" transform="translate(602.60 308.20) scale(1 1.038) translate(-602.60 -308.20)">&amp;&amp;&amp;</text>
<line x1="632.30" y1="317.40" x2="646.70" y2="317.40" stroke="#3a3a3a" stroke-width="0.9"/>
<text x="640.10" y="314.40" font-size="7.6" text-anchor="middle" fill="#1a1a1a" transform="translate(640.10 314.40) scale(1 1.038) translate(-640.10 -314.40)">&amp;&amp;&amp;&amp;</text>
<text x="607.50" y="393.50" font-size="9.6" text-anchor="end" fill="#1a1a1a" transform="translate(607.50 393.50) rotate(-48) scale(1 1.038) translate(-607.50 -393.50)">early</text>
<text x="646.00" y="393.50" font-size="9.6" text-anchor="end" fill="#1a1a1a" transform="translate(646.00 393.50) rotate(-48) scale(1 1.038) translate(-646.00 -393.50)">late</text>
<text x="565.40" y="356.20" font-size="9.5" text-anchor="middle" fill="#1a1a1a" textLength="51.7" lengthAdjust="spacingAndGlyphs" transform="translate(565.40 356.20) rotate(-90) scale(1 1.038) translate(-565.40 -356.20)">stim z-score</text>
<text x="8.90" y="564.50" font-size="28.9" transform="translate(8.90 564.50) scale(1 1.038) translate(-8.90 -564.50)">C</text>
<text x="28.97" y="564.50" font-size="14.8" stroke="#000" stroke-width="0.35" transform="translate(28.97 564.50) scale(1 1.038) translate(-28.97 -564.50)">1</text>
<rect x="25.50" y="584.56" width="20.10" height="95.68" fill="#e2e2e2"/>
<rect x="45.60" y="584.56" width="100.50" height="95.68" fill="url(#gC1)"/>
<polygon points="25.50,628.95 25.90,629.78 26.30,630.97 26.71,631.43 27.11,631.03 27.51,630.36 27.91,629.76 28.31,629.44 28.72,629.39 29.12,629.74 29.52,630.26 29.92,630.08 30.32,629.56 30.73,629.26 31.13,629.39 31.53,629.34 31.93,628.34 32.33,627.36 32.74,626.92 33.14,626.88 33.54,626.58 33.94,626.08 34.34,625.70 34.75,625.67 35.15,625.98 35.55,626.68 35.95,627.33 36.35,627.90 36.76,628.46 37.16,628.84 37.56,628.96 37.96,628.94 38.36,628.95 38.77,628.48 39.17,627.92 39.57,627.14 39.97,626.56 40.37,626.29 40.78,626.23 41.18,626.23 41.58,626.70 41.98,627.09 42.38,627.50 42.79,626.98 43.19,626.70 43.59,626.55 43.99,626.32 44.39,626.44 44.80,626.89 45.20,627.40 45.60,627.15 46.00,626.80 46.40,626.89 46.81,627.64 47.21,628.38 47.61,629.04 48.01,629.88 48.41,630.77 48.82,631.67 49.22,632.82 49.62,633.82 50.02,634.94 50.42,636.06 50.83,637.04 51.23,638.31 51.63,639.67 52.03,641.45 52.43,643.19 52.84,644.80 53.24,646.11 53.64,647.03 54.04,647.53 54.44,648.40 54.85,649.56 55.25,650.38 55.65,651.05 56.05,651.91 56.45,652.73 56.86,653.12 57.26,652.49 57.66,651.12 58.06,649.43 58.46,647.06 58.87,645.46 59.27,644.30 59.67,643.33 60.07,640.69 60.47,636.65 60.88,632.17 61.28,627.84 61.68,623.77 62.08,620.21 62.48,617.74 62.89,616.40 63.29,615.25 63.69,613.83 64.09,612.43 64.49,611.36 64.90,610.45 65.30,609.94 65.70,609.98 66.10,611.23 66.50,612.42 66.91,613.29 67.31,613.61 67.71,614.06 68.11,614.32 68.51,614.19 68.92,614.09 69.32,614.76 69.72,616.19 70.12,618.47 70.52,619.69 70.93,620.10 71.33,619.30 71.73,619.34 72.13,620.01 72.53,620.59 72.94,620.89 73.34,621.37 73.74,621.50 74.14,621.56 74.54,621.05 74.95,621.32 75.35,622.12 75.75,622.83 76.15,623.40 76.55,623.39 76.96,623.54 77.36,624.01 77.76,624.78 78.16,625.15 78.56,624.92 78.97,624.90 79.37,624.81 79.77,624.28 80.17,623.63 80.57,623.72 80.98,624.16 81.38,624.60 81.78,624.38 82.18,624.07 82.58,623.56 82.99,623.57 83.39,623.94 83.79,623.82 84.19,623.28 84.59,622.80 85.00,623.06 85.40,623.33 85.80,623.40 86.20,623.50 86.60,623.80 87.01,624.35 87.41,624.39 87.81,624.24 88.21,623.90 88.61,623.84 89.02,624.49 89.42,625.06 89.82,625.48 90.22,625.25 90.62,624.92 91.03,624.50 91.43,623.58 91.83,622.58 92.23,621.84 92.63,622.06 93.04,622.58 93.44,622.87 93.84,623.08 94.24,623.19 94.64,623.85 95.05,624.39 95.45,624.69 95.85,624.43 96.25,623.99 96.65,624.04 97.06,624.43 97.46,624.93 97.86,624.83 98.26,624.05 98.66,623.55 99.07,623.41 99.47,624.01 99.87,624.65 100.27,624.78 100.67,624.03 101.08,623.27 101.48,623.40 101.88,623.98 102.28,624.55 102.68,625.00 103.09,625.45 103.49,625.19 103.89,624.78 104.29,624.18 104.69,624.06 105.10,624.09 105.50,624.12 105.90,623.77 106.30,623.69 106.70,624.59 107.11,625.40 107.51,625.84 107.91,626.23 108.31,627.06 108.71,627.78 109.12,628.25 109.52,628.30 109.92,627.93 110.32,626.72 110.72,626.21 111.13,626.91 111.53,628.22 111.93,628.82 112.33,628.53 112.73,627.96 113.14,628.30 113.54,628.58 113.94,629.10 114.34,629.53 114.74,629.57 115.15,629.34 115.55,628.44 115.95,628.80 116.35,629.75 116.75,630.49 117.16,630.75 117.56,630.96 117.96,631.76 118.36,632.43 118.76,632.48 119.17,632.47 119.57,632.41 119.97,632.19 120.37,631.52 120.77,630.32 121.18,628.95 121.58,627.67 121.98,626.19 122.38,625.36 122.78,625.15 123.19,625.53 123.59,625.85 123.99,626.03 124.39,626.00 124.79,626.32 125.20,626.54 125.60,626.93 126.00,627.11 126.40,627.07 126.80,626.66 127.21,626.06 127.61,625.99 128.01,626.81 128.41,627.30 128.81,627.30 129.22,626.60 129.62,626.05 130.02,625.45 130.42,625.09 130.82,625.24 131.23,625.81 131.63,626.25 132.03,626.21 132.43,625.96 132.83,626.06 133.24,626.16 133.64,626.19 134.04,626.33 134.44,627.10 134.84,628.13 135.25,628.59 135.65,628.40 136.05,628.17 136.45,628.18 136.85,628.30 137.26,628.40 137.66,628.07 138.06,627.67 138.46,627.20 138.86,626.74 139.27,626.53 139.67,626.21 140.07,626.39 140.47,626.73 140.87,626.90 141.28,626.74 141.68,626.17 142.08,625.68 142.48,625.73 142.88,626.11 143.29,626.23 143.69,626.33 144.09,626.67 144.49,626.92 144.89,626.61 145.30,626.51 145.70,626.50 146.10,626.82 146.10,634.00 145.70,633.67 145.30,633.68 144.89,633.78 144.49,634.09 144.09,633.84 143.69,633.51 143.29,633.41 142.88,633.29 142.48,632.90 142.08,632.85 141.68,633.35 141.28,633.92 140.87,634.08 140.47,633.91 140.07,633.56 139.67,633.39 139.27,633.70 138.86,633.92 138.46,634.38 138.06,634.85 137.66,635.24 137.26,635.58 136.85,635.47 136.45,635.35 136.05,635.35 135.65,635.58 135.25,635.77 134.84,635.31 134.44,634.28 134.04,633.51 133.64,633.37 133.24,633.33 132.83,633.23 132.43,633.13 132.03,633.39 131.63,633.43 131.23,632.98 130.82,632.42 130.42,632.27 130.02,632.62 129.62,633.23 129.22,633.78 128.81,634.47 128.41,634.47 128.01,633.98 127.61,633.17 127.21,633.23 126.80,633.84 126.40,634.25 126.00,634.29 125.60,634.11 125.20,633.72 124.79,633.49 124.39,633.18 123.99,633.20 123.59,633.02 123.19,632.70 122.78,632.33 122.38,632.54 121.98,633.36 121.58,634.85 121.18,636.13 120.77,637.50 120.37,638.70 119.97,639.37 119.57,639.59 119.17,639.64 118.76,639.66 118.36,639.60 117.96,638.94 117.56,638.14 117.16,637.92 116.75,637.67 116.35,636.92 115.95,635.98 115.55,635.62 115.15,636.51 114.74,636.75 114.34,636.71 113.94,636.28 113.54,635.75 113.14,635.47 112.73,635.14 112.33,635.71 111.93,636.00 111.53,635.39 111.13,634.09 110.72,633.38 110.32,633.90 109.92,635.11 109.52,635.48 109.12,635.43 108.71,634.96 108.31,634.24 107.91,633.41 107.51,633.02 107.11,632.58 106.70,631.77 106.30,630.87 105.90,630.95 105.50,631.30 105.10,631.26 104.69,631.24 104.29,631.35 103.89,631.96 103.49,632.36 103.09,632.62 102.68,632.18 102.28,631.73 101.88,631.16 101.48,630.57 101.08,630.44 100.67,631.21 100.27,631.95 99.87,631.83 99.47,631.18 99.07,630.58 98.66,630.73 98.26,631.23 97.86,632.00 97.46,632.10 97.06,631.60 96.65,631.22 96.25,631.16 95.85,631.61 95.45,631.86 95.05,631.56 94.64,631.02 94.24,630.37 93.84,630.26 93.44,630.05 93.04,629.76 92.63,629.24 92.23,629.01 91.83,629.76 91.43,630.76 91.03,631.68 90.62,632.09 90.22,632.43 89.82,632.65 89.42,632.24 89.02,631.67 88.61,631.02 88.21,631.08 87.81,631.42 87.41,631.57 87.01,631.52 86.60,630.98 86.20,630.68 85.80,630.57 85.40,630.50 85.00,630.24 84.59,629.98 84.19,630.46 83.79,631.00 83.39,631.12 82.99,630.75 82.58,630.74 82.18,631.24 81.78,631.56 81.38,631.78 80.98,631.33 80.57,630.90 80.17,630.80 79.77,631.46 79.37,631.99 78.97,632.07 78.56,632.09 78.16,632.32 77.76,631.96 77.36,631.19 76.96,630.72 76.55,630.57 76.15,630.58 75.75,630.01 75.35,629.30 74.95,628.50 74.54,628.23 74.14,628.73 73.74,628.68 73.34,628.55 72.94,628.07 72.53,627.76 72.13,627.18 71.73,626.52 71.33,626.48 70.93,627.27 70.52,626.86 70.12,625.64 69.72,623.37 69.32,621.94 68.92,621.27 68.51,621.37 68.11,621.50 67.71,621.23 67.31,620.79 66.91,620.47 66.50,619.60 66.10,618.41 65.70,617.16 65.30,617.11 64.90,617.62 64.49,618.54 64.09,619.61 63.69,621.01 63.29,622.42 62.89,623.58 62.48,624.91 62.08,627.38 61.68,630.94 61.28,635.01 60.88,639.35 60.47,643.82 60.07,647.87 59.67,650.51 59.27,651.47 58.87,652.63 58.46,654.23 58.06,656.61 57.66,658.30 57.26,659.66 56.86,660.30 56.45,659.91 56.05,659.08 55.65,658.23 55.25,657.55 54.85,656.73 54.44,655.58 54.04,654.71 53.64,654.20 53.24,653.29 52.84,651.98 52.43,650.36 52.03,648.62 51.63,646.85 51.23,645.48 50.83,644.22 50.42,643.24 50.02,642.11 49.62,640.99 49.22,640.00 48.82,638.85 48.41,637.94 48.01,637.06 47.61,636.22 47.21,635.55 46.81,634.82 46.40,634.06 46.00,633.98 45.60,634.33 45.20,634.58 44.80,634.06 44.39,633.61 43.99,633.49 43.59,633.73 43.19,633.88 42.79,634.16 42.38,634.68 41.98,634.26 41.58,633.88 41.18,633.40 40.78,633.40 40.37,633.47 39.97,633.74 39.57,634.31 39.17,635.09 38.77,635.65 38.36,636.13 37.96,636.11 37.56,636.14 37.16,636.02 36.76,635.64 36.35,635.07 35.95,634.50 35.55,633.86 35.15,633.15 34.75,632.84 34.34,632.87 33.94,633.26 33.54,633.76 33.14,634.06 32.74,634.10 32.33,634.53 31.93,635.52 31.53,636.52 31.13,636.57 30.73,636.43 30.32,636.74 29.92,637.26 29.52,637.44 29.12,636.92 28.72,636.57 28.31,636.62 27.91,636.93 27.51,637.53 27.11,638.20 26.71,638.61 26.30,638.15 25.90,636.96 25.50,636.13" fill="rgba(140,198,62,0.5)" stroke="none"/>
<polyline points="25.50,632.07 25.90,633.47 26.30,634.57 26.71,635.65 27.11,634.85 27.51,633.34 27.91,633.64 28.31,633.06 28.72,632.40 29.12,633.49 29.52,634.11 29.92,633.96 30.32,632.94 30.73,632.55 31.13,633.04 31.53,633.35 31.93,632.40 32.33,630.04 32.74,630.38 33.14,631.10 33.54,629.93 33.94,629.49 34.34,629.59 34.75,628.78 35.15,629.40 35.55,630.52 35.95,630.89 36.35,631.33 36.76,632.24 37.16,632.59 37.56,632.46 37.96,632.61 38.36,632.50 38.77,632.51 39.17,631.18 39.57,630.83 39.97,630.16 40.37,629.46 40.78,630.02 41.18,629.96 41.58,629.46 41.98,631.45 42.38,631.11 42.79,630.71 43.19,629.88 43.59,630.28 43.99,630.26 44.39,629.18 44.80,630.63 45.20,631.61 45.60,630.73 46.00,629.89 46.40,630.54 46.81,630.99 47.21,632.16 47.61,632.74 48.01,632.99 48.41,634.68 48.82,635.40 49.22,635.70 49.62,638.14 50.02,638.39 50.42,639.05 50.83,641.52 51.23,641.33 51.63,642.84 52.03,645.61 52.43,646.67 52.84,648.06 53.24,650.45 53.64,650.59 54.04,650.80 54.44,651.98 54.85,653.19 55.25,654.26 55.65,654.44 56.05,655.21 56.45,656.84 56.86,656.91 57.26,656.38 57.66,654.94 58.06,652.81 58.46,651.31 58.87,647.81 59.27,648.02 59.67,647.84 60.07,644.91 60.47,640.08 60.88,635.71 61.28,631.49 61.68,627.08 62.08,623.50 62.48,620.81 62.89,619.66 63.29,619.50 63.69,617.34 64.09,615.41 64.49,615.31 64.90,614.13 65.30,612.66 65.70,613.78 66.10,614.26 66.50,616.42 66.91,617.35 67.31,616.87 67.71,617.38 68.11,618.69 68.51,617.67 68.92,616.99 69.32,618.38 69.72,619.69 70.12,621.28 70.52,625.20 70.93,623.35 71.33,622.51 71.73,622.82 72.13,623.46 72.53,624.50 72.94,624.56 73.34,624.37 73.74,625.95 74.14,624.96 74.54,624.53 74.95,624.43 75.35,625.78 75.75,626.92 76.15,626.55 76.55,627.50 76.96,626.88 77.36,627.01 77.76,628.91 78.16,629.19 78.56,628.11 78.97,628.22 79.37,629.13 79.77,627.85 80.17,626.62 80.57,627.17 80.98,628.14 81.38,627.92 81.78,628.50 82.18,627.49 82.58,626.97 82.99,626.99 83.39,627.51 83.79,628.08 84.19,626.63 84.59,625.91 85.00,626.63 85.40,627.41 85.80,626.71 86.20,626.84 86.60,627.72 87.01,627.61 87.41,628.47 87.81,627.86 88.21,627.16 88.61,627.45 89.02,627.68 89.42,629.11 89.82,629.15 90.22,628.93 90.62,628.43 91.03,628.15 91.43,627.70 91.83,625.67 92.23,625.14 92.63,625.47 93.04,626.34 93.44,626.70 93.84,626.34 94.24,626.96 94.64,627.04 95.05,628.30 95.45,628.58 95.85,627.94 96.25,627.53 96.65,627.25 97.06,628.11 97.46,628.69 97.86,628.74 98.26,627.82 98.66,626.37 99.07,627.23 99.47,627.38 99.87,628.17 100.27,629.16 100.67,627.77 101.08,625.93 101.48,626.87 101.88,628.16 102.28,627.69 102.68,628.57 103.09,629.52 103.49,629.02 103.89,627.79 104.29,628.29 104.69,627.20 105.10,627.46 105.50,628.36 105.90,627.30 106.30,626.42 106.70,628.12 107.11,630.00 107.51,628.85 107.91,629.43 108.31,631.17 108.71,631.36 109.12,631.57 109.52,632.60 109.92,631.50 110.32,630.47 110.72,628.97 111.13,629.96 111.53,632.57 111.93,632.88 112.33,631.77 112.73,631.71 113.14,631.17 113.54,632.77 113.94,632.55 114.34,632.75 114.74,634.06 115.15,632.66 115.55,632.05 115.95,631.38 116.35,633.74 116.75,634.88 117.16,633.61 117.56,634.52 117.96,635.52 118.36,636.02 118.76,636.51 119.17,635.68 119.57,635.98 119.97,636.33 120.37,635.03 120.77,633.97 121.18,632.73 121.58,630.92 121.98,630.14 122.38,628.27 122.78,628.44 123.19,629.51 123.59,629.39 123.99,629.40 124.39,630.05 124.79,629.32 125.20,630.34 125.60,630.74 126.00,630.47 126.40,630.88 126.80,630.63 127.21,629.24 127.61,629.06 128.01,630.45 128.41,631.68 128.81,630.53 129.22,630.45 129.62,629.60 130.02,628.88 130.42,628.63 130.82,628.53 131.23,629.33 131.63,630.33 132.03,629.86 132.43,629.20 132.83,629.57 133.24,630.16 133.64,629.51 134.04,629.67 134.44,630.57 134.84,631.82 135.25,632.75 135.65,631.97 136.05,631.24 136.45,632.07 136.85,631.98 137.26,631.61 137.66,632.38 138.06,630.97 138.46,630.42 138.86,630.98 139.27,629.60 139.67,629.77 140.07,630.04 140.47,630.12 140.87,630.81 141.28,630.53 141.68,629.65 142.08,629.09 142.48,629.06 142.88,629.80 143.29,630.25 143.69,629.42 144.09,630.09 144.49,631.25 144.89,630.17 145.30,629.16 145.70,630.96 146.10,630.14" fill="none" stroke="#8cc63e" stroke-width="1.0" stroke-linejoin="round"/>
<polygon points="25.50,628.53 25.90,628.94 26.30,629.57 26.71,629.86 27.11,630.13 27.51,630.35 27.91,630.34 28.31,630.49 28.72,629.89 29.12,629.52 29.52,629.40 29.92,629.55 30.32,629.96 30.73,630.00 31.13,630.07 31.53,629.96 31.93,629.90 32.33,630.36 32.74,629.99 33.14,629.22 33.54,628.42 33.94,628.38 34.34,628.40 34.75,628.45 35.15,628.95 35.55,629.79 35.95,630.40 36.35,630.85 36.76,630.86 37.16,630.54 37.56,629.65 37.96,628.74 38.36,628.23 38.77,628.01 39.17,627.86 39.57,627.82 39.97,627.83 40.37,627.80 40.78,627.58 41.18,627.26 41.58,627.12 41.98,626.64 42.38,626.05 42.79,625.71 43.19,625.99 43.59,626.47 43.99,626.11 44.39,626.06 44.80,626.53 45.20,627.12 45.60,627.12 46.00,626.90 46.40,627.23 46.81,627.24 47.21,627.38 47.61,627.75 48.01,628.79 48.41,629.63 48.82,630.30 49.22,630.71 49.62,630.95 50.02,631.55 50.42,632.31 50.83,633.06 51.23,633.78 51.63,634.94 52.03,636.03 52.43,636.81 52.84,637.70 53.24,638.74 53.64,639.67 54.04,639.68 54.44,640.13 54.85,640.71 55.25,640.83 55.65,640.88 56.05,641.21 56.45,642.32 56.86,642.92 57.26,643.38 57.66,643.93 58.06,644.21 58.46,643.82 58.87,642.72 59.27,641.88 59.67,642.30 60.07,642.69 60.47,642.64 60.88,641.50 61.28,640.51 61.68,640.15 62.08,639.96 62.48,639.51 62.89,638.53 63.29,637.71 63.69,637.04 64.09,636.49 64.49,635.85 64.90,635.25 65.30,634.89 65.70,634.41 66.10,633.63 66.50,632.16 66.91,630.65 67.31,629.55 67.71,629.00 68.11,628.35 68.51,626.84 68.92,625.15 69.32,623.97 69.72,623.87 70.12,624.09 70.52,623.69 70.93,623.74 71.33,624.15 71.73,625.13 72.13,625.02 72.53,624.31 72.94,623.82 73.34,623.47 73.74,622.74 74.14,621.63 74.54,621.16 74.95,621.20 75.35,621.03 75.75,620.86 76.15,621.13 76.55,621.44 76.96,621.05 77.36,620.30 77.76,619.92 78.16,619.69 78.56,618.82 78.97,617.93 79.37,617.75 79.77,617.81 80.17,618.01 80.57,618.48 80.98,619.06 81.38,618.92 81.78,618.38 82.18,619.08 82.58,620.05 82.99,620.28 83.39,619.65 83.79,619.23 84.19,619.27 84.59,619.34 85.00,620.18 85.40,621.54 85.80,622.67 86.20,622.84 86.60,622.92 87.01,623.21 87.41,623.70 87.81,623.70 88.21,623.78 88.61,624.01 89.02,624.61 89.42,624.73 89.82,625.25 90.22,625.62 90.62,626.63 91.03,627.17 91.43,627.05 91.83,626.29 92.23,625.74 92.63,626.02 93.04,626.59 93.44,627.12 93.84,627.52 94.24,627.44 94.64,627.11 95.05,626.70 95.45,627.28 95.85,627.82 96.25,628.28 96.65,628.49 97.06,628.82 97.46,629.28 97.86,629.27 98.26,628.84 98.66,628.36 99.07,628.46 99.47,628.91 99.87,629.12 100.27,628.60 100.67,628.37 101.08,628.25 101.48,628.32 101.88,628.10 102.28,628.19 102.68,628.17 103.09,627.98 103.49,627.66 103.89,628.04 104.29,628.23 104.69,628.65 105.10,629.40 105.50,630.42 105.90,631.19 106.30,631.17 106.70,631.15 107.11,631.14 107.51,631.22 107.91,631.92 108.31,632.32 108.71,632.09 109.12,631.80 109.52,631.98 109.92,632.49 110.32,632.64 110.72,632.98 111.13,634.30 111.53,635.58 111.93,636.30 112.33,635.96 112.73,635.32 113.14,635.02 113.54,634.99 113.94,635.30 114.34,635.29 114.74,635.11 115.15,634.76 115.55,634.18 115.95,634.37 116.35,634.50 116.75,635.22 117.16,635.28 117.56,635.32 117.96,634.92 118.36,634.05 118.76,632.82 119.17,631.69 119.57,630.21 119.97,628.87 120.37,627.67 120.77,627.51 121.18,627.59 121.58,627.34 121.98,626.59 122.38,626.41 122.78,626.30 123.19,626.07 123.59,625.78 123.99,625.77 124.39,626.12 124.79,626.61 125.20,627.13 125.60,627.68 126.00,627.44 126.40,627.31 126.80,627.63 127.21,628.02 127.61,628.12 128.01,627.98 128.41,627.84 128.81,627.60 129.22,627.50 129.62,627.63 130.02,627.74 130.42,627.89 130.82,628.05 131.23,628.16 131.63,627.97 132.03,627.24 132.43,626.49 132.83,626.23 133.24,626.50 133.64,626.25 134.04,625.26 134.44,624.79 134.84,624.86 135.25,624.37 135.65,623.08 136.05,622.55 136.45,623.07 136.85,623.48 137.26,623.48 137.66,623.45 138.06,623.10 138.46,622.82 138.86,622.54 139.27,623.05 139.67,623.71 140.07,624.29 140.47,624.62 140.87,624.72 141.28,625.21 141.68,625.93 142.08,626.28 142.48,625.95 142.88,625.68 143.29,626.05 143.69,626.58 144.09,627.08 144.49,627.12 144.89,626.91 145.30,627.16 145.70,627.81 146.10,628.79 146.10,635.49 145.70,634.50 145.30,633.86 144.89,633.61 144.49,633.82 144.09,633.78 143.69,633.28 143.29,632.75 142.88,632.38 142.48,632.65 142.08,632.97 141.68,632.63 141.28,631.91 140.87,631.42 140.47,631.32 140.07,630.98 139.67,630.41 139.27,629.75 138.86,629.24 138.46,629.52 138.06,629.79 137.66,630.14 137.26,630.17 136.85,630.17 136.45,629.77 136.05,629.24 135.65,629.78 135.25,631.07 134.84,631.56 134.44,631.49 134.04,631.96 133.64,632.95 133.24,633.20 132.83,632.92 132.43,633.18 132.03,633.93 131.63,634.67 131.23,634.85 130.82,634.75 130.42,634.58 130.02,634.44 129.62,634.33 129.22,634.20 128.81,634.30 128.41,634.54 128.01,634.68 127.61,634.82 127.21,634.72 126.80,634.33 126.40,634.01 126.00,634.14 125.60,634.38 125.20,633.83 124.79,633.30 124.39,632.82 123.99,632.47 123.59,632.47 123.19,632.76 122.78,633.00 122.38,633.10 121.98,633.28 121.58,634.04 121.18,634.29 120.77,634.21 120.37,634.37 119.97,635.57 119.57,636.91 119.17,638.39 118.76,639.52 118.36,640.75 117.96,641.62 117.56,642.01 117.16,641.98 116.75,641.92 116.35,641.20 115.95,641.07 115.55,640.88 115.15,641.45 114.74,641.81 114.34,641.98 113.94,642.00 113.54,641.69 113.14,641.72 112.73,642.01 112.33,642.66 111.93,643.00 111.53,642.28 111.13,641.00 110.72,639.68 110.32,639.33 109.92,639.19 109.52,638.68 109.12,638.50 108.71,638.79 108.31,639.02 107.91,638.62 107.51,637.92 107.11,637.84 106.70,637.85 106.30,637.87 105.90,637.89 105.50,637.12 105.10,636.10 104.69,635.35 104.29,634.93 103.89,634.74 103.49,634.36 103.09,634.68 102.68,634.87 102.28,634.88 101.88,634.80 101.48,635.01 101.08,634.95 100.67,635.06 100.27,635.30 99.87,635.82 99.47,635.61 99.07,635.16 98.66,635.06 98.26,635.54 97.86,635.97 97.46,635.98 97.06,635.51 96.65,635.18 96.25,634.98 95.85,634.51 95.45,633.97 95.05,633.40 94.64,633.81 94.24,634.14 93.84,634.21 93.44,633.82 93.04,633.29 92.63,632.72 92.23,632.43 91.83,632.98 91.43,633.74 91.03,633.86 90.62,633.33 90.22,632.32 89.82,631.95 89.42,631.42 89.02,631.30 88.61,630.71 88.21,630.48 87.81,630.40 87.41,630.40 87.01,629.91 86.60,629.62 86.20,629.53 85.80,629.36 85.40,628.24 85.00,626.88 84.59,626.03 84.19,625.97 83.79,625.92 83.39,626.35 82.99,626.98 82.58,626.74 82.18,625.77 81.78,625.08 81.38,625.61 80.98,625.76 80.57,625.18 80.17,624.71 79.77,624.51 79.37,624.45 78.97,624.63 78.56,625.52 78.16,626.39 77.76,626.62 77.36,627.00 76.96,627.75 76.55,628.14 76.15,627.83 75.75,627.56 75.35,627.72 74.95,627.90 74.54,627.85 74.14,628.33 73.74,629.44 73.34,630.17 72.94,630.52 72.53,631.00 72.13,631.72 71.73,631.82 71.33,630.85 70.93,630.44 70.52,630.38 70.12,630.79 69.72,630.57 69.32,630.67 68.92,631.84 68.51,633.54 68.11,635.04 67.71,635.70 67.31,636.25 66.91,637.34 66.50,638.86 66.10,640.33 65.70,641.11 65.30,641.59 64.90,641.95 64.49,642.55 64.09,643.18 63.69,643.74 63.29,644.40 62.89,645.23 62.48,646.21 62.08,646.66 61.68,646.85 61.28,647.21 60.88,648.20 60.47,649.33 60.07,649.39 59.67,649.00 59.27,648.58 58.87,649.41 58.46,650.52 58.06,650.91 57.66,650.63 57.26,650.08 56.86,649.62 56.45,649.02 56.05,647.90 55.65,647.58 55.25,647.53 54.85,647.41 54.44,646.83 54.04,646.38 53.64,646.36 53.24,645.44 52.84,644.40 52.43,643.51 52.03,642.73 51.63,641.64 51.23,640.48 50.83,639.76 50.42,639.01 50.02,638.25 49.62,637.65 49.22,637.40 48.82,636.99 48.41,636.33 48.01,635.49 47.61,634.45 47.21,634.08 46.81,633.94 46.40,633.93 46.00,633.60 45.60,633.82 45.20,633.82 44.80,633.22 44.39,632.76 43.99,632.81 43.59,633.17 43.19,632.69 42.79,632.41 42.38,632.75 41.98,633.34 41.58,633.81 41.18,633.96 40.78,634.28 40.37,634.49 39.97,634.53 39.57,634.52 39.17,634.56 38.77,634.70 38.36,634.92 37.96,635.44 37.56,636.35 37.16,637.24 36.76,637.56 36.35,637.54 35.95,637.10 35.55,636.49 35.15,635.65 34.75,635.14 34.34,635.10 33.94,635.07 33.54,635.12 33.14,635.92 32.74,636.69 32.33,637.06 31.93,636.60 31.53,636.65 31.13,636.76 30.73,636.70 30.32,636.65 29.92,636.25 29.52,636.10 29.12,636.22 28.72,636.58 28.31,637.19 27.91,637.03 27.51,637.05 27.11,636.83 26.71,636.56 26.30,636.27 25.90,635.64 25.50,635.23" fill="rgba(154,82,173,0.42)" stroke="none"/>
<polyline points="25.50,631.53 25.90,632.58 26.30,632.75 26.71,633.43 27.11,633.45 27.51,633.55 27.91,634.10 28.31,633.40 28.72,634.02 29.12,632.28 29.52,632.31 29.92,633.65 30.32,632.75 30.73,633.51 31.13,633.79 31.53,632.94 31.93,633.18 32.33,633.64 32.74,634.30 33.14,632.07 33.54,631.35 33.94,631.88 34.34,631.95 34.75,631.42 35.15,632.02 35.55,633.48 35.95,633.93 36.35,633.85 36.76,634.80 37.16,633.99 37.56,632.89 37.96,632.12 38.36,631.26 38.77,631.36 39.17,631.45 39.57,630.82 39.97,631.23 40.37,631.49 40.78,630.72 41.18,630.58 41.58,630.52 41.98,630.29 42.38,629.17 42.79,628.75 43.19,629.26 43.59,630.01 43.99,630.18 44.39,628.20 44.80,629.86 45.20,631.56 45.60,629.98 46.00,629.86 46.40,630.90 46.81,630.97 47.21,629.90 47.61,631.33 48.01,632.07 48.41,633.02 48.82,633.84 49.22,634.08 49.62,634.25 50.02,634.57 50.42,635.88 50.83,636.54 51.23,636.81 51.63,638.05 52.03,640.02 52.43,640.08 52.84,640.37 53.24,642.70 53.64,643.20 54.04,643.14 54.44,642.76 54.85,644.55 55.25,644.87 55.65,643.11 56.05,644.69 56.45,645.86 56.86,646.45 57.26,646.50 57.66,647.25 58.06,648.09 58.46,647.35 58.87,646.08 59.27,644.77 59.67,644.84 60.07,647.34 60.47,645.94 60.88,644.67 61.28,643.94 61.68,642.97 62.08,643.59 62.48,643.37 62.89,641.62 63.29,640.66 63.69,640.89 64.09,639.61 64.49,639.00 64.90,638.98 65.30,637.80 65.70,637.93 66.10,637.55 66.50,635.45 66.91,633.54 67.31,633.00 67.71,632.16 68.11,631.90 68.51,631.03 68.92,627.65 69.32,626.80 69.72,627.50 70.12,627.37 70.52,627.45 70.93,626.29 71.33,627.53 71.73,628.69 72.13,629.21 72.53,627.20 72.94,626.55 73.34,627.77 73.74,626.14 74.14,624.38 74.54,624.42 74.95,624.72 75.35,624.51 75.75,623.89 76.15,624.21 76.55,625.33 76.96,624.82 77.36,623.05 77.76,623.08 78.16,623.68 78.56,622.37 78.97,620.47 79.37,621.01 79.77,621.82 80.17,620.64 80.57,621.62 80.98,623.22 81.38,622.39 81.78,621.18 82.18,621.62 82.58,624.47 82.99,624.10 83.39,622.32 83.79,622.59 84.19,622.81 84.59,622.46 85.00,622.78 85.40,625.35 85.80,626.53 86.20,626.16 86.60,625.86 87.01,626.78 87.41,627.03 87.81,627.34 88.21,626.77 88.61,627.29 89.02,628.02 89.42,628.55 89.82,627.65 90.22,629.59 90.62,629.67 91.03,630.67 91.43,631.20 91.83,629.31 92.23,628.39 92.63,629.55 93.04,630.16 93.44,630.10 93.84,631.14 94.24,631.35 94.64,629.88 95.05,630.16 95.45,630.12 95.85,631.60 96.25,631.78 96.65,631.50 97.06,632.22 97.46,632.77 97.86,632.89 98.26,632.19 98.66,631.48 99.07,631.44 99.47,632.50 99.87,632.83 100.27,632.08 100.67,630.94 101.08,632.12 101.48,631.73 101.88,631.15 102.28,631.48 102.68,631.98 103.09,631.09 103.49,630.92 103.89,631.02 104.29,632.23 104.69,631.49 105.10,632.28 105.50,634.48 105.90,634.54 106.30,634.59 106.70,634.41 107.11,634.49 107.51,634.57 107.91,634.66 108.31,636.58 108.71,635.78 109.12,633.97 109.52,635.70 109.92,636.32 110.32,635.50 110.72,636.14 111.13,637.35 111.53,639.45 111.93,639.99 112.33,639.51 112.73,638.43 113.14,638.05 113.54,638.64 113.94,638.33 114.34,638.98 114.74,638.60 115.15,637.80 115.55,637.91 115.95,636.88 116.35,638.36 116.75,638.30 117.16,639.04 117.56,638.55 117.96,638.41 118.36,637.84 118.76,635.94 119.17,634.72 119.57,634.46 119.97,631.52 120.37,630.68 120.77,630.86 121.18,631.04 121.58,630.93 121.98,630.09 122.38,628.78 122.78,630.39 123.19,629.78 123.59,628.07 123.99,629.53 124.39,629.76 124.79,629.13 125.20,630.98 125.60,631.33 126.00,630.77 126.40,630.26 126.80,630.94 127.21,631.74 127.61,631.43 128.01,631.24 128.41,631.32 128.81,631.02 129.22,630.51 129.62,631.02 130.02,631.41 130.42,630.84 130.82,631.45 131.23,631.90 131.63,631.16 132.03,630.89 132.43,629.70 132.83,628.92 133.24,630.11 133.64,630.53 134.04,628.16 134.44,627.14 134.84,629.12 135.25,628.37 135.65,625.67 136.05,625.24 136.45,626.78 136.85,627.23 137.26,626.47 137.66,626.77 138.06,627.15 138.46,625.41 138.86,625.96 139.27,626.30 139.67,626.94 140.07,627.94 140.47,628.02 140.87,627.95 141.28,628.23 141.68,629.51 142.08,630.10 142.48,629.27 142.88,628.54 143.29,629.27 143.69,630.38 144.09,630.12 144.49,630.79 144.89,630.50 145.30,629.49 145.70,631.54 146.10,632.44" fill="none" stroke="#9a52ad" stroke-width="1.0" stroke-linejoin="round"/>
<line x1="45.60" y1="680.24" x2="45.60" y2="584.56" stroke="#1a1a1a" stroke-width="0.9"/>
<line x1="55.65" y1="680.24" x2="55.65" y2="608.48" stroke="#777" stroke-width="0.7" stroke-dasharray="1,1.2"/>
<rect x="35.55" y="584.56" width="10.05" height="23.92" fill="none" stroke="#000" stroke-width="0.85" stroke-dasharray="0.9,1.3"/>
<rect x="45.60" y="584.56" width="10.05" height="23.92" fill="none" stroke="#000" stroke-width="0.85" stroke-dasharray="0.9,1.3"/>
<text x="42.60" y="602.90" font-size="9.4" fill="#1a1a1a" text-anchor="start" transform="translate(42.60 602.90) rotate(-90) scale(1 1.038) translate(-42.60 -602.90)">pre</text>
<text x="53.50" y="605.10" font-size="9.4" fill="#1a1a1a" text-anchor="start" transform="translate(53.50 605.10) rotate(-90) scale(1 1.038) translate(-53.50 -605.10)">stim</text>
<path d="M25.50,584.56 L25.50,680.24 L146.10,680.24" fill="none" stroke="#3a3a3a" stroke-width="0.9"/>
<line x1="25.50" y1="680.24" x2="25.50" y2="681.84" stroke="#3a3a3a" stroke-width="0.8"/>
<line x1="45.60" y1="680.24" x2="45.60" y2="681.84" stroke="#3a3a3a" stroke-width="0.8"/>
<line x1="65.70" y1="680.24" x2="65.70" y2="681.84" stroke="#3a3a3a" stroke-width="0.8"/>
<line x1="85.80" y1="680.24" x2="85.80" y2="681.84" stroke="#3a3a3a" stroke-width="0.8"/>
<line x1="105.90" y1="680.24" x2="105.90" y2="681.84" stroke="#3a3a3a" stroke-width="0.8"/>
<line x1="126.00" y1="680.24" x2="126.00" y2="681.84" stroke="#3a3a3a" stroke-width="0.8"/>
<line x1="23.90" y1="680.24" x2="25.50" y2="680.24" stroke="#3a3a3a" stroke-width="0.8"/>
<line x1="23.90" y1="656.32" x2="25.50" y2="656.32" stroke="#3a3a3a" stroke-width="0.8"/>
<line x1="23.90" y1="632.40" x2="25.50" y2="632.40" stroke="#3a3a3a" stroke-width="0.8"/>
<line x1="23.90" y1="608.48" x2="25.50" y2="608.48" stroke="#3a3a3a" stroke-width="0.8"/>
<line x1="23.90" y1="584.56" x2="25.50" y2="584.56" stroke="#3a3a3a" stroke-width="0.8"/>
<text x="25.20" y="691.54" font-size="9.5" text-anchor="middle" fill="#2a2a2a" transform="translate(25.20 691.54) scale(1 1.038) translate(-25.20 -691.54)">-2</text>
<text x="46.30" y="691.54" font-size="9.5" text-anchor="middle" fill="#2a2a2a" transform="translate(46.30 691.54) scale(1 1.038) translate(-46.30 -691.54)">0</text>
<text x="66.40" y="691.54" font-size="9.5" text-anchor="middle" fill="#2a2a2a" transform="translate(66.40 691.54) scale(1 1.038) translate(-66.40 -691.54)">2</text>
<text x="86.50" y="691.54" font-size="9.5" text-anchor="middle" fill="#2a2a2a" transform="translate(86.50 691.54) scale(1 1.038) translate(-86.50 -691.54)">4</text>
<text x="106.60" y="691.54" font-size="9.5" text-anchor="middle" fill="#2a2a2a" transform="translate(106.60 691.54) scale(1 1.038) translate(-106.60 -691.54)">6</text>
<text x="126.70" y="691.54" font-size="9.5" text-anchor="middle" fill="#2a2a2a" transform="translate(126.70 691.54) scale(1 1.038) translate(-126.70 -691.54)">8</text>
<text x="21.10" y="684.06" font-size="9.5" text-anchor="end" fill="#2a2a2a" transform="translate(21.10 684.06) scale(1 1.038) translate(-21.10 -684.06)">-4</text>
<text x="21.10" y="660.14" font-size="9.5" text-anchor="end" fill="#2a2a2a" transform="translate(21.10 660.14) scale(1 1.038) translate(-21.10 -660.14)">-2</text>
<text x="21.10" y="636.22" font-size="9.5" text-anchor="end" fill="#2a2a2a" transform="translate(21.10 636.22) scale(1 1.038) translate(-21.10 -636.22)">0</text>
<text x="21.10" y="612.30" font-size="9.5" text-anchor="end" fill="#2a2a2a" transform="translate(21.10 612.30) scale(1 1.038) translate(-21.10 -612.30)">2</text>
<text x="21.10" y="588.38" font-size="9.5" text-anchor="end" fill="#2a2a2a" transform="translate(21.10 588.38) scale(1 1.038) translate(-21.10 -588.38)">4</text>
<text x="26.10" y="579.60" font-size="9.5" fill="#8cc63e" textLength="65.7" lengthAdjust="spacingAndGlyphs" transform="translate(26.10 579.60) scale(1 1.038) translate(-26.10 -579.60)">Passive stim 1s</text>
<text x="105.50" y="579.60" font-size="9.5" fill="#9a52ad" textLength="50.4" lengthAdjust="spacingAndGlyphs" transform="translate(105.50 579.60) scale(1 1.038) translate(-105.50 -579.60)">RTPP 1s on</text>
<text x="8.80" y="638.20" font-size="9.5" text-anchor="middle" fill="#1a1a1a" textLength="30.6" lengthAdjust="spacingAndGlyphs" transform="translate(8.80 638.20) rotate(-90) scale(1 1.038) translate(-8.80 -638.20)">z score</text>
<text x="84.25" y="703.10" font-size="9.5" text-anchor="middle" fill="#1a1a1a" textLength="99.7" lengthAdjust="spacingAndGlyphs" transform="translate(84.25 703.10) scale(1 1.038) translate(-84.25 -703.10)">time from stim onset (s)</text>
<text x="170.60" y="564.50" font-size="28.9" transform="translate(170.60 564.50) scale(1 1.038) translate(-170.60 -564.50)">C</text>
<text x="190.67" y="564.50" font-size="14.8" stroke="#000" stroke-width="0.35" transform="translate(190.67 564.50) scale(1 1.038) translate(-190.67 -564.50)">2</text>
<rect x="206.20" y="582.96" width="51.30" height="96.48" fill="#b9e9ec"/>
<polygon points="185.68,628.24 186.09,628.02 186.50,627.98 186.91,627.78 187.32,627.68 187.73,627.41 188.14,627.30 188.55,626.80 188.96,626.60 189.37,627.03 189.78,627.77 190.19,627.81 190.60,627.26 191.02,626.70 191.43,626.23 191.84,626.06 192.25,625.77 192.66,625.81 193.07,626.00 193.48,626.70 193.89,627.20 194.30,627.03 194.71,627.05 195.12,627.73 195.53,628.65 195.94,629.55 196.35,630.15 196.76,630.47 197.17,630.59 197.58,630.92 197.99,630.97 198.40,630.76 198.81,630.44 199.22,630.57 199.63,630.16 200.04,629.34 200.45,628.96 200.86,629.26 201.28,629.28 201.69,628.88 202.10,628.04 202.51,627.51 202.92,627.43 203.33,627.09 203.74,626.74 204.15,626.75 204.56,627.22 204.97,627.37 205.38,626.85 205.79,626.24 206.20,626.38 206.61,626.72 207.02,627.44 207.43,627.64 207.84,627.37 208.25,627.32 208.66,628.15 209.07,629.73 209.48,631.95 209.89,634.31 210.30,636.76 210.71,638.69 211.12,639.93 211.54,640.31 211.95,639.91 212.36,639.77 212.77,640.58 213.18,641.46 213.59,641.71 214.00,641.92 214.41,643.20 214.82,644.74 215.23,645.49 215.64,645.64 216.05,645.90 216.46,646.42 216.87,646.74 217.28,646.93 217.69,647.45 218.10,647.37 218.51,647.68 218.92,648.16 219.33,648.66 219.74,648.65 220.15,648.38 220.56,649.08 220.97,649.81 221.38,649.86 221.80,649.59 222.21,649.82 222.62,650.32 223.03,649.86 223.44,648.81 223.85,648.15 224.26,648.66 224.67,649.57 225.08,650.16 225.49,650.73 225.90,651.05 226.31,651.37 226.72,651.72 227.13,652.24 227.54,652.67 227.95,652.51 228.36,652.13 228.77,652.40 229.18,652.75 229.59,653.23 230.00,653.37 230.41,652.89 230.82,652.95 231.23,652.82 231.64,652.68 232.06,651.69 232.47,650.95 232.88,651.10 233.29,651.20 233.70,650.88 234.11,650.46 234.52,650.09 234.93,650.07 235.34,649.88 235.75,650.26 236.16,650.74 236.57,651.28 236.98,651.33 237.39,651.37 237.80,651.21 238.21,651.38 238.62,651.53 239.03,651.93 239.44,652.05 239.85,651.68 240.26,651.34 240.67,651.26 241.08,651.37 241.49,651.24 241.90,650.52 242.32,649.95 242.73,649.51 243.14,649.07 243.55,648.90 243.96,649.08 244.37,650.03 244.78,650.61 245.19,650.27 245.60,649.54 246.01,648.99 246.42,648.74 246.83,648.43 247.24,648.20 247.65,648.26 248.06,648.35 248.47,648.31 248.88,647.66 249.29,647.00 249.70,646.62 250.11,646.70 250.52,646.53 250.93,645.96 251.34,645.72 251.75,645.99 252.16,646.27 252.58,646.13 252.99,645.48 253.40,645.31 253.81,645.71 254.22,646.46 254.63,646.67 255.04,646.66 255.45,646.22 255.86,646.12 256.27,646.05 256.68,645.71 257.09,645.27 257.50,644.80 257.91,644.44 258.32,644.13 258.73,643.33 259.14,642.65 259.55,641.18 259.96,638.64 260.37,635.00 260.78,630.17 261.19,624.79 261.60,618.94 262.01,613.11 262.42,607.92 262.84,603.95 263.25,601.04 263.66,598.83 264.07,596.68 264.48,594.66 264.89,593.68 265.30,593.73 265.71,594.33 266.12,594.63 266.53,594.82 266.94,595.25 267.35,595.74 267.76,596.60 268.17,597.62 268.58,598.66 268.99,599.55 269.40,599.64 269.81,599.69 270.22,600.36 270.63,602.36 271.04,604.27 271.45,605.04 271.86,605.44 272.27,606.27 272.68,607.12 273.10,607.37 273.51,607.18 273.92,607.27 274.33,607.34 274.74,607.79 275.15,608.29 275.56,608.89 275.97,609.64 276.38,609.80 276.79,610.23 277.20,610.34 277.61,610.62 278.02,610.49 278.43,610.59 278.84,611.34 279.25,611.93 279.66,612.26 280.07,612.25 280.48,612.58 280.89,613.18 281.30,613.73 281.71,614.36 282.12,614.24 282.53,613.43 282.94,612.94 283.36,612.76 283.77,612.99 284.18,613.39 284.59,613.92 285.00,614.41 285.41,614.26 285.82,614.37 286.23,614.64 286.64,615.02 287.05,615.09 287.46,615.61 287.87,615.95 288.28,615.81 288.69,615.67 289.10,615.98 289.51,616.59 289.92,616.89 290.33,616.95 290.74,616.95 291.15,616.87 291.56,617.03 291.97,617.52 292.38,617.72 292.79,617.31 293.20,617.58 293.62,618.07 294.03,618.50 294.44,618.38 294.85,618.19 295.26,618.33 295.67,618.21 296.08,618.07 296.49,618.35 296.90,618.60 297.31,618.62 297.72,619.00 298.13,619.66 298.54,620.33 298.95,620.24 299.36,619.60 299.77,619.65 300.18,619.93 300.59,620.56 301.00,620.81 301.41,620.55 301.82,620.33 302.23,620.31 302.64,619.40 303.05,618.12 303.46,617.16 303.88,617.37 304.29,617.90 304.70,617.89 305.11,617.56 305.52,617.50 305.93,617.70 306.34,617.82 306.75,617.78 307.16,617.76 307.57,617.76 307.98,617.19 308.39,616.71 308.80,616.57 308.80,623.33 308.39,623.47 307.98,623.94 307.57,624.51 307.16,624.51 306.75,624.53 306.34,624.57 305.93,624.45 305.52,624.26 305.11,624.32 304.70,624.65 304.29,624.65 303.88,624.13 303.46,623.91 303.05,624.88 302.64,626.15 302.23,627.07 301.82,627.09 301.41,627.30 301.00,627.57 300.59,627.32 300.18,626.69 299.77,626.40 299.36,626.35 298.95,627.00 298.54,627.09 298.13,626.42 297.72,625.75 297.31,625.37 296.90,625.36 296.49,625.10 296.08,624.83 295.67,624.96 295.26,625.09 294.85,624.95 294.44,625.14 294.03,625.26 293.62,624.82 293.20,624.33 292.79,624.06 292.38,624.47 291.97,624.28 291.56,623.79 291.15,623.63 290.74,623.70 290.33,623.71 289.92,623.65 289.51,623.34 289.10,622.74 288.69,622.42 288.28,622.57 287.87,622.71 287.46,622.36 287.05,621.85 286.64,621.77 286.23,621.40 285.82,621.13 285.41,621.01 285.00,621.16 284.59,620.67 284.18,620.14 283.77,619.75 283.36,619.51 282.94,619.69 282.53,620.18 282.12,620.99 281.71,621.11 281.30,620.48 280.89,619.93 280.48,619.33 280.07,619.00 279.66,619.01 279.25,618.68 278.84,618.09 278.43,617.34 278.02,617.25 277.61,617.37 277.20,617.10 276.79,616.99 276.38,616.55 275.97,616.40 275.56,615.64 275.15,615.05 274.74,614.54 274.33,614.09 273.92,614.03 273.51,613.94 273.10,614.12 272.68,613.87 272.27,613.02 271.86,612.19 271.45,611.79 271.04,611.02 270.63,609.11 270.22,607.11 269.81,606.45 269.40,606.39 268.99,606.31 268.58,605.41 268.17,604.37 267.76,603.35 267.35,602.50 266.94,602.01 266.53,601.57 266.12,601.38 265.71,601.09 265.30,600.48 264.89,600.43 264.48,601.42 264.07,603.43 263.66,605.58 263.25,607.79 262.84,610.71 262.42,614.67 262.01,619.86 261.60,625.69 261.19,631.54 260.78,636.92 260.37,641.75 259.96,645.39 259.55,647.93 259.14,649.40 258.73,650.08 258.32,650.89 257.91,651.20 257.50,651.56 257.09,652.03 256.68,652.46 256.27,652.81 255.86,652.87 255.45,652.98 255.04,653.42 254.63,653.42 254.22,653.22 253.81,652.47 253.40,652.06 252.99,652.23 252.58,652.88 252.16,653.02 251.75,652.74 251.34,652.48 250.93,652.72 250.52,653.29 250.11,653.46 249.70,653.37 249.29,653.75 248.88,654.42 248.47,655.06 248.06,655.10 247.65,655.02 247.24,654.96 246.83,655.19 246.42,655.49 246.01,655.74 245.60,656.29 245.19,657.02 244.78,657.36 244.37,656.78 243.96,655.83 243.55,655.65 243.14,655.83 242.73,656.26 242.32,656.71 241.90,657.28 241.49,657.99 241.08,658.13 240.67,658.01 240.26,658.09 239.85,658.43 239.44,658.80 239.03,658.69 238.62,658.28 238.21,658.13 237.80,657.96 237.39,658.13 236.98,658.08 236.57,658.03 236.16,657.50 235.75,657.01 235.34,656.63 234.93,656.82 234.52,656.84 234.11,657.21 233.70,657.63 233.29,657.95 232.88,657.86 232.47,657.71 232.06,658.44 231.64,659.43 231.23,659.57 230.82,659.71 230.41,659.65 230.00,660.13 229.59,659.98 229.18,659.50 228.77,659.15 228.36,658.89 227.95,659.26 227.54,659.42 227.13,659.00 226.72,658.47 226.31,658.12 225.90,657.80 225.49,657.48 225.08,656.91 224.67,656.32 224.26,655.42 223.85,654.90 223.44,655.56 223.03,656.61 222.62,657.08 222.21,656.57 221.80,656.34 221.38,656.62 220.97,656.56 220.56,655.83 220.15,655.14 219.74,655.40 219.33,655.42 218.92,654.92 218.51,654.43 218.10,654.12 217.69,654.20 217.28,653.69 216.87,653.49 216.46,653.17 216.05,652.65 215.64,652.39 215.23,652.24 214.82,651.49 214.41,649.95 214.00,648.68 213.59,648.46 213.18,648.21 212.77,647.34 212.36,646.53 211.95,646.67 211.54,647.06 211.12,646.68 210.71,645.45 210.30,643.51 209.89,641.07 209.48,638.71 209.07,636.49 208.66,634.91 208.25,634.07 207.84,634.12 207.43,634.39 207.02,634.19 206.61,633.47 206.20,633.14 205.79,633.00 205.38,633.61 204.97,634.13 204.56,633.97 204.15,633.50 203.74,633.50 203.33,633.84 202.92,634.18 202.51,634.26 202.10,634.80 201.69,635.64 201.28,636.03 200.86,636.02 200.45,635.72 200.04,636.10 199.63,636.91 199.22,637.33 198.81,637.20 198.40,637.51 197.99,637.72 197.58,637.67 197.17,637.34 196.76,637.23 196.35,636.90 195.94,636.31 195.53,635.40 195.12,634.49 194.71,633.80 194.30,633.78 193.89,633.95 193.48,633.46 193.07,632.75 192.66,632.57 192.25,632.52 191.84,632.81 191.43,632.98 191.02,633.45 190.60,634.02 190.19,634.57 189.78,634.52 189.37,633.78 188.96,633.36 188.55,633.56 188.14,634.05 187.73,634.16 187.32,634.44 186.91,634.54 186.50,634.74 186.09,634.77 185.68,634.99" fill="rgba(140,198,62,0.5)" stroke="none"/>
<polyline points="185.68,631.76 186.09,631.31 186.50,631.12 186.91,631.65 187.32,630.71 187.73,630.82 188.14,630.83 188.55,630.37 188.96,629.34 189.37,630.23 189.78,631.65 190.19,631.56 190.60,630.36 191.02,630.00 191.43,629.86 191.84,628.96 192.25,629.48 192.66,628.99 193.07,629.10 193.48,630.04 193.89,631.10 194.30,630.58 194.71,629.54 195.12,631.15 195.53,632.65 195.94,632.28 196.35,633.87 196.76,634.42 197.17,633.26 197.58,634.23 197.99,635.40 198.40,633.40 198.81,633.60 199.22,634.46 199.63,633.78 200.04,632.35 200.45,632.03 200.86,632.64 201.28,633.25 201.69,632.07 202.10,631.45 202.51,630.74 202.92,630.47 203.33,631.20 203.74,629.73 204.15,629.43 204.56,631.22 204.97,631.13 205.38,629.89 205.79,629.67 206.20,629.29 206.61,630.31 207.02,630.69 207.43,631.45 207.84,630.91 208.25,629.88 208.66,631.30 209.07,633.41 209.48,634.62 209.89,637.95 210.30,640.49 210.71,641.97 211.12,643.75 211.54,644.20 211.95,643.11 212.36,642.56 212.77,643.79 213.18,645.53 213.59,645.19 214.00,644.53 214.41,646.18 214.82,649.01 215.23,649.16 215.64,648.43 216.05,649.45 216.46,649.95 216.87,649.98 217.28,650.42 217.69,650.53 218.10,651.52 218.51,650.19 218.92,651.46 219.33,652.96 219.74,651.69 220.15,651.41 220.56,652.18 220.97,653.77 221.38,653.61 221.80,652.33 222.21,652.96 222.62,654.29 223.03,653.85 223.44,651.57 223.85,651.14 224.26,651.86 224.67,653.12 225.08,653.85 225.49,653.64 225.90,654.83 226.31,654.81 226.72,654.60 227.13,655.89 227.54,656.37 227.95,655.87 228.36,655.41 228.77,655.25 229.18,656.66 229.59,656.46 230.00,656.70 230.41,657.09 230.82,655.01 231.23,656.89 231.64,656.68 232.06,654.60 232.47,653.92 232.88,654.47 233.29,655.05 233.70,654.20 234.11,653.52 234.52,653.78 234.93,653.10 235.34,653.46 235.75,653.21 236.16,654.24 236.57,654.91 236.98,654.81 237.39,654.40 237.80,655.04 238.21,654.31 238.62,654.92 239.03,655.48 239.44,655.53 239.85,655.27 240.26,654.36 240.67,654.52 241.08,655.03 241.49,654.71 241.90,654.10 242.32,652.89 242.73,652.99 243.14,652.77 243.55,651.58 243.96,652.47 244.37,653.31 244.78,654.43 245.19,654.22 245.60,652.29 246.01,652.23 246.42,652.58 246.83,651.53 247.24,651.32 247.65,651.89 248.06,651.70 248.47,651.57 248.88,651.78 249.29,649.77 249.70,649.59 250.11,650.63 250.52,650.03 250.93,649.07 251.34,648.92 251.75,649.31 252.16,649.87 252.58,649.76 252.99,648.89 253.40,647.91 253.81,649.26 254.22,650.10 254.63,650.16 255.04,649.87 255.45,650.10 255.86,648.84 256.27,649.55 256.68,649.89 257.09,647.80 257.50,648.26 257.91,648.48 258.32,646.72 258.73,647.33 259.14,646.06 259.55,644.69 259.96,642.91 260.37,638.44 260.78,633.78 261.19,628.41 261.60,622.30 262.01,616.24 262.42,610.91 262.84,606.72 263.25,604.36 263.66,602.16 264.07,600.10 264.48,597.92 264.89,596.11 265.30,597.13 265.71,598.07 266.12,597.92 266.53,598.02 266.94,598.64 267.35,599.23 267.76,599.49 268.17,601.20 268.58,602.29 268.99,602.62 269.40,603.88 269.81,602.53 270.22,602.79 270.63,605.87 271.04,608.54 271.45,608.52 271.86,608.19 272.27,609.74 272.68,611.00 273.10,610.74 273.51,610.49 273.92,610.45 274.33,611.01 274.74,610.68 275.15,611.81 275.56,612.52 275.97,612.48 276.38,614.06 276.79,612.99 277.20,613.78 277.61,614.40 278.02,613.80 278.43,613.41 278.84,614.68 279.25,616.04 279.66,615.19 280.07,615.68 280.48,616.01 280.89,616.17 281.30,617.49 281.71,617.66 282.12,618.07 282.53,617.12 282.94,615.23 283.36,616.60 283.77,616.57 284.18,615.94 284.59,617.78 285.00,618.17 285.41,617.40 285.82,617.32 286.23,618.53 286.64,618.21 287.05,618.44 287.46,618.75 287.87,619.75 288.28,619.49 288.69,618.33 289.10,619.32 289.51,620.43 289.92,620.15 290.33,620.23 290.74,620.61 291.15,620.14 291.56,620.00 291.97,621.09 292.38,621.61 292.79,620.58 293.20,619.87 293.62,622.41 294.03,622.06 294.44,621.17 294.85,622.05 295.26,621.49 295.67,621.59 296.08,621.68 296.49,621.08 296.90,622.42 297.31,622.43 297.72,621.13 298.13,623.56 298.54,624.42 298.95,623.14 299.36,623.29 299.77,622.49 300.18,623.28 300.59,624.15 301.00,624.38 301.41,624.03 301.82,623.36 302.23,623.74 302.64,623.98 303.05,620.61 303.46,619.91 303.88,621.08 304.29,621.26 304.70,621.48 305.11,621.07 305.52,620.28 305.93,621.30 306.34,621.66 306.75,620.63 307.16,621.18 307.57,621.60 307.98,620.62 308.39,619.46 308.80,620.19" fill="none" stroke="#8cc63e" stroke-width="1.0" stroke-linejoin="round"/>
<line x1="206.20" y1="679.44" x2="206.20" y2="582.96" stroke="#1a1a1a" stroke-width="0.9"/>
<line x1="257.50" y1="679.44" x2="257.50" y2="582.96" stroke="#1a1a1a" stroke-width="0.9"/>
<rect x="195.94" y="582.96" width="10.26" height="24.12" fill="none" stroke="#000" stroke-width="0.85" stroke-dasharray="0.9,1.3"/>
<rect x="206.20" y="582.96" width="10.26" height="24.12" fill="none" stroke="#000" stroke-width="0.85" stroke-dasharray="0.9,1.3"/>
<rect x="247.24" y="582.96" width="10.26" height="24.12" fill="none" stroke="#000" stroke-width="0.85" stroke-dasharray="0.9,1.3"/>
<text x="203.60" y="602.40" font-size="9.4" fill="#1a1a1a" text-anchor="start" transform="translate(203.60 602.40) rotate(-90) scale(1 1.038) translate(-203.60 -602.40)">pre</text>
<text x="213.40" y="605.90" font-size="9.4" fill="#1a1a1a" text-anchor="start" transform="translate(213.40 605.90) rotate(-90) scale(1 1.038) translate(-213.40 -605.90)">early</text>
<text x="255.60" y="603.30" font-size="9.4" fill="#1a1a1a" text-anchor="start" transform="translate(255.60 603.30) rotate(-90) scale(1 1.038) translate(-255.60 -603.30)">late</text>
<text x="223.40" y="590.80" font-size="9.4" fill="#1a1a1a" transform="translate(223.40 590.80) scale(1 1.038) translate(-223.40 -590.80)">stim</text>
<path d="M185.68,582.96 L185.68,679.44 L308.80,679.44" fill="none" stroke="#3a3a3a" stroke-width="0.9"/>
<line x1="185.68" y1="679.44" x2="185.68" y2="681.04" stroke="#3a3a3a" stroke-width="0.8"/>
<line x1="206.20" y1="679.44" x2="206.20" y2="681.04" stroke="#3a3a3a" stroke-width="0.8"/>
<line x1="226.72" y1="679.44" x2="226.72" y2="681.04" stroke="#3a3a3a" stroke-width="0.8"/>
<line x1="247.24" y1="679.44" x2="247.24" y2="681.04" stroke="#3a3a3a" stroke-width="0.8"/>
<line x1="267.76" y1="679.44" x2="267.76" y2="681.04" stroke="#3a3a3a" stroke-width="0.8"/>
<line x1="288.28" y1="679.44" x2="288.28" y2="681.04" stroke="#3a3a3a" stroke-width="0.8"/>
<line x1="184.08" y1="679.44" x2="185.68" y2="679.44" stroke="#3a3a3a" stroke-width="0.8"/>
<line x1="184.08" y1="655.32" x2="185.68" y2="655.32" stroke="#3a3a3a" stroke-width="0.8"/>
<line x1="184.08" y1="631.20" x2="185.68" y2="631.20" stroke="#3a3a3a" stroke-width="0.8"/>
<line x1="184.08" y1="607.08" x2="185.68" y2="607.08" stroke="#3a3a3a" stroke-width="0.8"/>
<line x1="184.08" y1="582.96" x2="185.68" y2="582.96" stroke="#3a3a3a" stroke-width="0.8"/>
<text x="188.28" y="690.74" font-size="9.5" text-anchor="middle" fill="#2a2a2a" transform="translate(188.28 690.74) scale(1 1.038) translate(-188.28 -690.74)">-2</text>
<text x="210.20" y="690.74" font-size="9.5" text-anchor="middle" fill="#2a2a2a" transform="translate(210.20 690.74) scale(1 1.038) translate(-210.20 -690.74)">0</text>
<text x="229.22" y="690.74" font-size="9.5" text-anchor="middle" fill="#2a2a2a" transform="translate(229.22 690.74) scale(1 1.038) translate(-229.22 -690.74)">2</text>
<text x="249.04" y="690.74" font-size="9.5" text-anchor="middle" fill="#2a2a2a" transform="translate(249.04 690.74) scale(1 1.038) translate(-249.04 -690.74)">4</text>
<text x="269.36" y="690.74" font-size="9.5" text-anchor="middle" fill="#2a2a2a" transform="translate(269.36 690.74) scale(1 1.038) translate(-269.36 -690.74)">6</text>
<text x="289.88" y="690.74" font-size="9.5" text-anchor="middle" fill="#2a2a2a" transform="translate(289.88 690.74) scale(1 1.038) translate(-289.88 -690.74)">8</text>
<text x="181.28" y="683.26" font-size="9.5" text-anchor="end" fill="#2a2a2a" transform="translate(181.28 683.26) scale(1 1.038) translate(-181.28 -683.26)">-4</text>
<text x="181.28" y="659.14" font-size="9.5" text-anchor="end" fill="#2a2a2a" transform="translate(181.28 659.14) scale(1 1.038) translate(-181.28 -659.14)">-2</text>
<text x="181.28" y="635.02" font-size="9.5" text-anchor="end" fill="#2a2a2a" transform="translate(181.28 635.02) scale(1 1.038) translate(-181.28 -635.02)">0</text>
<text x="181.28" y="610.90" font-size="9.5" text-anchor="end" fill="#2a2a2a" transform="translate(181.28 610.90) scale(1 1.038) translate(-181.28 -610.90)">2</text>
<text x="181.28" y="586.78" font-size="9.5" text-anchor="end" fill="#2a2a2a" transform="translate(181.28 586.78) scale(1 1.038) translate(-181.28 -586.78)">4</text>
<text x="185.40" y="579.60" font-size="9.5" fill="#8cc63e" textLength="66.0" lengthAdjust="spacingAndGlyphs" transform="translate(185.40 579.60) scale(1 1.038) translate(-185.40 -579.60)">Passive stim 5s</text>
<text x="246.35" y="703.10" font-size="9.5" text-anchor="middle" fill="#1a1a1a" textLength="99.7" lengthAdjust="spacingAndGlyphs" transform="translate(246.35 703.10) scale(1 1.038) translate(-246.35 -703.10)">time from stim onset (s)</text>
<text x="368.80" y="564.60" font-size="28.9" transform="translate(368.80 564.60) scale(1 1.038) translate(-368.80 -564.60)">D</text>
<text x="388.87" y="564.60" font-size="14.8" stroke="#000" stroke-width="0.35" transform="translate(388.87 564.60) scale(1 1.038) translate(-388.87 -564.60)">1</text>
<rect x="379.20" y="584.02" width="20.40" height="95.58" fill="#e2e2e2"/>
<rect x="399.60" y="584.02" width="102.00" height="95.58" fill="url(#gD1)"/>
<polygon points="379.20,648.89 379.61,649.38 380.02,649.78 380.42,650.38 380.83,650.48 381.24,650.48 381.65,649.89 382.06,649.36 382.46,648.89 382.87,648.37 383.28,648.30 383.69,648.49 384.10,648.63 384.50,648.33 384.91,647.91 385.32,647.70 385.73,647.70 386.14,648.03 386.54,649.12 386.95,650.42 387.36,650.69 387.77,649.76 388.18,648.45 388.58,648.22 388.99,649.05 389.40,649.48 389.81,648.86 390.22,647.97 390.62,648.05 391.03,649.10 391.44,649.82 391.85,649.54 392.26,649.04 392.66,648.95 393.07,649.21 393.48,649.43 393.89,649.72 394.30,650.12 394.70,649.96 395.11,649.38 395.52,648.72 395.93,648.29 396.34,647.98 396.74,647.59 397.15,647.05 397.56,646.31 397.97,645.53 398.38,645.52 398.78,646.13 399.19,647.42 399.60,648.21 400.01,647.55 400.42,645.81 400.82,644.23 401.23,643.36 401.64,641.79 402.05,639.69 402.46,638.38 402.86,638.24 403.27,638.48 403.68,638.86 404.09,638.78 404.50,638.07 404.90,636.45 405.31,634.55 405.72,633.13 406.13,632.63 406.54,632.63 406.94,633.04 407.35,633.25 407.76,632.88 408.17,631.43 408.58,629.70 408.98,629.65 409.39,630.36 409.80,630.53 410.21,630.11 410.62,630.06 411.02,630.59 411.43,631.23 411.84,631.28 412.25,631.15 412.66,631.02 413.06,631.31 413.47,631.80 413.88,631.83 414.29,630.90 414.70,630.26 415.10,630.81 415.51,632.27 415.92,632.74 416.33,632.70 416.74,632.69 417.14,633.33 417.55,634.36 417.96,635.01 418.37,635.49 418.78,635.97 419.18,637.46 419.59,638.97 420.00,639.43 420.41,639.27 420.82,638.72 421.22,638.21 421.63,638.09 422.04,637.88 422.45,637.37 422.86,636.52 423.26,636.28 423.67,636.74 424.08,637.21 424.49,637.78 424.90,638.18 425.30,638.17 425.71,637.49 426.12,637.51 426.53,637.99 426.94,638.16 427.34,637.14 427.75,636.00 428.16,635.71 428.57,635.73 428.98,635.47 429.38,635.61 429.79,636.61 430.20,637.27 430.61,637.07 431.02,636.61 431.42,636.55 431.83,637.52 432.24,638.59 432.65,639.92 433.06,640.66 433.46,641.08 433.87,641.65 434.28,641.31 434.69,640.80 435.10,640.79 435.50,641.10 435.91,641.26 436.32,640.35 436.73,640.39 437.14,641.49 437.54,643.38 437.95,644.77 438.36,645.23 438.77,644.80 439.18,644.08 439.58,643.90 439.99,644.23 440.40,644.94 440.81,645.37 441.22,646.00 441.62,645.96 442.03,645.38 442.44,644.33 442.85,643.39 443.26,643.38 443.66,643.90 444.07,644.89 444.48,645.36 444.89,645.71 445.30,646.05 445.70,646.50 446.11,646.90 446.52,647.33 446.93,647.55 447.34,647.73 447.74,647.65 448.15,647.60 448.56,647.47 448.97,647.42 449.38,647.07 449.78,647.26 450.19,647.32 450.60,647.30 451.01,647.08 451.42,647.04 451.82,647.64 452.23,647.64 452.64,647.53 453.05,647.59 453.46,647.84 453.86,647.87 454.27,647.77 454.68,648.11 455.09,648.04 455.50,647.71 455.90,646.85 456.31,647.43 456.72,648.47 457.13,649.39 457.54,649.54 457.94,649.38 458.35,649.11 458.76,648.98 459.17,648.62 459.58,648.40 459.98,648.55 460.39,648.36 460.80,648.45 461.21,648.19 461.62,648.25 462.02,648.61 462.43,648.57 462.84,649.12 463.25,649.31 463.66,649.30 464.06,648.58 464.47,648.21 464.88,648.14 465.29,647.96 465.70,647.86 466.10,649.16 466.51,650.89 466.92,650.90 467.33,649.99 467.74,650.17 468.14,651.48 468.55,651.81 468.96,651.12 469.37,650.44 469.78,649.88 470.18,648.95 470.59,648.64 471.00,648.14 471.41,647.38 471.82,646.61 472.22,646.35 472.63,646.05 473.04,645.38 473.45,645.32 473.86,646.05 474.26,645.65 474.67,644.97 475.08,644.76 475.49,645.24 475.90,645.43 476.30,645.01 476.71,645.33 477.12,645.97 477.53,646.31 477.94,646.67 478.34,646.66 478.75,646.10 479.16,645.32 479.57,645.17 479.98,646.30 480.38,647.33 480.79,647.45 481.20,646.05 481.61,644.41 482.02,643.53 482.42,643.34 482.83,643.57 483.24,643.74 483.65,643.67 484.06,642.94 484.46,642.46 484.87,642.63 485.28,643.09 485.69,643.07 486.10,642.53 486.50,642.96 486.91,644.07 487.32,645.82 487.73,645.99 488.14,645.02 488.54,644.79 488.95,644.73 489.36,645.13 489.77,645.05 490.18,645.18 490.58,645.16 490.99,645.21 491.40,645.89 491.81,646.02 492.22,645.38 492.62,644.72 493.03,644.77 493.44,645.51 493.85,646.72 494.26,648.24 494.66,648.17 495.07,647.02 495.48,646.18 495.89,646.24 496.30,645.87 496.70,645.00 497.11,644.74 497.52,644.54 497.93,643.95 498.34,643.69 498.74,643.65 499.15,643.88 499.56,643.58 499.97,643.45 500.38,643.04 500.78,642.60 501.19,642.60 501.60,642.96 501.60,648.90 501.19,648.54 500.78,648.54 500.38,648.98 499.97,649.39 499.56,649.52 499.15,649.82 498.74,649.59 498.34,649.63 497.93,649.89 497.52,650.48 497.11,650.68 496.70,650.94 496.30,651.81 495.89,652.18 495.48,652.12 495.07,652.96 494.66,654.11 494.26,654.18 493.85,652.66 493.44,651.45 493.03,650.71 492.62,650.66 492.22,651.32 491.81,651.96 491.40,651.83 490.99,651.15 490.58,651.10 490.18,651.12 489.77,650.99 489.36,651.07 488.95,650.67 488.54,650.73 488.14,650.96 487.73,651.93 487.32,651.76 486.91,650.01 486.50,648.90 486.10,648.47 485.69,649.01 485.28,649.03 484.87,648.57 484.46,648.40 484.06,648.88 483.65,649.61 483.24,649.68 482.83,649.51 482.42,649.28 482.02,649.47 481.61,650.35 481.20,651.99 480.79,653.39 480.38,653.27 479.98,652.24 479.57,651.11 479.16,651.26 478.75,652.04 478.34,652.60 477.94,652.61 477.53,652.25 477.12,651.91 476.71,651.27 476.30,650.95 475.90,651.37 475.49,651.18 475.08,650.70 474.67,650.91 474.26,651.59 473.86,651.99 473.45,651.26 473.04,651.32 472.63,651.99 472.22,652.29 471.82,652.55 471.41,653.32 471.00,654.08 470.59,654.58 470.18,654.89 469.78,655.82 469.37,656.38 468.96,657.06 468.55,657.75 468.14,657.42 467.74,656.11 467.33,655.93 466.92,656.84 466.51,656.83 466.10,655.10 465.70,653.80 465.29,653.90 464.88,654.08 464.47,654.15 464.06,654.52 463.66,655.24 463.25,655.25 462.84,655.06 462.43,654.51 462.02,654.55 461.62,654.19 461.21,654.13 460.80,654.39 460.39,654.30 459.98,654.49 459.58,654.34 459.17,654.56 458.76,654.92 458.35,655.05 457.94,655.32 457.54,655.48 457.13,655.33 456.72,654.41 456.31,653.37 455.90,652.79 455.50,653.65 455.09,653.98 454.68,654.05 454.27,653.71 453.86,653.81 453.46,653.78 453.05,653.53 452.64,653.47 452.23,653.58 451.82,653.58 451.42,652.98 451.01,653.02 450.60,653.24 450.19,653.26 449.78,653.20 449.38,653.01 448.97,653.36 448.56,653.41 448.15,653.54 447.74,653.59 447.34,653.67 446.93,653.49 446.52,653.27 446.11,652.84 445.70,652.44 445.30,651.99 444.89,651.65 444.48,651.30 444.07,650.83 443.66,649.84 443.26,649.32 442.85,649.33 442.44,650.27 442.03,651.32 441.62,651.90 441.22,651.94 440.81,651.31 440.40,650.88 439.99,650.17 439.58,649.84 439.18,650.02 438.77,650.74 438.36,651.17 437.95,650.71 437.54,649.32 437.14,647.43 436.73,646.33 436.32,646.29 435.91,647.20 435.50,647.04 435.10,646.73 434.69,646.74 434.28,647.25 433.87,647.59 433.46,647.02 433.06,646.60 432.65,645.86 432.24,644.53 431.83,643.46 431.42,642.49 431.02,642.55 430.61,643.01 430.20,643.21 429.79,642.55 429.38,641.55 428.98,641.41 428.57,641.67 428.16,641.65 427.75,641.94 427.34,643.08 426.94,644.10 426.53,643.93 426.12,643.45 425.71,643.43 425.30,644.11 424.90,644.12 424.49,643.72 424.08,643.15 423.67,642.68 423.26,642.22 422.86,642.46 422.45,643.31 422.04,643.82 421.63,644.03 421.22,644.15 420.82,644.66 420.41,645.21 420.00,645.37 419.59,644.91 419.18,643.40 418.78,641.91 418.37,641.43 417.96,640.95 417.55,640.30 417.14,639.27 416.74,638.63 416.33,638.64 415.92,638.68 415.51,638.21 415.10,636.75 414.70,636.20 414.29,636.84 413.88,637.77 413.47,637.74 413.06,637.25 412.66,636.96 412.25,637.09 411.84,637.22 411.43,637.17 411.02,636.53 410.62,636.00 410.21,636.05 409.80,636.47 409.39,636.30 408.98,635.59 408.58,635.64 408.17,637.37 407.76,638.82 407.35,639.19 406.94,638.98 406.54,638.57 406.13,638.57 405.72,639.07 405.31,640.49 404.90,642.39 404.50,644.01 404.09,644.72 403.68,644.80 403.27,644.42 402.86,644.18 402.46,644.32 402.05,645.63 401.64,647.73 401.23,649.30 400.82,650.17 400.42,651.75 400.01,653.49 399.60,654.15 399.19,653.36 398.78,652.07 398.38,651.46 397.97,651.47 397.56,652.25 397.15,652.99 396.74,653.53 396.34,653.92 395.93,654.23 395.52,654.66 395.11,655.32 394.70,655.90 394.30,656.06 393.89,655.66 393.48,655.37 393.07,655.15 392.66,654.89 392.26,654.98 391.85,655.48 391.44,655.76 391.03,655.04 390.62,653.99 390.22,653.91 389.81,654.80 389.40,655.42 388.99,654.99 388.58,654.16 388.18,654.39 387.77,655.70 387.36,656.63 386.95,656.36 386.54,655.06 386.14,653.97 385.73,653.64 385.32,653.64 384.91,653.85 384.50,654.27 384.10,654.57 383.69,654.43 383.28,654.24 382.87,654.31 382.46,654.83 382.06,655.30 381.65,655.83 381.24,656.42 380.83,656.42 380.42,656.32 380.02,655.72 379.61,655.32 379.20,654.83" fill="rgba(140,198,62,0.5)" stroke="none"/>
<polyline points="379.20,651.60 379.61,652.38 380.02,653.06 380.42,652.80 380.83,654.18 381.24,653.38 381.65,652.81 382.06,652.39 382.46,651.78 382.87,651.40 383.28,650.84 383.69,651.56 384.10,651.99 384.50,651.25 384.91,650.66 385.32,650.72 385.73,650.63 386.14,650.65 386.54,651.72 386.95,653.89 387.36,654.55 387.77,652.54 388.18,651.09 388.58,650.61 388.99,651.87 389.40,653.58 389.81,651.89 390.22,650.04 390.62,650.89 391.03,652.14 391.44,653.17 391.85,653.06 392.26,651.30 392.66,651.68 393.07,652.79 393.48,652.07 393.89,652.36 394.30,653.65 394.70,653.27 395.11,651.87 395.52,651.92 395.93,651.29 396.34,650.56 396.74,651.00 397.15,650.10 397.56,648.95 397.97,648.80 398.38,647.76 398.78,648.92 399.19,650.62 399.60,651.64 400.01,651.28 400.42,648.63 400.82,646.42 401.23,646.55 401.64,646.02 402.05,641.70 402.46,640.26 402.86,642.09 403.27,641.27 403.68,640.99 404.09,643.23 404.50,641.03 404.90,638.87 405.31,638.36 405.72,635.31 406.13,634.62 406.54,636.87 406.94,635.30 407.35,635.87 407.76,637.49 408.17,634.21 408.58,631.50 408.98,632.30 409.39,634.07 409.80,633.63 410.21,632.79 410.62,632.83 411.02,633.47 411.43,634.38 411.84,634.76 412.25,633.62 412.66,633.98 413.06,634.36 413.47,634.50 413.88,635.44 414.29,634.45 414.70,631.70 415.10,633.52 415.51,636.12 415.92,636.07 416.33,634.93 416.74,636.01 417.14,636.06 417.55,636.85 417.96,639.08 418.37,638.01 418.78,638.28 419.18,640.53 419.59,642.49 420.00,642.81 420.41,641.89 420.82,642.03 421.22,641.14 421.63,640.38 422.04,641.66 422.45,640.52 422.86,638.85 423.26,639.12 423.67,639.78 424.08,640.24 424.49,640.53 424.90,641.49 425.30,641.42 425.71,640.52 426.12,639.46 426.53,641.45 426.94,641.97 427.34,639.96 427.75,638.39 428.16,638.55 428.57,639.11 428.98,638.45 429.38,637.78 429.79,639.52 430.20,641.44 430.61,639.75 431.02,638.92 431.42,640.08 431.83,639.56 432.24,641.83 432.65,643.29 433.06,643.55 433.46,644.06 433.87,644.53 434.28,645.26 434.69,643.04 435.10,643.00 435.50,645.23 435.91,643.98 436.32,643.48 436.73,642.50 437.14,644.09 437.54,646.81 437.95,648.15 438.36,648.27 438.77,648.19 439.18,646.84 439.58,646.11 439.99,647.67 440.40,647.83 440.81,648.24 441.22,648.96 441.62,649.70 442.03,648.11 442.44,647.22 442.85,646.57 443.26,645.28 443.66,647.21 444.07,648.13 444.48,648.25 444.89,648.61 445.30,649.18 445.70,649.28 446.11,649.96 446.52,650.37 446.93,650.58 447.34,650.62 447.74,650.90 448.15,650.33 448.56,650.47 448.97,650.50 449.38,650.19 449.78,649.43 450.19,651.09 450.60,650.34 451.01,649.37 451.42,650.43 451.82,650.22 452.23,651.18 452.64,650.42 453.05,649.92 453.46,651.33 453.86,651.19 454.27,649.99 454.68,651.03 455.09,652.22 455.50,649.79 455.90,650.03 456.31,649.64 456.72,651.54 457.13,653.14 457.54,652.40 457.94,652.00 458.35,652.66 458.76,651.58 459.17,651.62 459.58,651.56 459.98,650.93 460.39,652.07 460.80,651.01 461.21,651.19 461.62,651.29 462.02,651.18 462.43,652.26 462.84,651.19 463.25,652.83 463.66,652.82 464.06,651.16 464.47,650.67 464.88,651.71 465.29,650.93 465.70,650.13 466.10,651.41 466.51,654.84 466.92,655.32 467.33,651.46 467.74,652.10 468.14,655.87 468.55,655.38 468.96,653.08 469.37,653.81 469.78,653.34 470.18,651.39 470.59,651.03 471.00,652.39 471.41,649.90 471.82,648.75 472.22,650.09 472.63,649.11 473.04,647.87 473.45,648.07 473.86,648.92 474.26,650.07 474.67,646.86 475.08,646.90 475.49,649.42 475.90,648.32 476.30,647.47 476.71,648.14 477.12,649.28 477.53,649.40 477.94,649.16 478.34,650.36 478.75,649.36 479.16,647.48 479.57,648.03 479.98,648.91 480.38,650.87 480.79,651.13 481.20,649.27 481.61,646.66 482.02,646.21 482.42,646.63 482.83,646.10 483.24,646.88 483.65,647.15 484.06,645.90 484.46,644.67 484.87,645.72 485.28,646.41 485.69,646.05 486.10,645.68 486.50,644.76 486.91,647.36 487.32,649.00 487.73,649.99 488.14,647.87 488.54,646.11 488.95,649.30 489.36,647.68 489.77,647.32 490.18,649.06 490.58,648.07 490.99,647.26 491.40,649.21 491.81,650.10 492.22,647.67 492.62,647.29 493.03,648.10 493.44,647.84 493.85,649.50 494.26,651.72 494.66,652.40 495.07,649.31 495.48,648.27 495.89,649.86 496.30,649.49 496.70,647.18 497.11,647.24 497.52,648.72 497.93,646.57 498.34,645.48 498.74,647.94 499.15,646.44 499.56,646.17 499.97,647.06 500.38,646.02 500.78,644.94 501.19,645.75 501.60,646.02" fill="none" stroke="#8cc63e" stroke-width="1.0" stroke-linejoin="round"/>
<polygon points="379.20,649.64 379.61,649.83 380.02,650.38 380.42,650.76 380.83,651.47 381.24,652.11 381.65,652.63 382.06,652.53 382.46,652.10 382.87,651.83 383.28,651.28 383.69,650.58 384.10,650.20 384.50,650.62 384.91,651.19 385.32,651.53 385.73,651.13 386.14,650.40 386.54,649.98 386.95,650.28 387.36,651.36 387.77,651.87 388.18,651.92 388.58,651.48 388.99,651.40 389.40,651.95 389.81,651.77 390.22,650.91 390.62,649.65 391.03,650.09 391.44,651.76 391.85,653.20 392.26,653.78 392.66,653.11 393.07,652.26 393.48,651.46 393.89,651.06 394.30,651.02 394.70,649.87 395.11,648.55 395.52,648.08 395.93,648.37 396.34,649.06 396.74,649.05 397.15,648.59 397.56,648.14 397.97,647.81 398.38,647.95 398.78,646.94 399.19,644.50 399.60,642.06 400.01,640.05 400.42,638.99 400.82,638.19 401.23,636.88 401.64,635.15 402.05,633.01 402.46,631.69 402.86,630.65 403.27,629.94 403.68,630.19 404.09,630.88 404.50,631.36 404.90,630.55 405.31,629.66 405.72,629.55 406.13,629.30 406.54,628.64 406.94,627.18 407.35,626.45 407.76,627.19 408.17,627.75 408.58,628.00 408.98,627.76 409.39,628.39 409.80,629.54 410.21,629.66 410.62,628.98 411.02,628.74 411.43,629.13 411.84,630.17 412.25,630.99 412.66,631.60 413.06,631.69 413.47,631.10 413.88,630.78 414.29,631.96 414.70,633.08 415.10,633.72 415.51,633.63 415.92,634.69 416.33,635.69 416.74,636.40 417.14,637.24 417.55,637.65 417.96,638.01 418.37,637.68 418.78,637.77 419.18,637.84 419.59,638.33 420.00,639.15 420.41,639.56 420.82,638.56 421.22,637.52 421.63,636.49 422.04,636.27 422.45,635.58 422.86,634.30 423.26,632.86 423.67,632.47 424.08,632.75 424.49,633.03 424.90,633.39 425.30,634.48 425.71,635.90 426.12,636.96 426.53,636.92 426.94,636.64 427.34,636.42 427.75,637.00 428.16,637.75 428.57,638.02 428.98,638.39 429.38,638.66 429.79,638.93 430.20,638.49 430.61,638.20 431.02,638.51 431.42,638.99 431.83,638.96 432.24,639.52 432.65,640.35 433.06,641.10 433.46,641.17 433.87,641.00 434.28,641.24 434.69,641.73 435.10,642.66 435.50,643.71 435.91,644.53 436.32,645.33 436.73,645.88 437.14,646.09 437.54,645.78 437.95,645.80 438.36,645.93 438.77,646.09 439.18,646.00 439.58,645.43 439.99,644.72 440.40,644.82 440.81,645.07 441.22,645.67 441.62,645.72 442.03,645.48 442.44,644.86 442.85,644.92 443.26,645.50 443.66,646.35 444.07,646.40 444.48,646.44 444.89,647.24 445.30,649.21 445.70,651.14 446.11,651.87 446.52,651.42 446.93,650.09 447.34,648.92 447.74,648.18 448.15,648.50 448.56,649.21 448.97,649.41 449.38,649.93 449.78,650.37 450.19,650.52 450.60,650.39 451.01,649.96 451.42,649.28 451.82,649.23 452.23,650.37 452.64,651.31 453.05,650.50 453.46,648.97 453.86,648.62 454.27,649.73 454.68,650.38 455.09,650.71 455.50,650.51 455.90,650.41 456.31,649.98 456.72,649.89 457.13,650.59 457.54,651.39 457.94,651.72 458.35,651.65 458.76,651.75 459.17,651.87 459.58,651.68 459.98,651.19 460.39,650.49 460.80,650.23 461.21,650.31 461.62,651.02 462.02,651.12 462.43,650.78 462.84,650.44 463.25,650.35 463.66,650.48 464.06,650.52 464.47,651.05 464.88,651.41 465.29,650.73 465.70,649.85 466.10,649.35 466.51,649.72 466.92,649.60 467.33,649.43 467.74,649.39 468.14,649.88 468.55,650.29 468.96,650.50 469.37,650.35 469.78,650.39 470.18,650.14 470.59,649.93 471.00,649.16 471.41,648.74 471.82,649.01 472.22,649.88 472.63,650.05 473.04,649.21 473.45,648.47 473.86,648.04 474.26,648.06 474.67,648.29 475.08,648.25 475.49,647.78 475.90,646.92 476.30,646.32 476.71,645.59 477.12,645.23 477.53,645.13 477.94,645.55 478.34,645.59 478.75,645.29 479.16,644.68 479.57,644.07 479.98,644.18 480.38,645.10 480.79,646.37 481.20,646.90 481.61,646.77 482.02,646.40 482.42,645.67 482.83,644.93 483.24,644.44 483.65,644.63 484.06,644.87 484.46,644.44 484.87,644.39 485.28,645.15 485.69,646.40 486.10,647.03 486.50,646.11 486.91,645.12 487.32,644.86 487.73,645.05 488.14,644.83 488.54,644.63 488.95,645.68 489.36,646.26 489.77,646.01 490.18,645.86 490.58,645.92 490.99,646.26 491.40,646.44 491.81,647.70 492.22,648.67 492.62,648.59 493.03,648.27 493.44,647.87 493.85,647.67 494.26,646.92 494.66,646.89 495.07,647.67 495.48,648.48 495.89,648.57 496.30,648.02 496.70,648.23 497.11,649.28 497.52,650.38 497.93,650.60 498.34,650.41 498.74,650.10 499.15,650.22 499.56,650.67 499.97,651.62 500.38,653.46 500.78,655.03 501.19,655.27 501.60,654.55 501.60,660.49 501.19,661.21 500.78,660.97 500.38,659.40 499.97,657.56 499.56,656.61 499.15,656.16 498.74,656.04 498.34,656.35 497.93,656.54 497.52,656.32 497.11,655.22 496.70,654.17 496.30,653.96 495.89,654.51 495.48,654.42 495.07,653.61 494.66,652.83 494.26,652.86 493.85,653.61 493.44,653.81 493.03,654.21 492.62,654.53 492.22,654.61 491.81,653.64 491.40,652.38 490.99,652.20 490.58,651.86 490.18,651.80 489.77,651.95 489.36,652.20 488.95,651.62 488.54,650.57 488.14,650.77 487.73,650.99 487.32,650.80 486.91,651.06 486.50,652.05 486.10,652.97 485.69,652.34 485.28,651.09 484.87,650.33 484.46,650.38 484.06,650.81 483.65,650.57 483.24,650.38 482.83,650.87 482.42,651.61 482.02,652.34 481.61,652.71 481.20,652.84 480.79,652.31 480.38,651.04 479.98,650.12 479.57,650.01 479.16,650.62 478.75,651.23 478.34,651.53 477.94,651.49 477.53,651.07 477.12,651.17 476.71,651.53 476.30,652.26 475.90,652.86 475.49,653.72 475.08,654.19 474.67,654.23 474.26,654.00 473.86,653.98 473.45,654.41 473.04,655.15 472.63,655.99 472.22,655.82 471.82,654.95 471.41,654.68 471.00,655.10 470.59,655.87 470.18,656.08 469.78,656.33 469.37,656.29 468.96,656.44 468.55,656.23 468.14,655.82 467.74,655.33 467.33,655.37 466.92,655.54 466.51,655.66 466.10,655.29 465.70,655.79 465.29,656.67 464.88,657.35 464.47,656.99 464.06,656.46 463.66,656.42 463.25,656.29 462.84,656.38 462.43,656.72 462.02,657.06 461.62,656.96 461.21,656.25 460.80,656.17 460.39,656.43 459.98,657.13 459.58,657.62 459.17,657.81 458.76,657.69 458.35,657.59 457.94,657.66 457.54,657.33 457.13,656.53 456.72,655.83 456.31,655.92 455.90,656.35 455.50,656.45 455.09,656.65 454.68,656.32 454.27,655.67 453.86,654.56 453.46,654.91 453.05,656.44 452.64,657.25 452.23,656.31 451.82,655.17 451.42,655.22 451.01,655.90 450.60,656.33 450.19,656.46 449.78,656.31 449.38,655.87 448.97,655.35 448.56,655.15 448.15,654.44 447.74,654.12 447.34,654.86 446.93,656.03 446.52,657.36 446.11,657.81 445.70,657.08 445.30,655.15 444.89,653.18 444.48,652.38 444.07,652.34 443.66,652.29 443.26,651.44 442.85,650.86 442.44,650.80 442.03,651.42 441.62,651.66 441.22,651.61 440.81,651.01 440.40,650.76 439.99,650.66 439.58,651.37 439.18,651.94 438.77,652.03 438.36,651.87 437.95,651.74 437.54,651.72 437.14,652.03 436.73,651.82 436.32,651.27 435.91,650.47 435.50,649.65 435.10,648.60 434.69,647.67 434.28,647.18 433.87,646.94 433.46,647.11 433.06,647.04 432.65,646.29 432.24,645.46 431.83,644.90 431.42,644.93 431.02,644.45 430.61,644.14 430.20,644.43 429.79,644.87 429.38,644.60 428.98,644.33 428.57,643.96 428.16,643.69 427.75,642.94 427.34,642.36 426.94,642.58 426.53,642.86 426.12,642.90 425.71,641.84 425.30,640.42 424.90,639.33 424.49,638.97 424.08,638.69 423.67,638.41 423.26,638.80 422.86,640.24 422.45,641.52 422.04,642.21 421.63,642.43 421.22,643.46 420.82,644.50 420.41,645.50 420.00,645.09 419.59,644.27 419.18,643.78 418.78,643.71 418.37,643.62 417.96,643.95 417.55,643.59 417.14,643.18 416.74,642.34 416.33,641.63 415.92,640.63 415.51,639.57 415.10,639.66 414.70,639.02 414.29,637.90 413.88,636.72 413.47,637.04 413.06,637.63 412.66,637.54 412.25,636.93 411.84,636.11 411.43,635.07 411.02,634.68 410.62,634.92 410.21,635.60 409.80,635.48 409.39,634.33 408.98,633.70 408.58,633.94 408.17,633.69 407.76,633.13 407.35,632.39 406.94,633.12 406.54,634.58 406.13,635.24 405.72,635.49 405.31,635.60 404.90,636.49 404.50,637.30 404.09,636.82 403.68,636.13 403.27,635.88 402.86,636.59 402.46,637.63 402.05,638.95 401.64,641.09 401.23,642.82 400.82,644.13 400.42,644.93 400.01,645.99 399.60,648.00 399.19,650.44 398.78,652.88 398.38,653.89 397.97,653.75 397.56,654.08 397.15,654.53 396.74,654.99 396.34,655.00 395.93,654.31 395.52,654.02 395.11,654.49 394.70,655.81 394.30,656.96 393.89,657.00 393.48,657.40 393.07,658.20 392.66,659.05 392.26,659.72 391.85,659.14 391.44,657.70 391.03,656.03 390.62,655.59 390.22,656.85 389.81,657.71 389.40,657.89 388.99,657.34 388.58,657.42 388.18,657.86 387.77,657.81 387.36,657.30 386.95,656.22 386.54,655.92 386.14,656.34 385.73,657.07 385.32,657.47 384.91,657.13 384.50,656.56 384.10,656.14 383.69,656.52 383.28,657.22 382.87,657.77 382.46,658.04 382.06,658.47 381.65,658.57 381.24,658.05 380.83,657.41 380.42,656.70 380.02,656.32 379.61,655.77 379.20,655.58" fill="rgba(154,82,173,0.42)" stroke="none"/>
<polyline points="379.20,652.57 379.61,652.68 380.02,653.15 380.42,654.21 380.83,653.85 381.24,655.28 381.65,656.10 382.06,655.42 382.46,654.98 382.87,654.82 383.28,654.61 383.69,653.33 384.10,652.72 384.50,653.46 384.91,654.60 385.32,654.43 385.73,654.48 386.14,653.39 386.54,652.24 386.95,653.22 387.36,654.29 387.77,655.46 388.18,654.77 388.58,654.43 388.99,654.13 389.40,654.55 389.81,656.09 390.22,653.57 390.62,651.96 391.03,652.31 391.44,654.92 391.85,656.95 392.26,656.63 392.66,656.68 393.07,654.93 393.48,654.07 393.89,654.29 394.30,653.75 394.70,653.92 395.11,650.84 395.52,649.79 395.93,652.51 396.34,651.73 396.74,651.85 397.15,652.47 397.56,650.36 397.97,650.49 398.38,651.48 398.78,650.78 399.19,647.47 399.60,644.14 400.01,643.46 400.42,641.46 400.82,640.94 401.23,641.07 401.64,637.55 402.05,635.74 402.46,634.66 402.86,633.57 403.27,632.63 403.68,632.53 404.09,634.33 404.50,634.70 404.90,633.94 405.31,631.91 405.72,632.04 406.13,633.62 406.54,631.14 406.94,630.06 407.35,629.24 407.76,628.95 408.17,632.28 408.58,630.93 408.98,629.71 409.39,631.54 409.80,632.84 410.21,633.14 410.62,631.91 411.02,630.81 411.43,632.41 411.84,633.09 412.25,633.92 412.66,634.87 413.06,634.91 413.47,634.18 413.88,633.12 414.29,633.95 414.70,637.71 415.10,636.47 415.51,635.88 415.92,637.45 416.33,639.66 416.74,638.86 417.14,639.59 417.55,642.17 417.96,640.10 418.37,640.66 418.78,641.19 419.18,640.36 419.59,640.87 420.00,642.67 420.41,642.81 420.82,642.12 421.22,639.66 421.63,639.69 422.04,639.02 422.45,639.01 422.86,637.61 423.26,635.19 423.67,634.70 424.08,636.42 424.49,636.05 424.90,635.54 425.30,637.49 425.71,639.34 426.12,639.79 426.53,640.66 426.94,639.21 427.34,638.96 427.75,640.00 428.16,640.95 428.57,641.21 428.98,640.82 429.38,642.04 429.79,642.03 430.20,641.64 430.61,640.72 431.02,641.14 431.42,642.57 431.83,642.17 432.24,641.04 432.65,644.25 433.06,644.68 433.46,643.27 433.87,644.45 434.28,644.19 434.69,643.98 435.10,645.92 435.50,646.98 435.91,647.13 436.32,648.39 436.73,649.38 437.14,648.77 437.54,649.02 437.95,648.46 438.36,648.85 438.77,649.40 439.18,648.93 439.58,648.57 439.99,647.70 440.40,646.80 440.81,648.88 441.22,648.45 441.62,648.59 442.03,649.02 442.44,647.75 442.85,646.73 443.26,649.18 443.66,649.52 444.07,649.26 444.48,649.33 444.89,649.64 445.30,651.65 445.70,655.24 446.11,655.42 446.52,653.85 446.93,653.90 447.34,651.41 447.74,650.35 448.15,651.70 448.56,652.37 448.97,652.48 449.38,652.29 449.78,653.94 450.19,653.79 450.60,652.76 451.01,653.55 451.42,652.47 451.82,650.74 452.23,653.41 452.64,655.87 453.05,653.55 453.46,651.00 453.86,651.27 454.27,652.49 454.68,654.34 455.09,653.22 455.50,653.47 455.90,653.76 456.31,652.91 456.72,652.18 457.13,653.50 457.54,655.02 457.94,654.56 458.35,654.50 458.76,654.80 459.17,654.86 459.58,654.85 459.98,654.23 460.39,653.40 460.80,652.75 461.21,653.45 461.62,653.63 462.02,654.89 462.43,653.74 462.84,652.61 463.25,653.87 463.66,653.49 464.06,652.99 464.47,653.98 464.88,655.10 465.29,654.05 465.70,651.94 466.10,652.48 466.51,652.53 466.92,653.07 467.33,652.11 467.74,652.02 468.14,652.95 468.55,653.59 468.96,653.25 469.37,653.56 469.78,653.15 470.18,653.37 470.59,652.82 471.00,652.51 471.41,651.06 471.82,651.55 472.22,653.33 472.63,653.68 473.04,652.07 473.45,650.81 473.86,651.46 474.26,650.77 474.67,650.87 475.08,652.13 475.49,650.65 475.90,649.47 476.30,649.56 476.71,648.86 477.12,647.27 477.53,648.46 477.94,648.58 478.34,648.53 478.75,648.58 479.16,647.66 479.57,646.73 479.98,646.73 480.38,647.99 480.79,649.50 481.20,650.53 481.61,649.57 482.02,649.13 482.42,649.42 482.83,647.38 483.24,646.90 483.65,647.94 484.06,647.97 484.46,647.63 484.87,646.62 485.28,647.82 485.69,649.93 486.10,650.37 486.50,649.71 486.91,647.17 487.32,647.40 487.73,648.94 488.14,647.73 488.54,646.73 488.95,648.32 489.36,650.88 489.77,648.50 490.18,647.55 490.58,650.45 490.99,648.67 491.40,648.57 491.81,650.99 492.22,652.44 492.62,651.47 493.03,650.76 493.44,651.49 493.85,650.27 494.26,650.16 494.66,649.26 495.07,650.16 495.48,652.49 495.89,651.69 496.30,650.43 496.70,650.86 497.11,652.33 497.52,653.58 497.93,654.14 498.34,653.00 498.74,652.99 499.15,653.21 499.56,653.38 499.97,654.32 500.38,656.05 500.78,658.91 501.19,659.04 501.60,656.76" fill="none" stroke="#9a52ad" stroke-width="1.0" stroke-linejoin="round"/>
<line x1="399.60" y1="679.60" x2="399.60" y2="584.02" stroke="#1a1a1a" stroke-width="0.9"/>
<line x1="409.80" y1="679.60" x2="409.80" y2="584.02" stroke="#8a9a9c" stroke-width="0.8" stroke-dasharray="1,1.2"/>
<path d="M379.20,584.02 L379.20,679.60 L501.60,679.60" fill="none" stroke="#3a3a3a" stroke-width="0.9"/>
<line x1="379.20" y1="679.60" x2="379.20" y2="681.20" stroke="#3a3a3a" stroke-width="0.8"/>
<line x1="399.60" y1="679.60" x2="399.60" y2="681.20" stroke="#3a3a3a" stroke-width="0.8"/>
<line x1="420.00" y1="679.60" x2="420.00" y2="681.20" stroke="#3a3a3a" stroke-width="0.8"/>
<line x1="440.40" y1="679.60" x2="440.40" y2="681.20" stroke="#3a3a3a" stroke-width="0.8"/>
<line x1="460.80" y1="679.60" x2="460.80" y2="681.20" stroke="#3a3a3a" stroke-width="0.8"/>
<line x1="481.20" y1="679.60" x2="481.20" y2="681.20" stroke="#3a3a3a" stroke-width="0.8"/>
<line x1="377.60" y1="679.60" x2="379.20" y2="679.60" stroke="#3a3a3a" stroke-width="0.8"/>
<line x1="377.60" y1="652.60" x2="379.20" y2="652.60" stroke="#3a3a3a" stroke-width="0.8"/>
<line x1="377.60" y1="625.60" x2="379.20" y2="625.60" stroke="#3a3a3a" stroke-width="0.8"/>
<line x1="377.60" y1="598.60" x2="379.20" y2="598.60" stroke="#3a3a3a" stroke-width="0.8"/>
<text x="379.60" y="690.90" font-size="8.9" text-anchor="middle" fill="#2a2a2a" transform="translate(379.60 690.90) scale(1 1.038) translate(-379.60 -690.90)">-2</text>
<text x="400.30" y="690.90" font-size="8.9" text-anchor="middle" fill="#2a2a2a" transform="translate(400.30 690.90) scale(1 1.038) translate(-400.30 -690.90)">0</text>
<text x="420.70" y="690.90" font-size="8.9" text-anchor="middle" fill="#2a2a2a" transform="translate(420.70 690.90) scale(1 1.038) translate(-420.70 -690.90)">2</text>
<text x="441.10" y="690.90" font-size="8.9" text-anchor="middle" fill="#2a2a2a" transform="translate(441.10 690.90) scale(1 1.038) translate(-441.10 -690.90)">4</text>
<text x="461.50" y="690.90" font-size="8.9" text-anchor="middle" fill="#2a2a2a" transform="translate(461.50 690.90) scale(1 1.038) translate(-461.50 -690.90)">6</text>
<text x="481.90" y="690.90" font-size="8.9" text-anchor="middle" fill="#2a2a2a" transform="translate(481.90 690.90) scale(1 1.038) translate(-481.90 -690.90)">8</text>
<text x="374.60" y="681.70" font-size="8.9" text-anchor="end" fill="#2a2a2a" transform="translate(374.60 681.70) scale(1 1.038) translate(-374.60 -681.70)">-2</text>
<text x="374.60" y="654.70" font-size="8.9" text-anchor="end" fill="#2a2a2a" transform="translate(374.60 654.70) scale(1 1.038) translate(-374.60 -654.70)">0</text>
<text x="374.60" y="627.70" font-size="8.9" text-anchor="end" fill="#2a2a2a" transform="translate(374.60 627.70) scale(1 1.038) translate(-374.60 -627.70)">2</text>
<text x="374.60" y="600.70" font-size="8.9" text-anchor="end" fill="#2a2a2a" transform="translate(374.60 600.70) scale(1 1.038) translate(-374.60 -600.70)">4</text>
<text x="380.50" y="579.60" font-size="9.5" fill="#8cc63e" textLength="65.7" lengthAdjust="spacingAndGlyphs" transform="translate(380.50 579.60) scale(1 1.038) translate(-380.50 -579.60)">Passive stim 1s</text>
<text x="455.40" y="579.60" font-size="9.5" fill="#9a52ad" textLength="50.9" lengthAdjust="spacingAndGlyphs" transform="translate(455.40 579.60) scale(1 1.038) translate(-455.40 -579.60)">RTPP 1s on</text>
<text x="439.25" y="703.10" font-size="9.5" text-anchor="middle" fill="#1a1a1a" textLength="99.7" lengthAdjust="spacingAndGlyphs" transform="translate(439.25 703.10) scale(1 1.038) translate(-439.25 -703.10)">time from stim onset (s)</text>
<text x="534.20" y="564.60" font-size="28.9" transform="translate(534.20 564.60) scale(1 1.038) translate(-534.20 -564.60)">D</text>
<text x="554.27" y="564.60" font-size="14.8" stroke="#000" stroke-width="0.35" transform="translate(554.27 564.60) scale(1 1.038) translate(-554.27 -564.60)">2</text>
<rect x="564.40" y="583.30" width="51.10" height="96.60" fill="#b9e9ec"/>
<polygon points="543.96,645.74 544.37,646.47 544.78,646.78 545.19,647.03 545.60,647.00 546.00,647.22 546.41,646.93 546.82,646.50 547.23,646.33 547.64,646.29 548.05,646.04 548.46,645.39 548.87,644.93 549.27,644.54 549.68,643.76 550.09,642.95 550.50,643.37 550.91,644.65 551.32,644.90 551.73,643.91 552.14,643.79 552.54,644.70 552.95,645.27 553.36,644.70 553.77,644.21 554.18,644.68 554.59,645.50 555.00,646.19 555.41,646.44 555.82,646.98 556.22,648.31 556.63,649.28 557.04,648.94 557.45,647.94 557.86,647.30 558.27,647.87 558.68,649.07 559.09,650.79 559.49,652.05 559.90,652.31 560.31,652.14 560.72,651.85 561.13,651.70 561.54,651.17 561.95,650.49 562.36,649.24 562.76,649.17 563.17,649.76 563.58,650.83 563.99,651.45 564.40,651.29 564.81,650.27 565.22,648.51 565.63,646.62 566.04,645.22 566.44,644.08 566.85,643.28 567.26,642.85 567.67,641.30 568.08,639.43 568.49,637.76 568.90,636.57 569.31,635.45 569.71,633.53 570.12,631.87 570.53,631.64 570.94,632.35 571.35,632.82 571.76,631.96 572.17,631.03 572.58,630.42 572.98,630.12 573.39,630.08 573.80,630.43 574.21,630.69 574.62,630.94 575.03,630.95 575.44,631.14 575.85,630.96 576.26,631.09 576.66,631.38 577.07,632.26 577.48,632.80 577.89,632.67 578.30,632.40 578.71,633.18 579.12,634.00 579.53,633.81 579.93,633.48 580.34,633.90 580.75,634.71 581.16,634.98 581.57,634.53 581.98,633.82 582.39,633.31 582.80,633.20 583.20,633.10 583.61,632.53 584.02,632.18 584.43,632.82 584.84,633.19 585.25,633.21 585.66,632.29 586.07,631.50 586.48,630.81 586.88,630.22 587.29,630.15 587.70,629.87 588.11,629.50 588.52,629.11 588.93,628.73 589.34,628.49 589.75,628.48 590.15,628.37 590.56,627.97 590.97,627.43 591.38,627.62 591.79,628.27 592.20,628.39 592.61,627.82 593.02,627.09 593.42,626.55 593.83,626.22 594.24,626.12 594.65,626.64 595.06,626.50 595.47,625.75 595.88,625.00 596.29,625.55 596.70,625.79 597.10,624.68 597.51,623.31 597.92,622.93 598.33,623.81 598.74,624.68 599.15,624.72 599.56,624.89 599.97,624.94 600.37,625.42 600.78,625.13 601.19,624.78 601.60,625.50 602.01,626.17 602.42,626.37 602.83,625.48 603.24,624.34 603.64,623.77 604.05,624.05 604.46,624.25 604.87,624.06 605.28,623.42 605.69,622.75 606.10,622.24 606.51,621.89 606.92,621.95 607.32,621.70 607.73,621.42 608.14,621.22 608.55,621.10 608.96,621.56 609.37,621.76 609.78,621.47 610.19,620.10 610.59,619.17 611.00,618.89 611.41,618.73 611.82,618.89 612.23,619.16 612.64,618.64 613.05,617.82 613.46,617.42 613.86,618.35 614.27,619.40 614.68,619.85 615.09,619.62 615.50,619.34 615.91,619.34 616.32,619.69 616.73,620.09 617.14,619.76 617.54,618.77 617.95,618.17 618.36,618.68 618.77,619.49 619.18,618.32 619.59,615.35 620.00,611.46 620.41,608.05 620.81,605.53 621.22,603.71 621.63,602.33 622.04,600.26 622.45,598.56 622.86,597.97 623.27,598.20 623.68,598.91 624.08,599.28 624.49,600.29 624.90,601.38 625.31,602.94 625.72,604.34 626.13,605.67 626.54,607.09 626.95,608.59 627.36,610.02 627.76,611.18 628.17,612.16 628.58,613.67 628.99,615.44 629.40,617.04 629.81,618.20 630.22,619.18 630.63,620.15 631.03,621.36 631.44,622.60 631.85,623.77 632.26,624.90 632.67,625.91 633.08,627.01 633.49,627.25 633.90,627.75 634.30,628.42 634.71,628.85 635.12,628.87 635.53,629.15 635.94,630.48 636.35,631.47 636.76,631.77 637.17,631.98 637.58,632.59 637.98,633.51 638.39,634.15 638.80,634.64 639.21,634.59 639.62,634.52 640.03,634.68 640.44,635.31 640.85,635.73 641.25,635.55 641.66,635.56 642.07,635.90 642.48,636.60 642.89,637.06 643.30,637.75 643.71,638.14 644.12,638.29 644.52,638.29 644.93,638.89 645.34,639.75 645.75,640.57 646.16,640.57 646.57,640.38 646.98,639.59 647.39,638.82 647.80,638.74 648.20,639.09 648.61,639.18 649.02,638.84 649.43,638.40 649.84,638.89 650.25,639.07 650.66,639.00 651.07,638.66 651.47,638.78 651.88,638.44 652.29,637.07 652.70,635.83 653.11,636.01 653.52,636.57 653.93,636.09 654.34,635.33 654.74,634.65 655.15,633.74 655.56,633.42 655.97,633.36 656.38,633.71 656.79,633.57 657.20,634.38 657.61,636.02 658.02,636.81 658.42,637.07 658.83,638.41 659.24,639.98 659.65,640.91 660.06,640.87 660.47,641.16 660.88,642.04 661.29,642.81 661.69,643.55 662.10,643.68 662.51,643.23 662.92,643.27 663.33,643.35 663.74,643.11 664.15,642.49 664.56,641.94 664.96,642.13 665.37,642.39 665.78,642.86 666.19,642.89 666.60,642.59 666.60,650.31 666.19,650.61 665.78,650.59 665.37,650.12 664.96,649.86 664.56,649.67 664.15,650.22 663.74,650.84 663.33,651.07 662.92,651.00 662.51,650.96 662.10,651.40 661.69,651.28 661.29,650.54 660.88,649.77 660.47,648.89 660.06,648.60 659.65,648.64 659.24,647.71 658.83,646.14 658.42,644.80 658.02,644.53 657.61,643.75 657.20,642.11 656.79,641.30 656.38,641.44 655.97,641.09 655.56,641.15 655.15,641.47 654.74,642.38 654.34,643.05 653.93,643.82 653.52,644.29 653.11,643.74 652.70,643.56 652.29,644.79 651.88,646.16 651.47,646.50 651.07,646.39 650.66,646.73 650.25,646.80 649.84,646.62 649.43,646.13 649.02,646.57 648.61,646.91 648.20,646.82 647.80,646.47 647.39,646.55 646.98,647.32 646.57,648.10 646.16,648.30 645.75,648.30 645.34,647.48 644.93,646.62 644.52,646.02 644.12,646.01 643.71,645.87 643.30,645.47 642.89,644.79 642.48,644.33 642.07,643.63 641.66,643.29 641.25,643.28 640.85,643.46 640.44,643.03 640.03,642.40 639.62,642.25 639.21,642.31 638.80,642.36 638.39,641.88 637.98,641.23 637.58,640.32 637.17,639.70 636.76,639.50 636.35,639.20 635.94,638.21 635.53,636.88 635.12,636.60 634.71,636.57 634.30,636.15 633.90,635.48 633.49,634.98 633.08,634.74 632.67,633.64 632.26,632.62 631.85,631.50 631.44,630.33 631.03,629.09 630.63,627.87 630.22,626.91 629.81,625.93 629.40,624.77 628.99,623.17 628.58,621.40 628.17,619.89 627.76,618.91 627.36,617.75 626.95,616.32 626.54,614.82 626.13,613.39 625.72,612.07 625.31,610.67 624.90,609.11 624.49,608.02 624.08,607.00 623.68,606.64 623.27,605.92 622.86,605.69 622.45,606.29 622.04,607.98 621.63,610.06 621.22,611.44 620.81,613.26 620.41,615.77 620.00,619.19 619.59,623.08 619.18,626.05 618.77,627.22 618.36,626.41 617.95,625.90 617.54,626.50 617.14,627.49 616.73,627.82 616.32,627.41 615.91,627.07 615.50,627.06 615.09,627.35 614.68,627.57 614.27,627.13 613.86,626.08 613.46,625.15 613.05,625.55 612.64,626.36 612.23,626.89 611.82,626.62 611.41,626.46 611.00,626.62 610.59,626.90 610.19,627.83 609.78,629.20 609.37,629.49 608.96,629.29 608.55,628.82 608.14,628.95 607.73,629.15 607.32,629.43 606.92,629.67 606.51,629.62 606.10,629.97 605.69,630.47 605.28,631.15 604.87,631.79 604.46,631.97 604.05,631.77 603.64,631.49 603.24,632.07 602.83,633.21 602.42,634.10 602.01,633.90 601.60,633.23 601.19,632.51 600.78,632.86 600.37,633.15 599.97,632.67 599.56,632.62 599.15,632.45 598.74,632.41 598.33,631.54 597.92,630.66 597.51,631.03 597.10,632.41 596.70,633.52 596.29,633.28 595.88,632.72 595.47,633.47 595.06,634.22 594.65,634.37 594.24,633.85 593.83,633.95 593.42,634.28 593.02,634.82 592.61,635.55 592.20,636.11 591.79,635.99 591.38,635.35 590.97,635.16 590.56,635.70 590.15,636.10 589.75,636.21 589.34,636.22 588.93,636.46 588.52,636.84 588.11,637.22 587.70,637.60 587.29,637.88 586.88,637.95 586.48,638.54 586.07,639.22 585.66,640.02 585.25,640.93 584.84,640.92 584.43,640.55 584.02,639.91 583.61,640.26 583.20,640.83 582.80,640.93 582.39,641.03 581.98,641.55 581.57,642.26 581.16,642.71 580.75,642.44 580.34,641.63 579.93,641.21 579.53,641.54 579.12,641.73 578.71,640.91 578.30,640.13 577.89,640.40 577.48,640.53 577.07,639.99 576.66,639.11 576.26,638.82 575.85,638.69 575.44,638.87 575.03,638.68 574.62,638.67 574.21,638.41 573.80,638.15 573.39,637.81 572.98,637.85 572.58,638.15 572.17,638.76 571.76,639.68 571.35,640.55 570.94,640.08 570.53,639.37 570.12,639.60 569.71,641.26 569.31,643.18 568.90,644.30 568.49,645.48 568.08,647.16 567.67,649.03 567.26,650.58 566.85,651.00 566.44,651.81 566.04,652.95 565.63,654.35 565.22,656.24 564.81,658.00 564.40,659.02 563.99,659.18 563.58,658.56 563.17,657.49 562.76,656.90 562.36,656.97 561.95,658.22 561.54,658.90 561.13,659.42 560.72,659.58 560.31,659.87 559.90,660.04 559.49,659.77 559.09,658.52 558.68,656.80 558.27,655.60 557.86,655.03 557.45,655.67 557.04,656.66 556.63,657.01 556.22,656.04 555.82,654.71 555.41,654.17 555.00,653.92 554.59,653.22 554.18,652.41 553.77,651.94 553.36,652.43 552.95,653.00 552.54,652.43 552.14,651.52 551.73,651.64 551.32,652.63 550.91,652.38 550.50,651.10 550.09,650.68 549.68,651.49 549.27,652.27 548.87,652.66 548.46,653.12 548.05,653.77 547.64,654.01 547.23,654.06 546.82,654.23 546.41,654.66 546.00,654.95 545.60,654.72 545.19,654.76 544.78,654.51 544.37,654.20 543.96,653.47" fill="rgba(140,198,62,0.5)" stroke="none"/>
<polyline points="543.96,649.24 544.37,650.35 544.78,651.41 545.19,650.18 545.60,651.10 546.00,651.30 546.41,650.84 546.82,650.23 547.23,650.02 547.64,650.34 548.05,650.09 548.46,649.27 548.87,648.40 549.27,648.72 549.68,648.11 550.09,646.06 550.50,646.27 550.91,649.37 551.32,649.89 551.73,647.02 552.14,646.41 552.54,649.53 552.95,649.76 553.36,648.11 553.77,647.83 554.18,648.29 554.59,649.51 555.00,650.28 555.41,650.38 555.82,650.24 556.22,651.91 556.63,654.37 557.04,653.13 557.45,650.89 557.86,651.38 558.27,651.23 558.68,652.60 559.09,654.98 559.49,656.38 559.90,656.37 560.31,655.78 560.72,655.86 561.13,655.50 561.54,655.32 561.95,654.29 562.36,653.46 562.76,651.57 563.17,654.08 563.58,655.23 563.99,654.78 564.40,655.93 564.81,654.77 565.22,651.72 565.63,650.63 566.04,649.11 566.44,647.52 566.85,647.21 567.26,646.69 567.67,646.25 568.08,642.56 568.49,641.09 568.90,641.21 569.31,639.01 569.71,637.72 570.12,635.45 570.53,634.02 570.94,637.03 571.35,637.58 571.76,635.44 572.17,634.44 572.58,634.80 572.98,633.61 573.39,633.54 573.80,634.69 574.21,634.64 574.62,634.32 575.03,635.46 575.44,634.66 575.85,634.89 576.26,634.91 576.66,635.06 577.07,635.76 577.48,637.55 577.89,636.70 578.30,635.35 578.71,636.75 579.12,639.03 579.53,637.82 579.93,636.17 580.34,638.05 580.75,639.07 581.16,638.60 581.57,638.88 581.98,637.70 582.39,636.47 582.80,637.34 583.20,637.38 583.61,636.18 584.02,635.63 584.43,636.33 584.84,638.08 585.25,636.74 585.66,636.38 586.07,635.34 586.48,634.35 586.88,634.34 587.29,633.57 587.70,634.14 588.11,633.49 588.52,632.45 588.93,632.98 589.34,632.36 589.75,631.73 590.15,632.94 590.56,632.04 590.97,630.54 591.38,631.30 591.79,632.61 592.20,632.48 592.61,631.66 593.02,630.92 593.42,630.28 593.83,630.05 594.24,629.93 594.65,629.98 595.06,631.59 595.47,629.51 595.88,627.72 596.29,629.35 596.70,631.17 597.10,628.46 597.51,626.00 597.92,627.05 598.33,627.35 598.74,628.63 599.15,629.66 599.56,627.46 599.97,629.14 600.37,629.82 600.78,628.88 601.19,628.27 601.60,628.79 602.01,631.03 602.42,630.27 602.83,629.40 603.24,628.35 603.64,626.86 604.05,627.67 604.46,629.20 604.87,627.46 605.28,627.11 605.69,627.27 606.10,625.45 606.51,625.59 606.92,626.22 607.32,625.61 607.73,624.85 608.14,625.39 608.55,625.01 608.96,624.48 609.37,626.79 609.78,625.60 610.19,623.61 610.59,622.69 611.00,622.80 611.41,622.77 611.82,622.21 612.23,623.28 612.64,623.58 613.05,620.64 613.46,620.83 613.86,622.39 614.27,623.42 614.68,623.98 615.09,623.73 615.50,622.76 615.91,623.11 616.32,623.73 616.73,623.81 617.14,624.33 617.54,622.73 617.95,620.85 618.36,622.52 618.77,624.26 619.18,623.27 619.59,619.02 620.00,615.35 620.41,611.60 620.81,608.78 621.22,607.81 621.63,606.14 622.04,604.62 622.45,601.59 622.86,601.06 623.27,602.84 623.68,602.29 624.08,603.21 624.49,603.93 624.90,605.34 625.31,606.46 625.72,608.60 626.13,609.55 626.54,610.44 626.95,612.87 627.36,614.07 627.76,614.71 628.17,616.35 628.58,617.02 628.99,619.22 629.40,621.67 629.81,621.81 630.22,622.70 630.63,624.62 631.03,624.72 631.44,626.34 631.85,628.33 632.26,628.23 632.67,629.72 633.08,631.37 633.49,631.54 633.90,630.45 634.30,632.86 634.71,633.55 635.12,631.72 635.53,632.93 635.94,634.39 636.35,635.72 636.76,635.89 637.17,635.31 637.58,636.33 637.98,637.73 638.39,638.05 638.80,638.25 639.21,639.20 639.62,637.90 640.03,638.06 640.44,639.66 640.85,639.79 641.25,639.34 641.66,639.11 642.07,639.82 642.48,640.36 642.89,641.22 643.30,641.21 643.71,642.40 644.12,642.41 644.52,641.64 644.93,642.41 645.34,644.22 645.75,644.22 646.16,644.86 646.57,644.21 646.98,643.65 647.39,642.51 647.80,641.91 648.20,643.39 648.61,643.57 649.02,642.18 649.43,642.37 649.84,642.24 650.25,643.66 650.66,642.91 651.07,642.04 651.47,642.65 651.88,643.24 652.29,641.01 652.70,638.54 653.11,639.52 653.52,641.56 653.93,640.20 654.34,638.10 654.74,639.26 655.15,638.18 655.56,635.37 655.97,638.30 656.38,638.00 656.79,636.41 657.20,637.88 657.61,640.44 658.02,641.34 658.42,640.23 658.83,641.22 659.24,645.37 659.65,644.94 660.06,644.02 660.47,645.26 660.88,645.79 661.29,646.68 661.69,647.57 662.10,647.99 662.51,647.05 662.92,646.23 663.33,648.12 663.74,647.28 664.15,645.52 664.56,646.26 664.96,645.64 665.37,646.08 665.78,647.06 666.19,647.04 666.60,646.16" fill="none" stroke="#8cc63e" stroke-width="1.0" stroke-linejoin="round"/>
<line x1="564.40" y1="679.90" x2="564.40" y2="583.30" stroke="#1a1a1a" stroke-width="0.9"/>
<line x1="615.50" y1="679.90" x2="615.50" y2="583.30" stroke="#1a1a1a" stroke-width="0.9"/>
<path d="M543.96,583.30 L543.96,679.90 L666.60,679.90" fill="none" stroke="#3a3a3a" stroke-width="0.9"/>
<line x1="543.96" y1="679.90" x2="543.96" y2="681.50" stroke="#3a3a3a" stroke-width="0.8"/>
<line x1="564.40" y1="679.90" x2="564.40" y2="681.50" stroke="#3a3a3a" stroke-width="0.8"/>
<line x1="584.84" y1="679.90" x2="584.84" y2="681.50" stroke="#3a3a3a" stroke-width="0.8"/>
<line x1="605.28" y1="679.90" x2="605.28" y2="681.50" stroke="#3a3a3a" stroke-width="0.8"/>
<line x1="625.72" y1="679.90" x2="625.72" y2="681.50" stroke="#3a3a3a" stroke-width="0.8"/>
<line x1="646.16" y1="679.90" x2="646.16" y2="681.50" stroke="#3a3a3a" stroke-width="0.8"/>
<line x1="542.36" y1="679.90" x2="543.96" y2="679.90" stroke="#3a3a3a" stroke-width="0.8"/>
<line x1="542.36" y1="652.30" x2="543.96" y2="652.30" stroke="#3a3a3a" stroke-width="0.8"/>
<line x1="542.36" y1="624.70" x2="543.96" y2="624.70" stroke="#3a3a3a" stroke-width="0.8"/>
<line x1="542.36" y1="597.10" x2="543.96" y2="597.10" stroke="#3a3a3a" stroke-width="0.8"/>
<text x="546.86" y="691.20" font-size="8.9" text-anchor="middle" fill="#2a2a2a" transform="translate(546.86 691.20) scale(1 1.038) translate(-546.86 -691.20)">-2</text>
<text x="568.70" y="691.20" font-size="8.9" text-anchor="middle" fill="#2a2a2a" transform="translate(568.70 691.20) scale(1 1.038) translate(-568.70 -691.20)">0</text>
<text x="587.74" y="691.20" font-size="8.9" text-anchor="middle" fill="#2a2a2a" transform="translate(587.74 691.20) scale(1 1.038) translate(-587.74 -691.20)">2</text>
<text x="607.98" y="691.20" font-size="8.9" text-anchor="middle" fill="#2a2a2a" transform="translate(607.98 691.20) scale(1 1.038) translate(-607.98 -691.20)">4</text>
<text x="628.02" y="691.20" font-size="8.9" text-anchor="middle" fill="#2a2a2a" transform="translate(628.02 691.20) scale(1 1.038) translate(-628.02 -691.20)">6</text>
<text x="647.96" y="691.20" font-size="8.9" text-anchor="middle" fill="#2a2a2a" transform="translate(647.96 691.20) scale(1 1.038) translate(-647.96 -691.20)">8</text>
<text x="538.56" y="683.50" font-size="8.9" text-anchor="end" fill="#2a2a2a" transform="translate(538.56 683.50) scale(1 1.038) translate(-538.56 -683.50)">-2</text>
<text x="538.56" y="655.90" font-size="8.9" text-anchor="end" fill="#2a2a2a" transform="translate(538.56 655.90) scale(1 1.038) translate(-538.56 -655.90)">0</text>
<text x="538.56" y="628.30" font-size="8.9" text-anchor="end" fill="#2a2a2a" transform="translate(538.56 628.30) scale(1 1.038) translate(-538.56 -628.30)">2</text>
<text x="538.56" y="600.70" font-size="8.9" text-anchor="end" fill="#2a2a2a" transform="translate(538.56 600.70) scale(1 1.038) translate(-538.56 -600.70)">4</text>
<text x="544.50" y="580.00" font-size="9.5" fill="#8cc63e" textLength="65.9" lengthAdjust="spacingAndGlyphs" transform="translate(544.50 580.00) scale(1 1.038) translate(-544.50 -580.00)">Passive stim 5s</text>
<text x="604.25" y="703.10" font-size="9.5" text-anchor="middle" fill="#1a1a1a" textLength="99.7" lengthAdjust="spacingAndGlyphs" transform="translate(604.25 703.10) scale(1 1.038) translate(-604.25 -703.10)">time from stim onset (s)</text>
<rect x="44.40" y="764.30" width="11.80" height="1.36" fill="#8cc63e"/>
<rect x="62.30" y="764.30" width="11.40" height="18.36" fill="#8cc63e"/>
<line x1="49.70" y1="757.73" x2="67.90" y2="773.37" stroke="#b0b0b0" stroke-width="0.6"/>
<line x1="52.10" y1="760.34" x2="66.20" y2="776.61" stroke="#b0b0b0" stroke-width="0.6"/>
<line x1="50.60" y1="766.91" x2="70.70" y2="780.47" stroke="#b0b0b0" stroke-width="0.6"/>
<line x1="48.30" y1="769.51" x2="69.70" y2="789.75" stroke="#b0b0b0" stroke-width="0.6"/>
<line x1="50.90" y1="771.71" x2="67.60" y2="792.36" stroke="#b0b0b0" stroke-width="0.6"/>
<line x1="50.90" y1="769.51" x2="50.90" y2="761.69" stroke="#1a1a1a" stroke-width="1.1"/>
<line x1="67.60" y1="777.86" x2="67.60" y2="789.33" stroke="#1a1a1a" stroke-width="1.1"/>
<line x1="42.50" y1="764.30" x2="75.40" y2="764.30" stroke="#1a1a1a" stroke-width="0.9" stroke-dasharray="1.2,1.2"/>
<circle cx="49.70" cy="757.73" r="2.0" fill="#8cc63e" stroke="#1a1a1a" stroke-width="0.8"/>
<circle cx="52.10" cy="760.34" r="2.0" fill="#8cc63e" stroke="#1a1a1a" stroke-width="0.8"/>
<circle cx="50.60" cy="766.91" r="2.0" fill="#8cc63e" stroke="#1a1a1a" stroke-width="0.8"/>
<circle cx="48.30" cy="769.51" r="2.0" fill="#8cc63e" stroke="#1a1a1a" stroke-width="0.8"/>
<circle cx="50.90" cy="771.71" r="2.0" fill="#8cc63e" stroke="#1a1a1a" stroke-width="0.8"/>
<circle cx="67.90" cy="773.37" r="2.0" fill="#8cc63e" stroke="#1a1a1a" stroke-width="0.8"/>
<circle cx="66.20" cy="776.61" r="2.0" fill="#8cc63e" stroke="#1a1a1a" stroke-width="0.8"/>
<circle cx="70.70" cy="780.47" r="2.0" fill="#8cc63e" stroke="#1a1a1a" stroke-width="0.8"/>
<circle cx="69.70" cy="789.75" r="2.0" fill="#8cc63e" stroke="#1a1a1a" stroke-width="0.8"/>
<circle cx="67.60" cy="792.36" r="2.0" fill="#8cc63e" stroke="#1a1a1a" stroke-width="0.8"/>
<line x1="42.50" y1="722.58" x2="42.50" y2="806.02" stroke="#3a3a3a" stroke-width="0.9"/>
<line x1="40.90" y1="806.02" x2="42.50" y2="806.02" stroke="#3a3a3a" stroke-width="0.8"/>
<text x="38.50" y="809.37" font-size="9.3" text-anchor="end" fill="#2a2a2a" transform="translate(38.50 809.37) scale(1 1.038) translate(-38.50 -809.37)">-4</text>
<line x1="40.90" y1="785.16" x2="42.50" y2="785.16" stroke="#3a3a3a" stroke-width="0.8"/>
<text x="38.50" y="788.51" font-size="9.3" text-anchor="end" fill="#2a2a2a" transform="translate(38.50 788.51) scale(1 1.038) translate(-38.50 -788.51)">-2</text>
<line x1="40.90" y1="764.30" x2="42.50" y2="764.30" stroke="#3a3a3a" stroke-width="0.8"/>
<text x="38.50" y="767.65" font-size="9.3" text-anchor="end" fill="#2a2a2a" transform="translate(38.50 767.65) scale(1 1.038) translate(-38.50 -767.65)">0</text>
<line x1="40.90" y1="743.44" x2="42.50" y2="743.44" stroke="#3a3a3a" stroke-width="0.8"/>
<text x="38.50" y="746.79" font-size="9.3" text-anchor="end" fill="#2a2a2a" transform="translate(38.50 746.79) scale(1 1.038) translate(-38.50 -746.79)">2</text>
<line x1="40.90" y1="722.58" x2="42.50" y2="722.58" stroke="#3a3a3a" stroke-width="0.8"/>
<text x="38.50" y="725.93" font-size="9.3" text-anchor="end" fill="#2a2a2a" transform="translate(38.50 725.93) scale(1 1.038) translate(-38.50 -725.93)">4</text>
<line x1="51.30" y1="742.40" x2="69.00" y2="742.40" stroke="#3a3a3a" stroke-width="0.9"/>
<text x="60.40" y="739.60" font-size="8.2" font-style="italic" text-anchor="middle" fill="#1a1a1a" textLength="4.0" lengthAdjust="spacingAndGlyphs" transform="translate(60.40 739.60) scale(1 1.038) translate(-60.40 -739.60)">#</text>
<text x="53.80" y="807.50" font-size="9.6" text-anchor="end" fill="#1a1a1a" transform="translate(53.80 807.50) rotate(-48) scale(1 1.038) translate(-53.80 -807.50)">pre</text>
<text x="72.50" y="807.50" font-size="9.6" text-anchor="end" fill="#1a1a1a" transform="translate(72.50 807.50) rotate(-48) scale(1 1.038) translate(-72.50 -807.50)">stim</text>
<text x="27.30" y="763.40" font-size="9.5" text-anchor="middle" fill="#1a1a1a" textLength="31.5" lengthAdjust="spacingAndGlyphs" transform="translate(27.30 763.40) rotate(-90) scale(1 1.038) translate(-27.30 -763.40)">z-score</text>
<rect x="102.10" y="758.25" width="11.00" height="6.05" fill="#8c4c9e"/>
<rect x="119.20" y="764.30" width="11.10" height="9.07" fill="#8c4c9e"/>
<line x1="107.30" y1="751.68" x2="124.50" y2="775.15" stroke="#b0b0b0" stroke-width="0.6"/>
<line x1="104.70" y1="755.96" x2="121.90" y2="776.92" stroke="#b0b0b0" stroke-width="0.6"/>
<line x1="110.50" y1="753.87" x2="126.80" y2="779.21" stroke="#b0b0b0" stroke-width="0.6"/>
<line x1="109.30" y1="758.56" x2="124.50" y2="781.51" stroke="#b0b0b0" stroke-width="0.6"/>
<line x1="107.30" y1="770.35" x2="124.10" y2="757.31" stroke="#b0b0b0" stroke-width="0.6"/>
<line x1="107.30" y1="761.17" x2="107.30" y2="755.43" stroke="#1a1a1a" stroke-width="1.1"/>
<line x1="124.50" y1="770.56" x2="124.50" y2="779.42" stroke="#1a1a1a" stroke-width="1.1"/>
<line x1="98.70" y1="764.30" x2="131.50" y2="764.30" stroke="#1a1a1a" stroke-width="0.9" stroke-dasharray="1.2,1.2"/>
<circle cx="107.30" cy="751.68" r="2.0" fill="#8c4c9e" stroke="#1a1a1a" stroke-width="0.8"/>
<circle cx="104.70" cy="755.96" r="2.0" fill="#8c4c9e" stroke="#1a1a1a" stroke-width="0.8"/>
<circle cx="110.50" cy="753.87" r="2.0" fill="#8c4c9e" stroke="#1a1a1a" stroke-width="0.8"/>
<circle cx="109.30" cy="758.56" r="2.0" fill="#8c4c9e" stroke="#1a1a1a" stroke-width="0.8"/>
<circle cx="107.30" cy="770.35" r="2.0" fill="#8c4c9e" stroke="#1a1a1a" stroke-width="0.8"/>
<circle cx="124.10" cy="757.31" r="2.0" fill="#8c4c9e" stroke="#1a1a1a" stroke-width="0.8"/>
<circle cx="121.90" cy="776.92" r="2.0" fill="#8c4c9e" stroke="#1a1a1a" stroke-width="0.8"/>
<circle cx="124.50" cy="775.15" r="2.0" fill="#8c4c9e" stroke="#1a1a1a" stroke-width="0.8"/>
<circle cx="126.80" cy="779.21" r="2.0" fill="#8c4c9e" stroke="#1a1a1a" stroke-width="0.8"/>
<circle cx="124.50" cy="781.51" r="2.0" fill="#8c4c9e" stroke="#1a1a1a" stroke-width="0.8"/>
<line x1="98.70" y1="722.58" x2="98.70" y2="806.02" stroke="#3a3a3a" stroke-width="0.9"/>
<line x1="97.10" y1="806.02" x2="98.70" y2="806.02" stroke="#3a3a3a" stroke-width="0.8"/>
<text x="94.70" y="809.37" font-size="9.3" text-anchor="end" fill="#2a2a2a" transform="translate(94.70 809.37) scale(1 1.038) translate(-94.70 -809.37)">-4</text>
<line x1="97.10" y1="785.16" x2="98.70" y2="785.16" stroke="#3a3a3a" stroke-width="0.8"/>
<text x="94.70" y="788.51" font-size="9.3" text-anchor="end" fill="#2a2a2a" transform="translate(94.70 788.51) scale(1 1.038) translate(-94.70 -788.51)">-2</text>
<line x1="97.10" y1="764.30" x2="98.70" y2="764.30" stroke="#3a3a3a" stroke-width="0.8"/>
<text x="94.70" y="767.65" font-size="9.3" text-anchor="end" fill="#2a2a2a" transform="translate(94.70 767.65) scale(1 1.038) translate(-94.70 -767.65)">0</text>
<line x1="97.10" y1="743.44" x2="98.70" y2="743.44" stroke="#3a3a3a" stroke-width="0.8"/>
<text x="94.70" y="746.79" font-size="9.3" text-anchor="end" fill="#2a2a2a" transform="translate(94.70 746.79) scale(1 1.038) translate(-94.70 -746.79)">2</text>
<line x1="97.10" y1="722.58" x2="98.70" y2="722.58" stroke="#3a3a3a" stroke-width="0.8"/>
<text x="94.70" y="725.93" font-size="9.3" text-anchor="end" fill="#2a2a2a" transform="translate(94.70 725.93) scale(1 1.038) translate(-94.70 -725.93)">4</text>
<line x1="108.20" y1="742.40" x2="125.70" y2="742.40" stroke="#3a3a3a" stroke-width="0.9"/>
<text x="117.00" y="739.60" font-size="8.2" font-style="italic" text-anchor="middle" fill="#1a1a1a" textLength="4.0" lengthAdjust="spacingAndGlyphs" transform="translate(117.00 739.60) scale(1 1.038) translate(-117.00 -739.60)">#</text>
<text x="110.30" y="807.50" font-size="9.6" text-anchor="end" fill="#1a1a1a" transform="translate(110.30 807.50) rotate(-48) scale(1 1.038) translate(-110.30 -807.50)">pre</text>
<text x="129.30" y="807.50" font-size="9.6" text-anchor="end" fill="#1a1a1a" transform="translate(129.30 807.50) rotate(-48) scale(1 1.038) translate(-129.30 -807.50)">stim</text>
<rect x="225.40" y="758.80" width="11.50" height="1.57" fill="#8cc63e"/>
<rect x="242.80" y="758.80" width="11.30" height="17.19" fill="#8cc63e"/>
<rect x="259.90" y="758.80" width="11.10" height="21.90" fill="#8cc63e"/>
<line x1="230.20" y1="752.83" x2="248.80" y2="770.33" stroke="#b0b0b0" stroke-width="0.6"/>
<line x1="232.90" y1="753.98" x2="251.40" y2="777.45" stroke="#b0b0b0" stroke-width="0.6"/>
<line x1="229.20" y1="763.20" x2="245.50" y2="777.04" stroke="#b0b0b0" stroke-width="0.6"/>
<line x1="234.40" y1="764.46" x2="248.20" y2="775.57" stroke="#b0b0b0" stroke-width="0.6"/>
<line x1="231.40" y1="767.39" x2="248.80" y2="790.14" stroke="#b0b0b0" stroke-width="0.6"/>
<line x1="248.80" y1="770.33" x2="265.10" y2="767.08" stroke="#b0b0b0" stroke-width="0.6"/>
<line x1="251.40" y1="777.45" x2="267.80" y2="778.82" stroke="#b0b0b0" stroke-width="0.6"/>
<line x1="245.50" y1="777.04" x2="262.30" y2="777.04" stroke="#b0b0b0" stroke-width="0.6"/>
<line x1="248.20" y1="775.57" x2="265.50" y2="785.63" stroke="#b0b0b0" stroke-width="0.6"/>
<line x1="248.80" y1="790.14" x2="265.50" y2="797.16" stroke="#b0b0b0" stroke-width="0.6"/>
<line x1="230.20" y1="764.04" x2="230.20" y2="756.70" stroke="#1a1a1a" stroke-width="1.1"/>
<line x1="248.20" y1="772.42" x2="248.20" y2="780.81" stroke="#1a1a1a" stroke-width="1.1"/>
<line x1="265.50" y1="776.62" x2="265.50" y2="785.00" stroke="#1a1a1a" stroke-width="1.1"/>
<line x1="223.20" y1="758.80" x2="273.70" y2="758.80" stroke="#1a1a1a" stroke-width="0.9" stroke-dasharray="1.2,1.2"/>
<circle cx="230.20" cy="752.83" r="2.0" fill="#8cc63e" stroke="#1a1a1a" stroke-width="0.8"/>
<circle cx="232.90" cy="753.98" r="2.0" fill="#8cc63e" stroke="#1a1a1a" stroke-width="0.8"/>
<circle cx="229.20" cy="763.20" r="2.0" fill="#8cc63e" stroke="#1a1a1a" stroke-width="0.8"/>
<circle cx="234.40" cy="764.46" r="2.0" fill="#8cc63e" stroke="#1a1a1a" stroke-width="0.8"/>
<circle cx="231.40" cy="767.39" r="2.0" fill="#8cc63e" stroke="#1a1a1a" stroke-width="0.8"/>
<circle cx="248.80" cy="770.33" r="2.0" fill="#8cc63e" stroke="#1a1a1a" stroke-width="0.8"/>
<circle cx="245.50" cy="777.04" r="2.0" fill="#8cc63e" stroke="#1a1a1a" stroke-width="0.8"/>
<circle cx="251.40" cy="777.45" r="2.0" fill="#8cc63e" stroke="#1a1a1a" stroke-width="0.8"/>
<circle cx="248.20" cy="775.57" r="2.0" fill="#8cc63e" stroke="#1a1a1a" stroke-width="0.8"/>
<circle cx="248.80" cy="790.14" r="2.0" fill="#8cc63e" stroke="#1a1a1a" stroke-width="0.8"/>
<circle cx="265.10" cy="767.08" r="2.0" fill="#8cc63e" stroke="#1a1a1a" stroke-width="0.8"/>
<circle cx="262.30" cy="777.04" r="2.0" fill="#8cc63e" stroke="#1a1a1a" stroke-width="0.8"/>
<circle cx="267.80" cy="778.82" r="2.0" fill="#8cc63e" stroke="#1a1a1a" stroke-width="0.8"/>
<circle cx="265.50" cy="785.63" r="2.0" fill="#8cc63e" stroke="#1a1a1a" stroke-width="0.8"/>
<circle cx="265.50" cy="797.16" r="2.0" fill="#8cc63e" stroke="#1a1a1a" stroke-width="0.8"/>
<line x1="223.20" y1="716.88" x2="223.20" y2="800.72" stroke="#3a3a3a" stroke-width="0.9"/>
<line x1="221.60" y1="800.72" x2="223.20" y2="800.72" stroke="#3a3a3a" stroke-width="0.8"/>
<text x="219.20" y="804.07" font-size="9.3" text-anchor="end" fill="#2a2a2a" transform="translate(219.20 804.07) scale(1 1.038) translate(-219.20 -804.07)">-4</text>
<line x1="221.60" y1="779.76" x2="223.20" y2="779.76" stroke="#3a3a3a" stroke-width="0.8"/>
<text x="219.20" y="783.11" font-size="9.3" text-anchor="end" fill="#2a2a2a" transform="translate(219.20 783.11) scale(1 1.038) translate(-219.20 -783.11)">-2</text>
<line x1="221.60" y1="758.80" x2="223.20" y2="758.80" stroke="#3a3a3a" stroke-width="0.8"/>
<text x="219.20" y="762.15" font-size="9.3" text-anchor="end" fill="#2a2a2a" transform="translate(219.20 762.15) scale(1 1.038) translate(-219.20 -762.15)">0</text>
<line x1="221.60" y1="737.84" x2="223.20" y2="737.84" stroke="#3a3a3a" stroke-width="0.8"/>
<text x="219.20" y="741.19" font-size="9.3" text-anchor="end" fill="#2a2a2a" transform="translate(219.20 741.19) scale(1 1.038) translate(-219.20 -741.19)">2</text>
<line x1="221.60" y1="716.88" x2="223.20" y2="716.88" stroke="#3a3a3a" stroke-width="0.8"/>
<text x="219.20" y="720.23" font-size="9.3" text-anchor="end" fill="#2a2a2a" transform="translate(219.20 720.23) scale(1 1.038) translate(-219.20 -720.23)">4</text>
<line x1="231.80" y1="748.40" x2="249.70" y2="748.40" stroke="#3a3a3a" stroke-width="0.9"/>
<polygon points="240.30,742.40 240.89,743.89 242.49,743.99 241.25,745.01 241.65,746.56 240.30,745.70 238.95,746.56 239.35,745.01 238.11,743.99 239.71,743.89" fill="#111"/>
<line x1="231.80" y1="736.90" x2="266.00" y2="736.90" stroke="#3a3a3a" stroke-width="0.9"/>
<polygon points="248.50,730.60 249.09,732.09 250.69,732.19 249.45,733.21 249.85,734.76 248.50,733.90 247.15,734.76 247.55,733.21 246.31,732.19 247.91,732.09" fill="#111"/>
<text x="235.50" y="811.00" font-size="9.6" text-anchor="end" fill="#1a1a1a" transform="translate(235.50 811.00) rotate(-48) scale(1 1.038) translate(-235.50 -811.00)">pre</text>
<text x="254.50" y="811.00" font-size="9.6" text-anchor="end" fill="#1a1a1a" transform="translate(254.50 811.00) rotate(-48) scale(1 1.038) translate(-254.50 -811.00)">early</text>
<text x="269.50" y="811.00" font-size="9.6" text-anchor="end" fill="#1a1a1a" transform="translate(269.50 811.00) rotate(-48) scale(1 1.038) translate(-269.50 -811.00)">late</text>
<text x="208.10" y="758.50" font-size="9.5" text-anchor="middle" fill="#1a1a1a" textLength="31.2" lengthAdjust="spacingAndGlyphs" transform="translate(208.10 758.50) rotate(-90) scale(1 1.038) translate(-208.10 -758.50)">z-score</text>
<rect x="405.40" y="776.83" width="10.40" height="3.97" fill="#8cc63e"/>
<rect x="423.00" y="758.48" width="10.80" height="22.32" fill="#8cc63e"/>
<line x1="408.20" y1="772.12" x2="425.90" y2="760.96" stroke="#b0b0b0" stroke-width="0.6"/>
<line x1="413.50" y1="771.25" x2="431.60" y2="765.05" stroke="#b0b0b0" stroke-width="0.6"/>
<line x1="410.70" y1="791.22" x2="428.70" y2="741.74" stroke="#b0b0b0" stroke-width="0.6"/>
<line x1="408.20" y1="772.12" x2="429.10" y2="765.05" stroke="#b0b0b0" stroke-width="0.6"/>
<line x1="410.70" y1="781.42" x2="410.70" y2="773.36" stroke="#1a1a1a" stroke-width="1.1"/>
<line x1="428.70" y1="764.68" x2="428.70" y2="753.52" stroke="#1a1a1a" stroke-width="1.1"/>
<line x1="401.60" y1="780.80" x2="436.70" y2="780.80" stroke="#1a1a1a" stroke-width="0.9" stroke-dasharray="1.2,1.2"/>
<circle cx="408.20" cy="772.12" r="2.0" fill="#8cc63e" stroke="#1a1a1a" stroke-width="0.8"/>
<circle cx="413.50" cy="771.25" r="2.0" fill="#8cc63e" stroke="#1a1a1a" stroke-width="0.8"/>
<circle cx="410.70" cy="791.22" r="2.0" fill="#8cc63e" stroke="#1a1a1a" stroke-width="0.8"/>
<circle cx="428.70" cy="741.74" r="2.0" fill="#8cc63e" stroke="#1a1a1a" stroke-width="0.8"/>
<circle cx="425.90" cy="760.96" r="2.0" fill="#8cc63e" stroke="#1a1a1a" stroke-width="0.8"/>
<circle cx="429.10" cy="765.05" r="2.0" fill="#8cc63e" stroke="#1a1a1a" stroke-width="0.8"/>
<circle cx="431.60" cy="765.05" r="2.0" fill="#8cc63e" stroke="#1a1a1a" stroke-width="0.8"/>
<line x1="401.60" y1="718.80" x2="401.60" y2="805.60" stroke="#3a3a3a" stroke-width="0.9"/>
<line x1="400.00" y1="805.60" x2="401.60" y2="805.60" stroke="#3a3a3a" stroke-width="0.8"/>
<text x="397.60" y="808.70" font-size="8.6" text-anchor="end" fill="#2a2a2a" transform="translate(397.60 808.70) scale(1 1.038) translate(-397.60 -808.70)">-2</text>
<line x1="400.00" y1="780.80" x2="401.60" y2="780.80" stroke="#3a3a3a" stroke-width="0.8"/>
<text x="397.60" y="783.90" font-size="8.6" text-anchor="end" fill="#2a2a2a" transform="translate(397.60 783.90) scale(1 1.038) translate(-397.60 -783.90)">0</text>
<line x1="400.00" y1="756.00" x2="401.60" y2="756.00" stroke="#3a3a3a" stroke-width="0.8"/>
<text x="397.60" y="759.10" font-size="8.6" text-anchor="end" fill="#2a2a2a" transform="translate(397.60 759.10) scale(1 1.038) translate(-397.60 -759.10)">2</text>
<line x1="400.00" y1="731.20" x2="401.60" y2="731.20" stroke="#3a3a3a" stroke-width="0.8"/>
<text x="397.60" y="734.30" font-size="8.6" text-anchor="end" fill="#2a2a2a" transform="translate(397.60 734.30) scale(1 1.038) translate(-397.60 -734.30)">4</text>
<line x1="410.70" y1="732.80" x2="428.50" y2="732.80" stroke="#3a3a3a" stroke-width="0.9"/>
<text x="419.70" y="729.90" font-size="7.6" font-style="italic" text-anchor="middle" fill="#1a1a1a" textLength="4.0" lengthAdjust="spacingAndGlyphs" transform="translate(419.70 729.90) scale(1 1.038) translate(-419.70 -729.90)">#</text>
<text x="415.50" y="805.50" font-size="9.6" text-anchor="end" fill="#1a1a1a" transform="translate(415.50 805.50) rotate(-48) scale(1 1.038) translate(-415.50 -805.50)">pre</text>
<text x="433.50" y="805.50" font-size="9.6" text-anchor="end" fill="#1a1a1a" transform="translate(433.50 805.50) rotate(-48) scale(1 1.038) translate(-433.50 -805.50)">stim</text>
<text x="388.30" y="767.00" font-size="9.5" text-anchor="middle" fill="#1a1a1a" textLength="32.3" lengthAdjust="spacingAndGlyphs" transform="translate(388.30 767.00) rotate(-90) scale(1 1.038) translate(-388.30 -767.00)">z-score</text>
<rect x="464.80" y="776.01" width="10.20" height="3.69" fill="#8c4c9e"/>
<rect x="483.20" y="753.99" width="10.40" height="25.71" fill="#8c4c9e"/>
<line x1="467.00" y1="773.18" x2="486.00" y2="747.97" stroke="#b0b0b0" stroke-width="0.6"/>
<line x1="471.40" y1="767.40" x2="491.30" y2="757.56" stroke="#b0b0b0" stroke-width="0.6"/>
<line x1="469.90" y1="787.45" x2="490.20" y2="750.06" stroke="#b0b0b0" stroke-width="0.6"/>
<line x1="467.00" y1="773.18" x2="485.10" y2="762.48" stroke="#b0b0b0" stroke-width="0.6"/>
<line x1="469.90" y1="779.70" x2="469.90" y2="772.94" stroke="#1a1a1a" stroke-width="1.1"/>
<line x1="488.90" y1="757.56" x2="488.90" y2="748.95" stroke="#1a1a1a" stroke-width="1.1"/>
<line x1="460.80" y1="779.70" x2="498.40" y2="779.70" stroke="#1a1a1a" stroke-width="0.9" stroke-dasharray="1.2,1.2"/>
<circle cx="467.00" cy="773.18" r="2.0" fill="#8c4c9e" stroke="#1a1a1a" stroke-width="0.8"/>
<circle cx="471.40" cy="767.40" r="2.0" fill="#8c4c9e" stroke="#1a1a1a" stroke-width="0.8"/>
<circle cx="469.90" cy="787.45" r="2.0" fill="#8c4c9e" stroke="#1a1a1a" stroke-width="0.8"/>
<circle cx="486.00" cy="747.97" r="2.0" fill="#8c4c9e" stroke="#1a1a1a" stroke-width="0.8"/>
<circle cx="490.20" cy="750.06" r="2.0" fill="#8c4c9e" stroke="#1a1a1a" stroke-width="0.8"/>
<circle cx="491.30" cy="757.56" r="2.0" fill="#8c4c9e" stroke="#1a1a1a" stroke-width="0.8"/>
<circle cx="485.10" cy="762.48" r="2.0" fill="#8c4c9e" stroke="#1a1a1a" stroke-width="0.8"/>
<line x1="460.80" y1="718.20" x2="460.80" y2="804.30" stroke="#3a3a3a" stroke-width="0.9"/>
<line x1="459.20" y1="804.30" x2="460.80" y2="804.30" stroke="#3a3a3a" stroke-width="0.8"/>
<text x="456.80" y="807.40" font-size="8.6" text-anchor="end" fill="#2a2a2a" transform="translate(456.80 807.40) scale(1 1.038) translate(-456.80 -807.40)">-2</text>
<line x1="459.20" y1="779.70" x2="460.80" y2="779.70" stroke="#3a3a3a" stroke-width="0.8"/>
<text x="456.80" y="782.80" font-size="8.6" text-anchor="end" fill="#2a2a2a" transform="translate(456.80 782.80) scale(1 1.038) translate(-456.80 -782.80)">0</text>
<line x1="459.20" y1="755.10" x2="460.80" y2="755.10" stroke="#3a3a3a" stroke-width="0.8"/>
<text x="456.80" y="758.20" font-size="8.6" text-anchor="end" fill="#2a2a2a" transform="translate(456.80 758.20) scale(1 1.038) translate(-456.80 -758.20)">2</text>
<line x1="459.20" y1="730.50" x2="460.80" y2="730.50" stroke="#3a3a3a" stroke-width="0.8"/>
<text x="456.80" y="733.60" font-size="8.6" text-anchor="end" fill="#2a2a2a" transform="translate(456.80 733.60) scale(1 1.038) translate(-456.80 -733.60)">4</text>
<line x1="470.30" y1="736.60" x2="487.90" y2="736.60" stroke="#3a3a3a" stroke-width="0.9"/>
<text x="478.90" y="733.70" font-size="7.6" font-style="italic" text-anchor="middle" fill="#1a1a1a" textLength="4.0" lengthAdjust="spacingAndGlyphs" transform="translate(478.90 733.70) scale(1 1.038) translate(-478.90 -733.70)">#</text>
<text x="475.50" y="805.50" font-size="9.6" text-anchor="end" fill="#1a1a1a" transform="translate(475.50 805.50) rotate(-48) scale(1 1.038) translate(-475.50 -805.50)">pre</text>
<text x="492.50" y="805.50" font-size="9.6" text-anchor="end" fill="#1a1a1a" transform="translate(492.50 805.50) rotate(-48) scale(1 1.038) translate(-492.50 -805.50)">stim</text>
<rect x="585.20" y="778.40" width="10.80" height="3.60" fill="#8cc63e"/>
<rect x="602.00" y="759.20" width="10.00" height="19.20" fill="#8cc63e"/>
<rect x="618.10" y="748.52" width="10.70" height="29.88" fill="#8cc63e"/>
<line x1="590.60" y1="768.68" x2="607.00" y2="746.36" stroke="#b0b0b0" stroke-width="0.6"/>
<line x1="588.00" y1="784.28" x2="604.10" y2="758.84" stroke="#b0b0b0" stroke-width="0.6"/>
<line x1="592.70" y1="784.28" x2="609.50" y2="761.96" stroke="#b0b0b0" stroke-width="0.6"/>
<line x1="590.60" y1="790.04" x2="607.00" y2="769.40" stroke="#b0b0b0" stroke-width="0.6"/>
<line x1="607.00" y1="746.36" x2="623.40" y2="737.48" stroke="#b0b0b0" stroke-width="0.6"/>
<line x1="604.10" y1="758.84" x2="620.80" y2="751.04" stroke="#b0b0b0" stroke-width="0.6"/>
<line x1="609.50" y1="761.96" x2="623.10" y2="752.72" stroke="#b0b0b0" stroke-width="0.6"/>
<line x1="607.00" y1="769.40" x2="625.80" y2="752.24" stroke="#b0b0b0" stroke-width="0.6"/>
<line x1="590.60" y1="777.20" x2="590.60" y2="787.40" stroke="#1a1a1a" stroke-width="1.1"/>
<line x1="607.00" y1="759.20" x2="607.00" y2="754.40" stroke="#1a1a1a" stroke-width="1.1"/>
<line x1="623.40" y1="748.52" x2="623.40" y2="744.20" stroke="#1a1a1a" stroke-width="1.1"/>
<line x1="582.30" y1="778.40" x2="631.20" y2="778.40" stroke="#1a1a1a" stroke-width="0.9" stroke-dasharray="1.2,1.2"/>
<circle cx="590.60" cy="768.68" r="2.0" fill="#8cc63e" stroke="#1a1a1a" stroke-width="0.8"/>
<circle cx="588.00" cy="784.28" r="2.0" fill="#8cc63e" stroke="#1a1a1a" stroke-width="0.8"/>
<circle cx="592.70" cy="784.28" r="2.0" fill="#8cc63e" stroke="#1a1a1a" stroke-width="0.8"/>
<circle cx="590.60" cy="790.04" r="2.0" fill="#8cc63e" stroke="#1a1a1a" stroke-width="0.8"/>
<circle cx="607.00" cy="746.36" r="2.0" fill="#8cc63e" stroke="#1a1a1a" stroke-width="0.8"/>
<circle cx="604.10" cy="758.84" r="2.0" fill="#8cc63e" stroke="#1a1a1a" stroke-width="0.8"/>
<circle cx="609.50" cy="761.96" r="2.0" fill="#8cc63e" stroke="#1a1a1a" stroke-width="0.8"/>
<circle cx="607.00" cy="769.40" r="2.0" fill="#8cc63e" stroke="#1a1a1a" stroke-width="0.8"/>
<circle cx="623.40" cy="737.48" r="2.0" fill="#8cc63e" stroke="#1a1a1a" stroke-width="0.8"/>
<circle cx="620.80" cy="751.04" r="2.0" fill="#8cc63e" stroke="#1a1a1a" stroke-width="0.8"/>
<circle cx="623.10" cy="752.72" r="2.0" fill="#8cc63e" stroke="#1a1a1a" stroke-width="0.8"/>
<circle cx="625.80" cy="752.24" r="2.0" fill="#8cc63e" stroke="#1a1a1a" stroke-width="0.8"/>
<line x1="582.30" y1="718.40" x2="582.30" y2="802.40" stroke="#3a3a3a" stroke-width="0.9"/>
<line x1="580.70" y1="802.40" x2="582.30" y2="802.40" stroke="#3a3a3a" stroke-width="0.8"/>
<text x="578.30" y="805.50" font-size="8.6" text-anchor="end" fill="#2a2a2a" transform="translate(578.30 805.50) scale(1 1.038) translate(-578.30 -805.50)">-2</text>
<line x1="580.70" y1="778.40" x2="582.30" y2="778.40" stroke="#3a3a3a" stroke-width="0.8"/>
<text x="578.30" y="781.50" font-size="8.6" text-anchor="end" fill="#2a2a2a" transform="translate(578.30 781.50) scale(1 1.038) translate(-578.30 -781.50)">0</text>
<line x1="580.70" y1="754.40" x2="582.30" y2="754.40" stroke="#3a3a3a" stroke-width="0.8"/>
<text x="578.30" y="757.50" font-size="8.6" text-anchor="end" fill="#2a2a2a" transform="translate(578.30 757.50) scale(1 1.038) translate(-578.30 -757.50)">2</text>
<line x1="580.70" y1="730.40" x2="582.30" y2="730.40" stroke="#3a3a3a" stroke-width="0.8"/>
<text x="578.30" y="733.50" font-size="8.6" text-anchor="end" fill="#2a2a2a" transform="translate(578.30 733.50) scale(1 1.038) translate(-578.30 -733.50)">4</text>
<line x1="589.70" y1="739.50" x2="607.70" y2="739.50" stroke="#3a3a3a" stroke-width="0.9"/>
<polygon points="598.70,733.10 599.29,734.59 600.89,734.69 599.65,735.71 600.05,737.26 598.70,736.40 597.35,737.26 597.75,735.71 596.51,734.69 598.11,734.59" fill="#111"/>
<line x1="590.00" y1="729.40" x2="620.80" y2="729.40" stroke="#3a3a3a" stroke-width="0.9"/>
<polygon points="602.50,722.50 603.09,723.99 604.69,724.09 603.45,725.11 603.85,726.66 602.50,725.80 601.15,726.66 601.55,725.11 600.31,724.09 601.91,723.99" fill="#111"/>
<polygon points="607.50,722.50 608.09,723.99 609.69,724.09 608.45,725.11 608.85,726.66 607.50,725.80 606.15,726.66 606.55,725.11 605.31,724.09 606.91,723.99" fill="#111"/>
<text x="594.00" y="803.50" font-size="9.6" text-anchor="end" fill="#1a1a1a" transform="translate(594.00 803.50) rotate(-48) scale(1 1.038) translate(-594.00 -803.50)">pre</text>
<text x="612.50" y="803.50" font-size="9.6" text-anchor="end" fill="#1a1a1a" transform="translate(612.50 803.50) rotate(-48) scale(1 1.038) translate(-612.50 -803.50)">early</text>
<text x="627.50" y="803.50" font-size="9.6" text-anchor="end" fill="#1a1a1a" transform="translate(627.50 803.50) rotate(-48) scale(1 1.038) translate(-627.50 -803.50)">late</text>
<text x="568.50" y="766.30" font-size="9.5" text-anchor="middle" fill="#1a1a1a" textLength="31.3" lengthAdjust="spacingAndGlyphs" transform="translate(568.50 766.30) rotate(-90) scale(1 1.038) translate(-568.50 -766.30)">z-score</text>
</svg>
</body></html>
